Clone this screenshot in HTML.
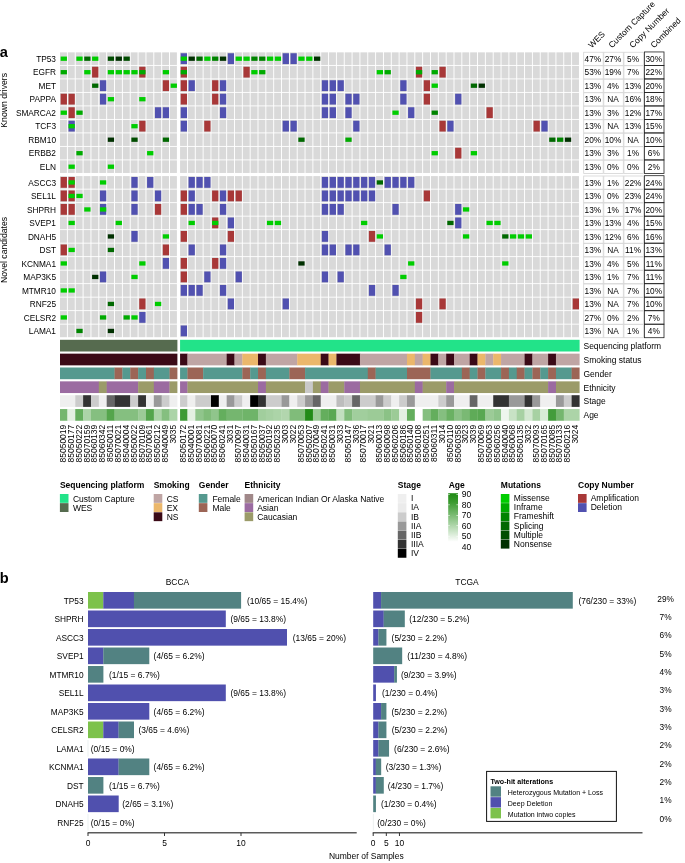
<!DOCTYPE html>
<html lang="en"><head><meta charset="utf-8"><title>Figure</title>
<style>
html,body{margin:0;padding:0;background:#fff;}
body{width:685px;height:863px;overflow:hidden;font-family:"Liberation Sans", sans-serif;}
svg{display:block;}
text{font-family:"Liberation Sans", sans-serif;}
</style></head><body>
<svg width="685" height="863" viewBox="0 0 685 863" font-family='"Liberation Sans", sans-serif'>
<rect x="60.00" y="52.35" width="6.90" height="12.60" fill="#d9d9d9"/>
<rect x="67.86" y="52.35" width="6.90" height="12.60" fill="#d9d9d9"/>
<rect x="75.71" y="52.35" width="6.90" height="12.60" fill="#d9d9d9"/>
<rect x="83.57" y="52.35" width="6.90" height="12.60" fill="#d9d9d9"/>
<rect x="91.43" y="52.35" width="6.90" height="12.60" fill="#d9d9d9"/>
<rect x="99.28" y="52.35" width="6.90" height="12.60" fill="#d9d9d9"/>
<rect x="107.14" y="52.35" width="6.90" height="12.60" fill="#d9d9d9"/>
<rect x="115.00" y="52.35" width="6.90" height="12.60" fill="#d9d9d9"/>
<rect x="122.86" y="52.35" width="6.90" height="12.60" fill="#d9d9d9"/>
<rect x="130.71" y="52.35" width="6.90" height="12.60" fill="#d9d9d9"/>
<rect x="138.57" y="52.35" width="6.90" height="12.60" fill="#d9d9d9"/>
<rect x="146.43" y="52.35" width="6.90" height="12.60" fill="#d9d9d9"/>
<rect x="154.28" y="52.35" width="6.90" height="12.60" fill="#d9d9d9"/>
<rect x="162.14" y="52.35" width="6.90" height="12.60" fill="#d9d9d9"/>
<rect x="170.00" y="52.35" width="6.90" height="12.60" fill="#d9d9d9"/>
<rect x="180.07" y="52.35" width="6.90" height="12.60" fill="#d9d9d9"/>
<rect x="187.91" y="52.35" width="6.90" height="12.60" fill="#d9d9d9"/>
<rect x="195.75" y="52.35" width="6.90" height="12.60" fill="#d9d9d9"/>
<rect x="203.59" y="52.35" width="6.90" height="12.60" fill="#d9d9d9"/>
<rect x="211.43" y="52.35" width="6.90" height="12.60" fill="#d9d9d9"/>
<rect x="219.27" y="52.35" width="6.90" height="12.60" fill="#d9d9d9"/>
<rect x="227.11" y="52.35" width="6.90" height="12.60" fill="#d9d9d9"/>
<rect x="234.95" y="52.35" width="6.90" height="12.60" fill="#d9d9d9"/>
<rect x="242.79" y="52.35" width="6.90" height="12.60" fill="#d9d9d9"/>
<rect x="250.63" y="52.35" width="6.90" height="12.60" fill="#d9d9d9"/>
<rect x="258.47" y="52.35" width="6.90" height="12.60" fill="#d9d9d9"/>
<rect x="266.31" y="52.35" width="6.90" height="12.60" fill="#d9d9d9"/>
<rect x="274.15" y="52.35" width="6.90" height="12.60" fill="#d9d9d9"/>
<rect x="281.99" y="52.35" width="6.90" height="12.60" fill="#d9d9d9"/>
<rect x="289.83" y="52.35" width="6.90" height="12.60" fill="#d9d9d9"/>
<rect x="297.67" y="52.35" width="6.90" height="12.60" fill="#d9d9d9"/>
<rect x="305.51" y="52.35" width="6.90" height="12.60" fill="#d9d9d9"/>
<rect x="313.35" y="52.35" width="6.90" height="12.60" fill="#d9d9d9"/>
<rect x="321.19" y="52.35" width="6.90" height="12.60" fill="#d9d9d9"/>
<rect x="329.03" y="52.35" width="6.90" height="12.60" fill="#d9d9d9"/>
<rect x="336.87" y="52.35" width="6.90" height="12.60" fill="#d9d9d9"/>
<rect x="344.71" y="52.35" width="6.90" height="12.60" fill="#d9d9d9"/>
<rect x="352.55" y="52.35" width="6.90" height="12.60" fill="#d9d9d9"/>
<rect x="360.39" y="52.35" width="6.90" height="12.60" fill="#d9d9d9"/>
<rect x="368.23" y="52.35" width="6.90" height="12.60" fill="#d9d9d9"/>
<rect x="376.07" y="52.35" width="6.90" height="12.60" fill="#d9d9d9"/>
<rect x="383.91" y="52.35" width="6.90" height="12.60" fill="#d9d9d9"/>
<rect x="391.75" y="52.35" width="6.90" height="12.60" fill="#d9d9d9"/>
<rect x="399.59" y="52.35" width="6.90" height="12.60" fill="#d9d9d9"/>
<rect x="407.43" y="52.35" width="6.90" height="12.60" fill="#d9d9d9"/>
<rect x="415.27" y="52.35" width="6.90" height="12.60" fill="#d9d9d9"/>
<rect x="423.11" y="52.35" width="6.90" height="12.60" fill="#d9d9d9"/>
<rect x="430.95" y="52.35" width="6.90" height="12.60" fill="#d9d9d9"/>
<rect x="438.79" y="52.35" width="6.90" height="12.60" fill="#d9d9d9"/>
<rect x="446.63" y="52.35" width="6.90" height="12.60" fill="#d9d9d9"/>
<rect x="454.47" y="52.35" width="6.90" height="12.60" fill="#d9d9d9"/>
<rect x="462.31" y="52.35" width="6.90" height="12.60" fill="#d9d9d9"/>
<rect x="470.15" y="52.35" width="6.90" height="12.60" fill="#d9d9d9"/>
<rect x="477.99" y="52.35" width="6.90" height="12.60" fill="#d9d9d9"/>
<rect x="485.83" y="52.35" width="6.90" height="12.60" fill="#d9d9d9"/>
<rect x="493.67" y="52.35" width="6.90" height="12.60" fill="#d9d9d9"/>
<rect x="501.51" y="52.35" width="6.90" height="12.60" fill="#d9d9d9"/>
<rect x="509.35" y="52.35" width="6.90" height="12.60" fill="#d9d9d9"/>
<rect x="517.19" y="52.35" width="6.90" height="12.60" fill="#d9d9d9"/>
<rect x="525.03" y="52.35" width="6.90" height="12.60" fill="#d9d9d9"/>
<rect x="532.87" y="52.35" width="6.90" height="12.60" fill="#d9d9d9"/>
<rect x="540.71" y="52.35" width="6.90" height="12.60" fill="#d9d9d9"/>
<rect x="548.55" y="52.35" width="6.90" height="12.60" fill="#d9d9d9"/>
<rect x="556.39" y="52.35" width="6.90" height="12.60" fill="#d9d9d9"/>
<rect x="564.23" y="52.35" width="6.90" height="12.60" fill="#d9d9d9"/>
<rect x="572.07" y="52.35" width="6.90" height="12.60" fill="#d9d9d9"/>
<rect x="60.65" y="56.55" width="6.30" height="4.30" fill="#00cd00"/>
<rect x="76.36" y="56.55" width="6.30" height="4.30" fill="#00cd00"/>
<rect x="84.22" y="56.55" width="6.30" height="4.30" fill="#006800"/>
<rect x="92.08" y="56.55" width="6.30" height="4.30" fill="#00cd00"/>
<rect x="107.79" y="56.55" width="6.30" height="4.30" fill="#004d00"/>
<rect x="115.65" y="56.55" width="6.30" height="4.30" fill="#003000"/>
<rect x="123.51" y="56.55" width="6.30" height="4.30" fill="#004d00"/>
<rect x="180.72" y="53.25" width="6.30" height="10.80" fill="#5151b0"/>
<rect x="180.72" y="56.55" width="6.30" height="4.30" fill="#00cd00"/>
<rect x="188.56" y="56.55" width="6.30" height="4.30" fill="#003000"/>
<rect x="196.40" y="56.55" width="6.30" height="4.30" fill="#006800"/>
<rect x="204.24" y="56.55" width="6.30" height="4.30" fill="#00cd00"/>
<rect x="212.08" y="56.55" width="6.30" height="4.30" fill="#008400"/>
<rect x="219.92" y="56.55" width="6.30" height="4.30" fill="#003000"/>
<rect x="227.76" y="53.25" width="6.30" height="10.80" fill="#5151b0"/>
<rect x="235.60" y="56.55" width="6.30" height="4.30" fill="#00cd00"/>
<rect x="243.44" y="56.55" width="6.30" height="4.30" fill="#00cd00"/>
<rect x="251.28" y="56.55" width="6.30" height="4.30" fill="#008400"/>
<rect x="259.12" y="56.55" width="6.30" height="4.30" fill="#008400"/>
<rect x="266.96" y="56.55" width="6.30" height="4.30" fill="#00cd00"/>
<rect x="274.80" y="56.55" width="6.30" height="4.30" fill="#00cd00"/>
<rect x="282.64" y="53.25" width="6.30" height="10.80" fill="#5151b0"/>
<rect x="290.48" y="53.25" width="6.30" height="10.80" fill="#5151b0"/>
<rect x="298.32" y="56.55" width="6.30" height="4.30" fill="#00cd00"/>
<rect x="306.16" y="56.55" width="6.30" height="4.30" fill="#00cd00"/>
<rect x="314.00" y="56.55" width="6.30" height="4.30" fill="#003000"/>
<text x="56.00" y="61.80" font-size="8.30" text-anchor="end" fill="#000">TP53</text>
<rect x="583.70" y="52.25" width="19.50" height="13.20" fill="#fff" stroke="#d4d4d4" stroke-width="0.8"/>
<text x="592.90" y="61.85" font-size="8.30" text-anchor="middle" fill="#000">47%</text>
<rect x="603.80" y="52.25" width="19.50" height="13.20" fill="#fff" stroke="#d4d4d4" stroke-width="0.8"/>
<text x="613.00" y="61.85" font-size="8.30" text-anchor="middle" fill="#000">27%</text>
<rect x="623.90" y="52.25" width="19.50" height="13.20" fill="#fff" stroke="#d4d4d4" stroke-width="0.8"/>
<text x="633.10" y="61.85" font-size="8.30" text-anchor="middle" fill="#000">5%</text>
<text x="653.80" y="61.85" font-size="8.30" text-anchor="middle" fill="#000">30%</text>
<rect x="644.40" y="51.95" width="19.60" height="13.50" fill="none" stroke="#222" stroke-width="0.8"/>
<rect x="60.00" y="65.85" width="6.90" height="12.60" fill="#d9d9d9"/>
<rect x="67.86" y="65.85" width="6.90" height="12.60" fill="#d9d9d9"/>
<rect x="75.71" y="65.85" width="6.90" height="12.60" fill="#d9d9d9"/>
<rect x="83.57" y="65.85" width="6.90" height="12.60" fill="#d9d9d9"/>
<rect x="91.43" y="65.85" width="6.90" height="12.60" fill="#d9d9d9"/>
<rect x="99.28" y="65.85" width="6.90" height="12.60" fill="#d9d9d9"/>
<rect x="107.14" y="65.85" width="6.90" height="12.60" fill="#d9d9d9"/>
<rect x="115.00" y="65.85" width="6.90" height="12.60" fill="#d9d9d9"/>
<rect x="122.86" y="65.85" width="6.90" height="12.60" fill="#d9d9d9"/>
<rect x="130.71" y="65.85" width="6.90" height="12.60" fill="#d9d9d9"/>
<rect x="138.57" y="65.85" width="6.90" height="12.60" fill="#d9d9d9"/>
<rect x="146.43" y="65.85" width="6.90" height="12.60" fill="#d9d9d9"/>
<rect x="154.28" y="65.85" width="6.90" height="12.60" fill="#d9d9d9"/>
<rect x="162.14" y="65.85" width="6.90" height="12.60" fill="#d9d9d9"/>
<rect x="170.00" y="65.85" width="6.90" height="12.60" fill="#d9d9d9"/>
<rect x="180.07" y="65.85" width="6.90" height="12.60" fill="#d9d9d9"/>
<rect x="187.91" y="65.85" width="6.90" height="12.60" fill="#d9d9d9"/>
<rect x="195.75" y="65.85" width="6.90" height="12.60" fill="#d9d9d9"/>
<rect x="203.59" y="65.85" width="6.90" height="12.60" fill="#d9d9d9"/>
<rect x="211.43" y="65.85" width="6.90" height="12.60" fill="#d9d9d9"/>
<rect x="219.27" y="65.85" width="6.90" height="12.60" fill="#d9d9d9"/>
<rect x="227.11" y="65.85" width="6.90" height="12.60" fill="#d9d9d9"/>
<rect x="234.95" y="65.85" width="6.90" height="12.60" fill="#d9d9d9"/>
<rect x="242.79" y="65.85" width="6.90" height="12.60" fill="#d9d9d9"/>
<rect x="250.63" y="65.85" width="6.90" height="12.60" fill="#d9d9d9"/>
<rect x="258.47" y="65.85" width="6.90" height="12.60" fill="#d9d9d9"/>
<rect x="266.31" y="65.85" width="6.90" height="12.60" fill="#d9d9d9"/>
<rect x="274.15" y="65.85" width="6.90" height="12.60" fill="#d9d9d9"/>
<rect x="281.99" y="65.85" width="6.90" height="12.60" fill="#d9d9d9"/>
<rect x="289.83" y="65.85" width="6.90" height="12.60" fill="#d9d9d9"/>
<rect x="297.67" y="65.85" width="6.90" height="12.60" fill="#d9d9d9"/>
<rect x="305.51" y="65.85" width="6.90" height="12.60" fill="#d9d9d9"/>
<rect x="313.35" y="65.85" width="6.90" height="12.60" fill="#d9d9d9"/>
<rect x="321.19" y="65.85" width="6.90" height="12.60" fill="#d9d9d9"/>
<rect x="329.03" y="65.85" width="6.90" height="12.60" fill="#d9d9d9"/>
<rect x="336.87" y="65.85" width="6.90" height="12.60" fill="#d9d9d9"/>
<rect x="344.71" y="65.85" width="6.90" height="12.60" fill="#d9d9d9"/>
<rect x="352.55" y="65.85" width="6.90" height="12.60" fill="#d9d9d9"/>
<rect x="360.39" y="65.85" width="6.90" height="12.60" fill="#d9d9d9"/>
<rect x="368.23" y="65.85" width="6.90" height="12.60" fill="#d9d9d9"/>
<rect x="376.07" y="65.85" width="6.90" height="12.60" fill="#d9d9d9"/>
<rect x="383.91" y="65.85" width="6.90" height="12.60" fill="#d9d9d9"/>
<rect x="391.75" y="65.85" width="6.90" height="12.60" fill="#d9d9d9"/>
<rect x="399.59" y="65.85" width="6.90" height="12.60" fill="#d9d9d9"/>
<rect x="407.43" y="65.85" width="6.90" height="12.60" fill="#d9d9d9"/>
<rect x="415.27" y="65.85" width="6.90" height="12.60" fill="#d9d9d9"/>
<rect x="423.11" y="65.85" width="6.90" height="12.60" fill="#d9d9d9"/>
<rect x="430.95" y="65.85" width="6.90" height="12.60" fill="#d9d9d9"/>
<rect x="438.79" y="65.85" width="6.90" height="12.60" fill="#d9d9d9"/>
<rect x="446.63" y="65.85" width="6.90" height="12.60" fill="#d9d9d9"/>
<rect x="454.47" y="65.85" width="6.90" height="12.60" fill="#d9d9d9"/>
<rect x="462.31" y="65.85" width="6.90" height="12.60" fill="#d9d9d9"/>
<rect x="470.15" y="65.85" width="6.90" height="12.60" fill="#d9d9d9"/>
<rect x="477.99" y="65.85" width="6.90" height="12.60" fill="#d9d9d9"/>
<rect x="485.83" y="65.85" width="6.90" height="12.60" fill="#d9d9d9"/>
<rect x="493.67" y="65.85" width="6.90" height="12.60" fill="#d9d9d9"/>
<rect x="501.51" y="65.85" width="6.90" height="12.60" fill="#d9d9d9"/>
<rect x="509.35" y="65.85" width="6.90" height="12.60" fill="#d9d9d9"/>
<rect x="517.19" y="65.85" width="6.90" height="12.60" fill="#d9d9d9"/>
<rect x="525.03" y="65.85" width="6.90" height="12.60" fill="#d9d9d9"/>
<rect x="532.87" y="65.85" width="6.90" height="12.60" fill="#d9d9d9"/>
<rect x="540.71" y="65.85" width="6.90" height="12.60" fill="#d9d9d9"/>
<rect x="548.55" y="65.85" width="6.90" height="12.60" fill="#d9d9d9"/>
<rect x="556.39" y="65.85" width="6.90" height="12.60" fill="#d9d9d9"/>
<rect x="564.23" y="65.85" width="6.90" height="12.60" fill="#d9d9d9"/>
<rect x="572.07" y="65.85" width="6.90" height="12.60" fill="#d9d9d9"/>
<rect x="60.65" y="70.05" width="6.30" height="4.30" fill="#00aa00"/>
<rect x="84.22" y="70.05" width="6.30" height="4.30" fill="#00cd00"/>
<rect x="92.08" y="66.75" width="6.30" height="10.80" fill="#a83838"/>
<rect x="107.79" y="70.05" width="6.30" height="4.30" fill="#00cd00"/>
<rect x="115.65" y="70.05" width="6.30" height="4.30" fill="#00cd00"/>
<rect x="123.51" y="70.05" width="6.30" height="4.30" fill="#00cd00"/>
<rect x="131.36" y="70.05" width="6.30" height="4.30" fill="#00cd00"/>
<rect x="139.22" y="66.75" width="6.30" height="10.80" fill="#a83838"/>
<rect x="139.22" y="70.05" width="6.30" height="4.30" fill="#00aa00"/>
<rect x="162.79" y="70.05" width="6.30" height="4.30" fill="#00cd00"/>
<rect x="180.72" y="66.75" width="6.30" height="10.80" fill="#a83838"/>
<rect x="180.72" y="70.05" width="6.30" height="4.30" fill="#00aa00"/>
<rect x="243.44" y="66.75" width="6.30" height="10.80" fill="#a83838"/>
<rect x="251.28" y="70.05" width="6.30" height="4.30" fill="#00cd00"/>
<rect x="259.12" y="70.05" width="6.30" height="4.30" fill="#00aa00"/>
<rect x="376.72" y="70.05" width="6.30" height="4.30" fill="#00cd00"/>
<rect x="384.56" y="70.05" width="6.30" height="4.30" fill="#00aa00"/>
<rect x="415.92" y="66.75" width="6.30" height="10.80" fill="#a83838"/>
<rect x="415.92" y="70.05" width="6.30" height="4.30" fill="#00aa00"/>
<rect x="431.60" y="70.05" width="6.30" height="4.30" fill="#00aa00"/>
<rect x="439.44" y="66.75" width="6.30" height="10.80" fill="#a83838"/>
<text x="56.00" y="75.30" font-size="8.30" text-anchor="end" fill="#000">EGFR</text>
<rect x="583.70" y="65.75" width="19.50" height="13.20" fill="#fff" stroke="#d4d4d4" stroke-width="0.8"/>
<text x="592.90" y="75.35" font-size="8.30" text-anchor="middle" fill="#000">53%</text>
<rect x="603.80" y="65.75" width="19.50" height="13.20" fill="#fff" stroke="#d4d4d4" stroke-width="0.8"/>
<text x="613.00" y="75.35" font-size="8.30" text-anchor="middle" fill="#000">19%</text>
<rect x="623.90" y="65.75" width="19.50" height="13.20" fill="#fff" stroke="#d4d4d4" stroke-width="0.8"/>
<text x="633.10" y="75.35" font-size="8.30" text-anchor="middle" fill="#000">7%</text>
<text x="653.80" y="75.35" font-size="8.30" text-anchor="middle" fill="#000">22%</text>
<rect x="644.40" y="65.45" width="19.60" height="13.50" fill="none" stroke="#222" stroke-width="0.8"/>
<rect x="60.00" y="79.35" width="6.90" height="12.60" fill="#d9d9d9"/>
<rect x="67.86" y="79.35" width="6.90" height="12.60" fill="#d9d9d9"/>
<rect x="75.71" y="79.35" width="6.90" height="12.60" fill="#d9d9d9"/>
<rect x="83.57" y="79.35" width="6.90" height="12.60" fill="#d9d9d9"/>
<rect x="91.43" y="79.35" width="6.90" height="12.60" fill="#d9d9d9"/>
<rect x="99.28" y="79.35" width="6.90" height="12.60" fill="#d9d9d9"/>
<rect x="107.14" y="79.35" width="6.90" height="12.60" fill="#d9d9d9"/>
<rect x="115.00" y="79.35" width="6.90" height="12.60" fill="#d9d9d9"/>
<rect x="122.86" y="79.35" width="6.90" height="12.60" fill="#d9d9d9"/>
<rect x="130.71" y="79.35" width="6.90" height="12.60" fill="#d9d9d9"/>
<rect x="138.57" y="79.35" width="6.90" height="12.60" fill="#d9d9d9"/>
<rect x="146.43" y="79.35" width="6.90" height="12.60" fill="#d9d9d9"/>
<rect x="154.28" y="79.35" width="6.90" height="12.60" fill="#d9d9d9"/>
<rect x="162.14" y="79.35" width="6.90" height="12.60" fill="#d9d9d9"/>
<rect x="170.00" y="79.35" width="6.90" height="12.60" fill="#d9d9d9"/>
<rect x="180.07" y="79.35" width="6.90" height="12.60" fill="#d9d9d9"/>
<rect x="187.91" y="79.35" width="6.90" height="12.60" fill="#d9d9d9"/>
<rect x="195.75" y="79.35" width="6.90" height="12.60" fill="#d9d9d9"/>
<rect x="203.59" y="79.35" width="6.90" height="12.60" fill="#d9d9d9"/>
<rect x="211.43" y="79.35" width="6.90" height="12.60" fill="#d9d9d9"/>
<rect x="219.27" y="79.35" width="6.90" height="12.60" fill="#d9d9d9"/>
<rect x="227.11" y="79.35" width="6.90" height="12.60" fill="#d9d9d9"/>
<rect x="234.95" y="79.35" width="6.90" height="12.60" fill="#d9d9d9"/>
<rect x="242.79" y="79.35" width="6.90" height="12.60" fill="#d9d9d9"/>
<rect x="250.63" y="79.35" width="6.90" height="12.60" fill="#d9d9d9"/>
<rect x="258.47" y="79.35" width="6.90" height="12.60" fill="#d9d9d9"/>
<rect x="266.31" y="79.35" width="6.90" height="12.60" fill="#d9d9d9"/>
<rect x="274.15" y="79.35" width="6.90" height="12.60" fill="#d9d9d9"/>
<rect x="281.99" y="79.35" width="6.90" height="12.60" fill="#d9d9d9"/>
<rect x="289.83" y="79.35" width="6.90" height="12.60" fill="#d9d9d9"/>
<rect x="297.67" y="79.35" width="6.90" height="12.60" fill="#d9d9d9"/>
<rect x="305.51" y="79.35" width="6.90" height="12.60" fill="#d9d9d9"/>
<rect x="313.35" y="79.35" width="6.90" height="12.60" fill="#d9d9d9"/>
<rect x="321.19" y="79.35" width="6.90" height="12.60" fill="#d9d9d9"/>
<rect x="329.03" y="79.35" width="6.90" height="12.60" fill="#d9d9d9"/>
<rect x="336.87" y="79.35" width="6.90" height="12.60" fill="#d9d9d9"/>
<rect x="344.71" y="79.35" width="6.90" height="12.60" fill="#d9d9d9"/>
<rect x="352.55" y="79.35" width="6.90" height="12.60" fill="#d9d9d9"/>
<rect x="360.39" y="79.35" width="6.90" height="12.60" fill="#d9d9d9"/>
<rect x="368.23" y="79.35" width="6.90" height="12.60" fill="#d9d9d9"/>
<rect x="376.07" y="79.35" width="6.90" height="12.60" fill="#d9d9d9"/>
<rect x="383.91" y="79.35" width="6.90" height="12.60" fill="#d9d9d9"/>
<rect x="391.75" y="79.35" width="6.90" height="12.60" fill="#d9d9d9"/>
<rect x="399.59" y="79.35" width="6.90" height="12.60" fill="#d9d9d9"/>
<rect x="407.43" y="79.35" width="6.90" height="12.60" fill="#d9d9d9"/>
<rect x="415.27" y="79.35" width="6.90" height="12.60" fill="#d9d9d9"/>
<rect x="423.11" y="79.35" width="6.90" height="12.60" fill="#d9d9d9"/>
<rect x="430.95" y="79.35" width="6.90" height="12.60" fill="#d9d9d9"/>
<rect x="438.79" y="79.35" width="6.90" height="12.60" fill="#d9d9d9"/>
<rect x="446.63" y="79.35" width="6.90" height="12.60" fill="#d9d9d9"/>
<rect x="454.47" y="79.35" width="6.90" height="12.60" fill="#d9d9d9"/>
<rect x="462.31" y="79.35" width="6.90" height="12.60" fill="#d9d9d9"/>
<rect x="470.15" y="79.35" width="6.90" height="12.60" fill="#d9d9d9"/>
<rect x="477.99" y="79.35" width="6.90" height="12.60" fill="#d9d9d9"/>
<rect x="485.83" y="79.35" width="6.90" height="12.60" fill="#d9d9d9"/>
<rect x="493.67" y="79.35" width="6.90" height="12.60" fill="#d9d9d9"/>
<rect x="501.51" y="79.35" width="6.90" height="12.60" fill="#d9d9d9"/>
<rect x="509.35" y="79.35" width="6.90" height="12.60" fill="#d9d9d9"/>
<rect x="517.19" y="79.35" width="6.90" height="12.60" fill="#d9d9d9"/>
<rect x="525.03" y="79.35" width="6.90" height="12.60" fill="#d9d9d9"/>
<rect x="532.87" y="79.35" width="6.90" height="12.60" fill="#d9d9d9"/>
<rect x="540.71" y="79.35" width="6.90" height="12.60" fill="#d9d9d9"/>
<rect x="548.55" y="79.35" width="6.90" height="12.60" fill="#d9d9d9"/>
<rect x="556.39" y="79.35" width="6.90" height="12.60" fill="#d9d9d9"/>
<rect x="564.23" y="79.35" width="6.90" height="12.60" fill="#d9d9d9"/>
<rect x="572.07" y="79.35" width="6.90" height="12.60" fill="#d9d9d9"/>
<rect x="92.08" y="83.55" width="6.30" height="4.30" fill="#006800"/>
<rect x="99.94" y="80.25" width="6.30" height="10.80" fill="#5151b0"/>
<rect x="162.79" y="80.25" width="6.30" height="10.80" fill="#a83838"/>
<rect x="170.65" y="83.55" width="6.30" height="4.30" fill="#00cd00"/>
<rect x="180.72" y="80.25" width="6.30" height="10.80" fill="#a83838"/>
<rect x="188.56" y="80.25" width="6.30" height="10.80" fill="#5151b0"/>
<rect x="212.08" y="80.25" width="6.30" height="10.80" fill="#a83838"/>
<rect x="219.92" y="80.25" width="6.30" height="10.80" fill="#5151b0"/>
<rect x="321.84" y="80.25" width="6.30" height="10.80" fill="#5151b0"/>
<rect x="329.68" y="80.25" width="6.30" height="10.80" fill="#5151b0"/>
<rect x="337.52" y="80.25" width="6.30" height="10.80" fill="#5151b0"/>
<rect x="400.24" y="80.25" width="6.30" height="10.80" fill="#5151b0"/>
<rect x="423.76" y="80.25" width="6.30" height="10.80" fill="#a83838"/>
<rect x="431.60" y="83.55" width="6.30" height="4.30" fill="#00cd00"/>
<rect x="470.80" y="83.55" width="6.30" height="4.30" fill="#006800"/>
<rect x="478.64" y="83.55" width="6.30" height="4.30" fill="#003000"/>
<text x="56.00" y="88.80" font-size="8.30" text-anchor="end" fill="#000">MET</text>
<rect x="583.70" y="79.25" width="19.50" height="13.20" fill="#fff" stroke="#d4d4d4" stroke-width="0.8"/>
<text x="592.90" y="88.85" font-size="8.30" text-anchor="middle" fill="#000">13%</text>
<rect x="603.80" y="79.25" width="19.50" height="13.20" fill="#fff" stroke="#d4d4d4" stroke-width="0.8"/>
<text x="613.00" y="88.85" font-size="8.30" text-anchor="middle" fill="#000">4%</text>
<rect x="623.90" y="79.25" width="19.50" height="13.20" fill="#fff" stroke="#d4d4d4" stroke-width="0.8"/>
<text x="633.10" y="88.85" font-size="8.30" text-anchor="middle" fill="#000">13%</text>
<text x="653.80" y="88.85" font-size="8.30" text-anchor="middle" fill="#000">20%</text>
<rect x="644.40" y="78.95" width="19.60" height="13.50" fill="none" stroke="#222" stroke-width="0.8"/>
<rect x="60.00" y="92.85" width="6.90" height="12.60" fill="#d9d9d9"/>
<rect x="67.86" y="92.85" width="6.90" height="12.60" fill="#d9d9d9"/>
<rect x="75.71" y="92.85" width="6.90" height="12.60" fill="#d9d9d9"/>
<rect x="83.57" y="92.85" width="6.90" height="12.60" fill="#d9d9d9"/>
<rect x="91.43" y="92.85" width="6.90" height="12.60" fill="#d9d9d9"/>
<rect x="99.28" y="92.85" width="6.90" height="12.60" fill="#d9d9d9"/>
<rect x="107.14" y="92.85" width="6.90" height="12.60" fill="#d9d9d9"/>
<rect x="115.00" y="92.85" width="6.90" height="12.60" fill="#d9d9d9"/>
<rect x="122.86" y="92.85" width="6.90" height="12.60" fill="#d9d9d9"/>
<rect x="130.71" y="92.85" width="6.90" height="12.60" fill="#d9d9d9"/>
<rect x="138.57" y="92.85" width="6.90" height="12.60" fill="#d9d9d9"/>
<rect x="146.43" y="92.85" width="6.90" height="12.60" fill="#d9d9d9"/>
<rect x="154.28" y="92.85" width="6.90" height="12.60" fill="#d9d9d9"/>
<rect x="162.14" y="92.85" width="6.90" height="12.60" fill="#d9d9d9"/>
<rect x="170.00" y="92.85" width="6.90" height="12.60" fill="#d9d9d9"/>
<rect x="180.07" y="92.85" width="6.90" height="12.60" fill="#d9d9d9"/>
<rect x="187.91" y="92.85" width="6.90" height="12.60" fill="#d9d9d9"/>
<rect x="195.75" y="92.85" width="6.90" height="12.60" fill="#d9d9d9"/>
<rect x="203.59" y="92.85" width="6.90" height="12.60" fill="#d9d9d9"/>
<rect x="211.43" y="92.85" width="6.90" height="12.60" fill="#d9d9d9"/>
<rect x="219.27" y="92.85" width="6.90" height="12.60" fill="#d9d9d9"/>
<rect x="227.11" y="92.85" width="6.90" height="12.60" fill="#d9d9d9"/>
<rect x="234.95" y="92.85" width="6.90" height="12.60" fill="#d9d9d9"/>
<rect x="242.79" y="92.85" width="6.90" height="12.60" fill="#d9d9d9"/>
<rect x="250.63" y="92.85" width="6.90" height="12.60" fill="#d9d9d9"/>
<rect x="258.47" y="92.85" width="6.90" height="12.60" fill="#d9d9d9"/>
<rect x="266.31" y="92.85" width="6.90" height="12.60" fill="#d9d9d9"/>
<rect x="274.15" y="92.85" width="6.90" height="12.60" fill="#d9d9d9"/>
<rect x="281.99" y="92.85" width="6.90" height="12.60" fill="#d9d9d9"/>
<rect x="289.83" y="92.85" width="6.90" height="12.60" fill="#d9d9d9"/>
<rect x="297.67" y="92.85" width="6.90" height="12.60" fill="#d9d9d9"/>
<rect x="305.51" y="92.85" width="6.90" height="12.60" fill="#d9d9d9"/>
<rect x="313.35" y="92.85" width="6.90" height="12.60" fill="#d9d9d9"/>
<rect x="321.19" y="92.85" width="6.90" height="12.60" fill="#d9d9d9"/>
<rect x="329.03" y="92.85" width="6.90" height="12.60" fill="#d9d9d9"/>
<rect x="336.87" y="92.85" width="6.90" height="12.60" fill="#d9d9d9"/>
<rect x="344.71" y="92.85" width="6.90" height="12.60" fill="#d9d9d9"/>
<rect x="352.55" y="92.85" width="6.90" height="12.60" fill="#d9d9d9"/>
<rect x="360.39" y="92.85" width="6.90" height="12.60" fill="#d9d9d9"/>
<rect x="368.23" y="92.85" width="6.90" height="12.60" fill="#d9d9d9"/>
<rect x="376.07" y="92.85" width="6.90" height="12.60" fill="#d9d9d9"/>
<rect x="383.91" y="92.85" width="6.90" height="12.60" fill="#d9d9d9"/>
<rect x="391.75" y="92.85" width="6.90" height="12.60" fill="#d9d9d9"/>
<rect x="399.59" y="92.85" width="6.90" height="12.60" fill="#d9d9d9"/>
<rect x="407.43" y="92.85" width="6.90" height="12.60" fill="#d9d9d9"/>
<rect x="415.27" y="92.85" width="6.90" height="12.60" fill="#d9d9d9"/>
<rect x="423.11" y="92.85" width="6.90" height="12.60" fill="#d9d9d9"/>
<rect x="430.95" y="92.85" width="6.90" height="12.60" fill="#d9d9d9"/>
<rect x="438.79" y="92.85" width="6.90" height="12.60" fill="#d9d9d9"/>
<rect x="446.63" y="92.85" width="6.90" height="12.60" fill="#d9d9d9"/>
<rect x="454.47" y="92.85" width="6.90" height="12.60" fill="#d9d9d9"/>
<rect x="462.31" y="92.85" width="6.90" height="12.60" fill="#d9d9d9"/>
<rect x="470.15" y="92.85" width="6.90" height="12.60" fill="#d9d9d9"/>
<rect x="477.99" y="92.85" width="6.90" height="12.60" fill="#d9d9d9"/>
<rect x="485.83" y="92.85" width="6.90" height="12.60" fill="#d9d9d9"/>
<rect x="493.67" y="92.85" width="6.90" height="12.60" fill="#d9d9d9"/>
<rect x="501.51" y="92.85" width="6.90" height="12.60" fill="#d9d9d9"/>
<rect x="509.35" y="92.85" width="6.90" height="12.60" fill="#d9d9d9"/>
<rect x="517.19" y="92.85" width="6.90" height="12.60" fill="#d9d9d9"/>
<rect x="525.03" y="92.85" width="6.90" height="12.60" fill="#d9d9d9"/>
<rect x="532.87" y="92.85" width="6.90" height="12.60" fill="#d9d9d9"/>
<rect x="540.71" y="92.85" width="6.90" height="12.60" fill="#d9d9d9"/>
<rect x="548.55" y="92.85" width="6.90" height="12.60" fill="#d9d9d9"/>
<rect x="556.39" y="92.85" width="6.90" height="12.60" fill="#d9d9d9"/>
<rect x="564.23" y="92.85" width="6.90" height="12.60" fill="#d9d9d9"/>
<rect x="572.07" y="92.85" width="6.90" height="12.60" fill="#d9d9d9"/>
<rect x="60.65" y="93.75" width="6.30" height="10.80" fill="#a83838"/>
<rect x="68.51" y="93.75" width="6.30" height="10.80" fill="#a83838"/>
<rect x="99.94" y="93.75" width="6.30" height="10.80" fill="#5151b0"/>
<rect x="107.79" y="97.05" width="6.30" height="4.30" fill="#00cd00"/>
<rect x="139.22" y="97.05" width="6.30" height="4.30" fill="#00cd00"/>
<rect x="180.72" y="93.75" width="6.30" height="10.80" fill="#a83838"/>
<rect x="212.08" y="93.75" width="6.30" height="10.80" fill="#a83838"/>
<rect x="219.92" y="93.75" width="6.30" height="10.80" fill="#5151b0"/>
<rect x="321.84" y="93.75" width="6.30" height="10.80" fill="#5151b0"/>
<rect x="329.68" y="93.75" width="6.30" height="10.80" fill="#5151b0"/>
<rect x="345.36" y="93.75" width="6.30" height="10.80" fill="#5151b0"/>
<rect x="353.20" y="93.75" width="6.30" height="10.80" fill="#5151b0"/>
<rect x="400.24" y="93.75" width="6.30" height="10.80" fill="#5151b0"/>
<rect x="423.76" y="93.75" width="6.30" height="10.80" fill="#a83838"/>
<rect x="455.12" y="93.75" width="6.30" height="10.80" fill="#5151b0"/>
<text x="56.00" y="102.30" font-size="8.30" text-anchor="end" fill="#000">PAPPA</text>
<rect x="583.70" y="92.75" width="19.50" height="13.20" fill="#fff" stroke="#d4d4d4" stroke-width="0.8"/>
<text x="592.90" y="102.35" font-size="8.30" text-anchor="middle" fill="#000">13%</text>
<rect x="603.80" y="92.75" width="19.50" height="13.20" fill="#fff" stroke="#d4d4d4" stroke-width="0.8"/>
<text x="613.00" y="102.35" font-size="8.30" text-anchor="middle" fill="#000">NA</text>
<rect x="623.90" y="92.75" width="19.50" height="13.20" fill="#fff" stroke="#d4d4d4" stroke-width="0.8"/>
<text x="633.10" y="102.35" font-size="8.30" text-anchor="middle" fill="#000">16%</text>
<text x="653.80" y="102.35" font-size="8.30" text-anchor="middle" fill="#000">18%</text>
<rect x="644.40" y="92.45" width="19.60" height="13.50" fill="none" stroke="#222" stroke-width="0.8"/>
<rect x="60.00" y="106.35" width="6.90" height="12.60" fill="#d9d9d9"/>
<rect x="67.86" y="106.35" width="6.90" height="12.60" fill="#d9d9d9"/>
<rect x="75.71" y="106.35" width="6.90" height="12.60" fill="#d9d9d9"/>
<rect x="83.57" y="106.35" width="6.90" height="12.60" fill="#d9d9d9"/>
<rect x="91.43" y="106.35" width="6.90" height="12.60" fill="#d9d9d9"/>
<rect x="99.28" y="106.35" width="6.90" height="12.60" fill="#d9d9d9"/>
<rect x="107.14" y="106.35" width="6.90" height="12.60" fill="#d9d9d9"/>
<rect x="115.00" y="106.35" width="6.90" height="12.60" fill="#d9d9d9"/>
<rect x="122.86" y="106.35" width="6.90" height="12.60" fill="#d9d9d9"/>
<rect x="130.71" y="106.35" width="6.90" height="12.60" fill="#d9d9d9"/>
<rect x="138.57" y="106.35" width="6.90" height="12.60" fill="#d9d9d9"/>
<rect x="146.43" y="106.35" width="6.90" height="12.60" fill="#d9d9d9"/>
<rect x="154.28" y="106.35" width="6.90" height="12.60" fill="#d9d9d9"/>
<rect x="162.14" y="106.35" width="6.90" height="12.60" fill="#d9d9d9"/>
<rect x="170.00" y="106.35" width="6.90" height="12.60" fill="#d9d9d9"/>
<rect x="180.07" y="106.35" width="6.90" height="12.60" fill="#d9d9d9"/>
<rect x="187.91" y="106.35" width="6.90" height="12.60" fill="#d9d9d9"/>
<rect x="195.75" y="106.35" width="6.90" height="12.60" fill="#d9d9d9"/>
<rect x="203.59" y="106.35" width="6.90" height="12.60" fill="#d9d9d9"/>
<rect x="211.43" y="106.35" width="6.90" height="12.60" fill="#d9d9d9"/>
<rect x="219.27" y="106.35" width="6.90" height="12.60" fill="#d9d9d9"/>
<rect x="227.11" y="106.35" width="6.90" height="12.60" fill="#d9d9d9"/>
<rect x="234.95" y="106.35" width="6.90" height="12.60" fill="#d9d9d9"/>
<rect x="242.79" y="106.35" width="6.90" height="12.60" fill="#d9d9d9"/>
<rect x="250.63" y="106.35" width="6.90" height="12.60" fill="#d9d9d9"/>
<rect x="258.47" y="106.35" width="6.90" height="12.60" fill="#d9d9d9"/>
<rect x="266.31" y="106.35" width="6.90" height="12.60" fill="#d9d9d9"/>
<rect x="274.15" y="106.35" width="6.90" height="12.60" fill="#d9d9d9"/>
<rect x="281.99" y="106.35" width="6.90" height="12.60" fill="#d9d9d9"/>
<rect x="289.83" y="106.35" width="6.90" height="12.60" fill="#d9d9d9"/>
<rect x="297.67" y="106.35" width="6.90" height="12.60" fill="#d9d9d9"/>
<rect x="305.51" y="106.35" width="6.90" height="12.60" fill="#d9d9d9"/>
<rect x="313.35" y="106.35" width="6.90" height="12.60" fill="#d9d9d9"/>
<rect x="321.19" y="106.35" width="6.90" height="12.60" fill="#d9d9d9"/>
<rect x="329.03" y="106.35" width="6.90" height="12.60" fill="#d9d9d9"/>
<rect x="336.87" y="106.35" width="6.90" height="12.60" fill="#d9d9d9"/>
<rect x="344.71" y="106.35" width="6.90" height="12.60" fill="#d9d9d9"/>
<rect x="352.55" y="106.35" width="6.90" height="12.60" fill="#d9d9d9"/>
<rect x="360.39" y="106.35" width="6.90" height="12.60" fill="#d9d9d9"/>
<rect x="368.23" y="106.35" width="6.90" height="12.60" fill="#d9d9d9"/>
<rect x="376.07" y="106.35" width="6.90" height="12.60" fill="#d9d9d9"/>
<rect x="383.91" y="106.35" width="6.90" height="12.60" fill="#d9d9d9"/>
<rect x="391.75" y="106.35" width="6.90" height="12.60" fill="#d9d9d9"/>
<rect x="399.59" y="106.35" width="6.90" height="12.60" fill="#d9d9d9"/>
<rect x="407.43" y="106.35" width="6.90" height="12.60" fill="#d9d9d9"/>
<rect x="415.27" y="106.35" width="6.90" height="12.60" fill="#d9d9d9"/>
<rect x="423.11" y="106.35" width="6.90" height="12.60" fill="#d9d9d9"/>
<rect x="430.95" y="106.35" width="6.90" height="12.60" fill="#d9d9d9"/>
<rect x="438.79" y="106.35" width="6.90" height="12.60" fill="#d9d9d9"/>
<rect x="446.63" y="106.35" width="6.90" height="12.60" fill="#d9d9d9"/>
<rect x="454.47" y="106.35" width="6.90" height="12.60" fill="#d9d9d9"/>
<rect x="462.31" y="106.35" width="6.90" height="12.60" fill="#d9d9d9"/>
<rect x="470.15" y="106.35" width="6.90" height="12.60" fill="#d9d9d9"/>
<rect x="477.99" y="106.35" width="6.90" height="12.60" fill="#d9d9d9"/>
<rect x="485.83" y="106.35" width="6.90" height="12.60" fill="#d9d9d9"/>
<rect x="493.67" y="106.35" width="6.90" height="12.60" fill="#d9d9d9"/>
<rect x="501.51" y="106.35" width="6.90" height="12.60" fill="#d9d9d9"/>
<rect x="509.35" y="106.35" width="6.90" height="12.60" fill="#d9d9d9"/>
<rect x="517.19" y="106.35" width="6.90" height="12.60" fill="#d9d9d9"/>
<rect x="525.03" y="106.35" width="6.90" height="12.60" fill="#d9d9d9"/>
<rect x="532.87" y="106.35" width="6.90" height="12.60" fill="#d9d9d9"/>
<rect x="540.71" y="106.35" width="6.90" height="12.60" fill="#d9d9d9"/>
<rect x="548.55" y="106.35" width="6.90" height="12.60" fill="#d9d9d9"/>
<rect x="556.39" y="106.35" width="6.90" height="12.60" fill="#d9d9d9"/>
<rect x="564.23" y="106.35" width="6.90" height="12.60" fill="#d9d9d9"/>
<rect x="572.07" y="106.35" width="6.90" height="12.60" fill="#d9d9d9"/>
<rect x="60.65" y="110.55" width="6.30" height="4.30" fill="#00cd00"/>
<rect x="68.51" y="107.25" width="6.30" height="10.80" fill="#a83838"/>
<rect x="76.36" y="110.55" width="6.30" height="4.30" fill="#00aa00"/>
<rect x="154.93" y="107.25" width="6.30" height="10.80" fill="#5151b0"/>
<rect x="162.79" y="107.25" width="6.30" height="10.80" fill="#5151b0"/>
<rect x="180.72" y="107.25" width="6.30" height="10.80" fill="#5151b0"/>
<rect x="219.92" y="107.25" width="6.30" height="10.80" fill="#5151b0"/>
<rect x="321.84" y="107.25" width="6.30" height="10.80" fill="#5151b0"/>
<rect x="329.68" y="107.25" width="6.30" height="10.80" fill="#5151b0"/>
<rect x="345.36" y="107.25" width="6.30" height="10.80" fill="#5151b0"/>
<rect x="392.40" y="110.55" width="6.30" height="4.30" fill="#00cd00"/>
<rect x="408.08" y="107.25" width="6.30" height="10.80" fill="#5151b0"/>
<rect x="431.60" y="110.55" width="6.30" height="4.30" fill="#008400"/>
<rect x="486.48" y="107.25" width="6.30" height="10.80" fill="#a83838"/>
<text x="56.00" y="115.80" font-size="8.30" text-anchor="end" fill="#000">SMARCA2</text>
<rect x="583.70" y="106.25" width="19.50" height="13.20" fill="#fff" stroke="#d4d4d4" stroke-width="0.8"/>
<text x="592.90" y="115.85" font-size="8.30" text-anchor="middle" fill="#000">13%</text>
<rect x="603.80" y="106.25" width="19.50" height="13.20" fill="#fff" stroke="#d4d4d4" stroke-width="0.8"/>
<text x="613.00" y="115.85" font-size="8.30" text-anchor="middle" fill="#000">3%</text>
<rect x="623.90" y="106.25" width="19.50" height="13.20" fill="#fff" stroke="#d4d4d4" stroke-width="0.8"/>
<text x="633.10" y="115.85" font-size="8.30" text-anchor="middle" fill="#000">12%</text>
<text x="653.80" y="115.85" font-size="8.30" text-anchor="middle" fill="#000">17%</text>
<rect x="644.40" y="105.95" width="19.60" height="13.50" fill="none" stroke="#222" stroke-width="0.8"/>
<rect x="60.00" y="119.85" width="6.90" height="12.60" fill="#d9d9d9"/>
<rect x="67.86" y="119.85" width="6.90" height="12.60" fill="#d9d9d9"/>
<rect x="75.71" y="119.85" width="6.90" height="12.60" fill="#d9d9d9"/>
<rect x="83.57" y="119.85" width="6.90" height="12.60" fill="#d9d9d9"/>
<rect x="91.43" y="119.85" width="6.90" height="12.60" fill="#d9d9d9"/>
<rect x="99.28" y="119.85" width="6.90" height="12.60" fill="#d9d9d9"/>
<rect x="107.14" y="119.85" width="6.90" height="12.60" fill="#d9d9d9"/>
<rect x="115.00" y="119.85" width="6.90" height="12.60" fill="#d9d9d9"/>
<rect x="122.86" y="119.85" width="6.90" height="12.60" fill="#d9d9d9"/>
<rect x="130.71" y="119.85" width="6.90" height="12.60" fill="#d9d9d9"/>
<rect x="138.57" y="119.85" width="6.90" height="12.60" fill="#d9d9d9"/>
<rect x="146.43" y="119.85" width="6.90" height="12.60" fill="#d9d9d9"/>
<rect x="154.28" y="119.85" width="6.90" height="12.60" fill="#d9d9d9"/>
<rect x="162.14" y="119.85" width="6.90" height="12.60" fill="#d9d9d9"/>
<rect x="170.00" y="119.85" width="6.90" height="12.60" fill="#d9d9d9"/>
<rect x="180.07" y="119.85" width="6.90" height="12.60" fill="#d9d9d9"/>
<rect x="187.91" y="119.85" width="6.90" height="12.60" fill="#d9d9d9"/>
<rect x="195.75" y="119.85" width="6.90" height="12.60" fill="#d9d9d9"/>
<rect x="203.59" y="119.85" width="6.90" height="12.60" fill="#d9d9d9"/>
<rect x="211.43" y="119.85" width="6.90" height="12.60" fill="#d9d9d9"/>
<rect x="219.27" y="119.85" width="6.90" height="12.60" fill="#d9d9d9"/>
<rect x="227.11" y="119.85" width="6.90" height="12.60" fill="#d9d9d9"/>
<rect x="234.95" y="119.85" width="6.90" height="12.60" fill="#d9d9d9"/>
<rect x="242.79" y="119.85" width="6.90" height="12.60" fill="#d9d9d9"/>
<rect x="250.63" y="119.85" width="6.90" height="12.60" fill="#d9d9d9"/>
<rect x="258.47" y="119.85" width="6.90" height="12.60" fill="#d9d9d9"/>
<rect x="266.31" y="119.85" width="6.90" height="12.60" fill="#d9d9d9"/>
<rect x="274.15" y="119.85" width="6.90" height="12.60" fill="#d9d9d9"/>
<rect x="281.99" y="119.85" width="6.90" height="12.60" fill="#d9d9d9"/>
<rect x="289.83" y="119.85" width="6.90" height="12.60" fill="#d9d9d9"/>
<rect x="297.67" y="119.85" width="6.90" height="12.60" fill="#d9d9d9"/>
<rect x="305.51" y="119.85" width="6.90" height="12.60" fill="#d9d9d9"/>
<rect x="313.35" y="119.85" width="6.90" height="12.60" fill="#d9d9d9"/>
<rect x="321.19" y="119.85" width="6.90" height="12.60" fill="#d9d9d9"/>
<rect x="329.03" y="119.85" width="6.90" height="12.60" fill="#d9d9d9"/>
<rect x="336.87" y="119.85" width="6.90" height="12.60" fill="#d9d9d9"/>
<rect x="344.71" y="119.85" width="6.90" height="12.60" fill="#d9d9d9"/>
<rect x="352.55" y="119.85" width="6.90" height="12.60" fill="#d9d9d9"/>
<rect x="360.39" y="119.85" width="6.90" height="12.60" fill="#d9d9d9"/>
<rect x="368.23" y="119.85" width="6.90" height="12.60" fill="#d9d9d9"/>
<rect x="376.07" y="119.85" width="6.90" height="12.60" fill="#d9d9d9"/>
<rect x="383.91" y="119.85" width="6.90" height="12.60" fill="#d9d9d9"/>
<rect x="391.75" y="119.85" width="6.90" height="12.60" fill="#d9d9d9"/>
<rect x="399.59" y="119.85" width="6.90" height="12.60" fill="#d9d9d9"/>
<rect x="407.43" y="119.85" width="6.90" height="12.60" fill="#d9d9d9"/>
<rect x="415.27" y="119.85" width="6.90" height="12.60" fill="#d9d9d9"/>
<rect x="423.11" y="119.85" width="6.90" height="12.60" fill="#d9d9d9"/>
<rect x="430.95" y="119.85" width="6.90" height="12.60" fill="#d9d9d9"/>
<rect x="438.79" y="119.85" width="6.90" height="12.60" fill="#d9d9d9"/>
<rect x="446.63" y="119.85" width="6.90" height="12.60" fill="#d9d9d9"/>
<rect x="454.47" y="119.85" width="6.90" height="12.60" fill="#d9d9d9"/>
<rect x="462.31" y="119.85" width="6.90" height="12.60" fill="#d9d9d9"/>
<rect x="470.15" y="119.85" width="6.90" height="12.60" fill="#d9d9d9"/>
<rect x="477.99" y="119.85" width="6.90" height="12.60" fill="#d9d9d9"/>
<rect x="485.83" y="119.85" width="6.90" height="12.60" fill="#d9d9d9"/>
<rect x="493.67" y="119.85" width="6.90" height="12.60" fill="#d9d9d9"/>
<rect x="501.51" y="119.85" width="6.90" height="12.60" fill="#d9d9d9"/>
<rect x="509.35" y="119.85" width="6.90" height="12.60" fill="#d9d9d9"/>
<rect x="517.19" y="119.85" width="6.90" height="12.60" fill="#d9d9d9"/>
<rect x="525.03" y="119.85" width="6.90" height="12.60" fill="#d9d9d9"/>
<rect x="532.87" y="119.85" width="6.90" height="12.60" fill="#d9d9d9"/>
<rect x="540.71" y="119.85" width="6.90" height="12.60" fill="#d9d9d9"/>
<rect x="548.55" y="119.85" width="6.90" height="12.60" fill="#d9d9d9"/>
<rect x="556.39" y="119.85" width="6.90" height="12.60" fill="#d9d9d9"/>
<rect x="564.23" y="119.85" width="6.90" height="12.60" fill="#d9d9d9"/>
<rect x="572.07" y="119.85" width="6.90" height="12.60" fill="#d9d9d9"/>
<rect x="68.51" y="120.75" width="6.30" height="10.80" fill="#5151b0"/>
<rect x="68.51" y="124.05" width="6.30" height="4.30" fill="#00cd00"/>
<rect x="131.36" y="124.05" width="6.30" height="4.30" fill="#00cd00"/>
<rect x="139.22" y="120.75" width="6.30" height="10.80" fill="#a83838"/>
<rect x="180.72" y="120.75" width="6.30" height="10.80" fill="#5151b0"/>
<rect x="204.24" y="120.75" width="6.30" height="10.80" fill="#a83838"/>
<rect x="282.64" y="120.75" width="6.30" height="10.80" fill="#5151b0"/>
<rect x="290.48" y="120.75" width="6.30" height="10.80" fill="#5151b0"/>
<rect x="353.20" y="120.75" width="6.30" height="10.80" fill="#5151b0"/>
<rect x="439.44" y="120.75" width="6.30" height="10.80" fill="#a83838"/>
<rect x="447.28" y="120.75" width="6.30" height="10.80" fill="#5151b0"/>
<rect x="533.52" y="120.75" width="6.30" height="10.80" fill="#a83838"/>
<rect x="541.36" y="120.75" width="6.30" height="10.80" fill="#5151b0"/>
<text x="56.00" y="129.30" font-size="8.30" text-anchor="end" fill="#000">TCF3</text>
<rect x="583.70" y="119.75" width="19.50" height="13.20" fill="#fff" stroke="#d4d4d4" stroke-width="0.8"/>
<text x="592.90" y="129.35" font-size="8.30" text-anchor="middle" fill="#000">13%</text>
<rect x="603.80" y="119.75" width="19.50" height="13.20" fill="#fff" stroke="#d4d4d4" stroke-width="0.8"/>
<text x="613.00" y="129.35" font-size="8.30" text-anchor="middle" fill="#000">NA</text>
<rect x="623.90" y="119.75" width="19.50" height="13.20" fill="#fff" stroke="#d4d4d4" stroke-width="0.8"/>
<text x="633.10" y="129.35" font-size="8.30" text-anchor="middle" fill="#000">13%</text>
<text x="653.80" y="129.35" font-size="8.30" text-anchor="middle" fill="#000">15%</text>
<rect x="644.40" y="119.45" width="19.60" height="13.50" fill="none" stroke="#222" stroke-width="0.8"/>
<rect x="60.00" y="133.35" width="6.90" height="12.60" fill="#d9d9d9"/>
<rect x="67.86" y="133.35" width="6.90" height="12.60" fill="#d9d9d9"/>
<rect x="75.71" y="133.35" width="6.90" height="12.60" fill="#d9d9d9"/>
<rect x="83.57" y="133.35" width="6.90" height="12.60" fill="#d9d9d9"/>
<rect x="91.43" y="133.35" width="6.90" height="12.60" fill="#d9d9d9"/>
<rect x="99.28" y="133.35" width="6.90" height="12.60" fill="#d9d9d9"/>
<rect x="107.14" y="133.35" width="6.90" height="12.60" fill="#d9d9d9"/>
<rect x="115.00" y="133.35" width="6.90" height="12.60" fill="#d9d9d9"/>
<rect x="122.86" y="133.35" width="6.90" height="12.60" fill="#d9d9d9"/>
<rect x="130.71" y="133.35" width="6.90" height="12.60" fill="#d9d9d9"/>
<rect x="138.57" y="133.35" width="6.90" height="12.60" fill="#d9d9d9"/>
<rect x="146.43" y="133.35" width="6.90" height="12.60" fill="#d9d9d9"/>
<rect x="154.28" y="133.35" width="6.90" height="12.60" fill="#d9d9d9"/>
<rect x="162.14" y="133.35" width="6.90" height="12.60" fill="#d9d9d9"/>
<rect x="170.00" y="133.35" width="6.90" height="12.60" fill="#d9d9d9"/>
<rect x="180.07" y="133.35" width="6.90" height="12.60" fill="#d9d9d9"/>
<rect x="187.91" y="133.35" width="6.90" height="12.60" fill="#d9d9d9"/>
<rect x="195.75" y="133.35" width="6.90" height="12.60" fill="#d9d9d9"/>
<rect x="203.59" y="133.35" width="6.90" height="12.60" fill="#d9d9d9"/>
<rect x="211.43" y="133.35" width="6.90" height="12.60" fill="#d9d9d9"/>
<rect x="219.27" y="133.35" width="6.90" height="12.60" fill="#d9d9d9"/>
<rect x="227.11" y="133.35" width="6.90" height="12.60" fill="#d9d9d9"/>
<rect x="234.95" y="133.35" width="6.90" height="12.60" fill="#d9d9d9"/>
<rect x="242.79" y="133.35" width="6.90" height="12.60" fill="#d9d9d9"/>
<rect x="250.63" y="133.35" width="6.90" height="12.60" fill="#d9d9d9"/>
<rect x="258.47" y="133.35" width="6.90" height="12.60" fill="#d9d9d9"/>
<rect x="266.31" y="133.35" width="6.90" height="12.60" fill="#d9d9d9"/>
<rect x="274.15" y="133.35" width="6.90" height="12.60" fill="#d9d9d9"/>
<rect x="281.99" y="133.35" width="6.90" height="12.60" fill="#d9d9d9"/>
<rect x="289.83" y="133.35" width="6.90" height="12.60" fill="#d9d9d9"/>
<rect x="297.67" y="133.35" width="6.90" height="12.60" fill="#d9d9d9"/>
<rect x="305.51" y="133.35" width="6.90" height="12.60" fill="#d9d9d9"/>
<rect x="313.35" y="133.35" width="6.90" height="12.60" fill="#d9d9d9"/>
<rect x="321.19" y="133.35" width="6.90" height="12.60" fill="#d9d9d9"/>
<rect x="329.03" y="133.35" width="6.90" height="12.60" fill="#d9d9d9"/>
<rect x="336.87" y="133.35" width="6.90" height="12.60" fill="#d9d9d9"/>
<rect x="344.71" y="133.35" width="6.90" height="12.60" fill="#d9d9d9"/>
<rect x="352.55" y="133.35" width="6.90" height="12.60" fill="#d9d9d9"/>
<rect x="360.39" y="133.35" width="6.90" height="12.60" fill="#d9d9d9"/>
<rect x="368.23" y="133.35" width="6.90" height="12.60" fill="#d9d9d9"/>
<rect x="376.07" y="133.35" width="6.90" height="12.60" fill="#d9d9d9"/>
<rect x="383.91" y="133.35" width="6.90" height="12.60" fill="#d9d9d9"/>
<rect x="391.75" y="133.35" width="6.90" height="12.60" fill="#d9d9d9"/>
<rect x="399.59" y="133.35" width="6.90" height="12.60" fill="#d9d9d9"/>
<rect x="407.43" y="133.35" width="6.90" height="12.60" fill="#d9d9d9"/>
<rect x="415.27" y="133.35" width="6.90" height="12.60" fill="#d9d9d9"/>
<rect x="423.11" y="133.35" width="6.90" height="12.60" fill="#d9d9d9"/>
<rect x="430.95" y="133.35" width="6.90" height="12.60" fill="#d9d9d9"/>
<rect x="438.79" y="133.35" width="6.90" height="12.60" fill="#d9d9d9"/>
<rect x="446.63" y="133.35" width="6.90" height="12.60" fill="#d9d9d9"/>
<rect x="454.47" y="133.35" width="6.90" height="12.60" fill="#d9d9d9"/>
<rect x="462.31" y="133.35" width="6.90" height="12.60" fill="#d9d9d9"/>
<rect x="470.15" y="133.35" width="6.90" height="12.60" fill="#d9d9d9"/>
<rect x="477.99" y="133.35" width="6.90" height="12.60" fill="#d9d9d9"/>
<rect x="485.83" y="133.35" width="6.90" height="12.60" fill="#d9d9d9"/>
<rect x="493.67" y="133.35" width="6.90" height="12.60" fill="#d9d9d9"/>
<rect x="501.51" y="133.35" width="6.90" height="12.60" fill="#d9d9d9"/>
<rect x="509.35" y="133.35" width="6.90" height="12.60" fill="#d9d9d9"/>
<rect x="517.19" y="133.35" width="6.90" height="12.60" fill="#d9d9d9"/>
<rect x="525.03" y="133.35" width="6.90" height="12.60" fill="#d9d9d9"/>
<rect x="532.87" y="133.35" width="6.90" height="12.60" fill="#d9d9d9"/>
<rect x="540.71" y="133.35" width="6.90" height="12.60" fill="#d9d9d9"/>
<rect x="548.55" y="133.35" width="6.90" height="12.60" fill="#d9d9d9"/>
<rect x="556.39" y="133.35" width="6.90" height="12.60" fill="#d9d9d9"/>
<rect x="564.23" y="133.35" width="6.90" height="12.60" fill="#d9d9d9"/>
<rect x="572.07" y="133.35" width="6.90" height="12.60" fill="#d9d9d9"/>
<rect x="107.79" y="137.55" width="6.30" height="4.30" fill="#003000"/>
<rect x="131.36" y="137.55" width="6.30" height="4.30" fill="#004d00"/>
<rect x="162.79" y="137.55" width="6.30" height="4.30" fill="#006800"/>
<rect x="298.32" y="137.55" width="6.30" height="4.30" fill="#006800"/>
<rect x="345.36" y="137.55" width="6.30" height="4.30" fill="#00aa00"/>
<rect x="549.20" y="137.55" width="6.30" height="4.30" fill="#006800"/>
<rect x="557.04" y="137.55" width="6.30" height="4.30" fill="#008400"/>
<rect x="564.88" y="137.55" width="6.30" height="4.30" fill="#003000"/>
<text x="56.00" y="142.80" font-size="8.30" text-anchor="end" fill="#000">RBM10</text>
<rect x="583.70" y="133.25" width="19.50" height="13.20" fill="#fff" stroke="#d4d4d4" stroke-width="0.8"/>
<text x="592.90" y="142.85" font-size="8.30" text-anchor="middle" fill="#000">20%</text>
<rect x="603.80" y="133.25" width="19.50" height="13.20" fill="#fff" stroke="#d4d4d4" stroke-width="0.8"/>
<text x="613.00" y="142.85" font-size="8.30" text-anchor="middle" fill="#000">10%</text>
<rect x="623.90" y="133.25" width="19.50" height="13.20" fill="#fff" stroke="#d4d4d4" stroke-width="0.8"/>
<text x="633.10" y="142.85" font-size="8.30" text-anchor="middle" fill="#000">NA</text>
<text x="653.80" y="142.85" font-size="8.30" text-anchor="middle" fill="#000">10%</text>
<rect x="644.40" y="132.95" width="19.60" height="13.50" fill="none" stroke="#222" stroke-width="0.8"/>
<rect x="60.00" y="146.85" width="6.90" height="12.60" fill="#d9d9d9"/>
<rect x="67.86" y="146.85" width="6.90" height="12.60" fill="#d9d9d9"/>
<rect x="75.71" y="146.85" width="6.90" height="12.60" fill="#d9d9d9"/>
<rect x="83.57" y="146.85" width="6.90" height="12.60" fill="#d9d9d9"/>
<rect x="91.43" y="146.85" width="6.90" height="12.60" fill="#d9d9d9"/>
<rect x="99.28" y="146.85" width="6.90" height="12.60" fill="#d9d9d9"/>
<rect x="107.14" y="146.85" width="6.90" height="12.60" fill="#d9d9d9"/>
<rect x="115.00" y="146.85" width="6.90" height="12.60" fill="#d9d9d9"/>
<rect x="122.86" y="146.85" width="6.90" height="12.60" fill="#d9d9d9"/>
<rect x="130.71" y="146.85" width="6.90" height="12.60" fill="#d9d9d9"/>
<rect x="138.57" y="146.85" width="6.90" height="12.60" fill="#d9d9d9"/>
<rect x="146.43" y="146.85" width="6.90" height="12.60" fill="#d9d9d9"/>
<rect x="154.28" y="146.85" width="6.90" height="12.60" fill="#d9d9d9"/>
<rect x="162.14" y="146.85" width="6.90" height="12.60" fill="#d9d9d9"/>
<rect x="170.00" y="146.85" width="6.90" height="12.60" fill="#d9d9d9"/>
<rect x="180.07" y="146.85" width="6.90" height="12.60" fill="#d9d9d9"/>
<rect x="187.91" y="146.85" width="6.90" height="12.60" fill="#d9d9d9"/>
<rect x="195.75" y="146.85" width="6.90" height="12.60" fill="#d9d9d9"/>
<rect x="203.59" y="146.85" width="6.90" height="12.60" fill="#d9d9d9"/>
<rect x="211.43" y="146.85" width="6.90" height="12.60" fill="#d9d9d9"/>
<rect x="219.27" y="146.85" width="6.90" height="12.60" fill="#d9d9d9"/>
<rect x="227.11" y="146.85" width="6.90" height="12.60" fill="#d9d9d9"/>
<rect x="234.95" y="146.85" width="6.90" height="12.60" fill="#d9d9d9"/>
<rect x="242.79" y="146.85" width="6.90" height="12.60" fill="#d9d9d9"/>
<rect x="250.63" y="146.85" width="6.90" height="12.60" fill="#d9d9d9"/>
<rect x="258.47" y="146.85" width="6.90" height="12.60" fill="#d9d9d9"/>
<rect x="266.31" y="146.85" width="6.90" height="12.60" fill="#d9d9d9"/>
<rect x="274.15" y="146.85" width="6.90" height="12.60" fill="#d9d9d9"/>
<rect x="281.99" y="146.85" width="6.90" height="12.60" fill="#d9d9d9"/>
<rect x="289.83" y="146.85" width="6.90" height="12.60" fill="#d9d9d9"/>
<rect x="297.67" y="146.85" width="6.90" height="12.60" fill="#d9d9d9"/>
<rect x="305.51" y="146.85" width="6.90" height="12.60" fill="#d9d9d9"/>
<rect x="313.35" y="146.85" width="6.90" height="12.60" fill="#d9d9d9"/>
<rect x="321.19" y="146.85" width="6.90" height="12.60" fill="#d9d9d9"/>
<rect x="329.03" y="146.85" width="6.90" height="12.60" fill="#d9d9d9"/>
<rect x="336.87" y="146.85" width="6.90" height="12.60" fill="#d9d9d9"/>
<rect x="344.71" y="146.85" width="6.90" height="12.60" fill="#d9d9d9"/>
<rect x="352.55" y="146.85" width="6.90" height="12.60" fill="#d9d9d9"/>
<rect x="360.39" y="146.85" width="6.90" height="12.60" fill="#d9d9d9"/>
<rect x="368.23" y="146.85" width="6.90" height="12.60" fill="#d9d9d9"/>
<rect x="376.07" y="146.85" width="6.90" height="12.60" fill="#d9d9d9"/>
<rect x="383.91" y="146.85" width="6.90" height="12.60" fill="#d9d9d9"/>
<rect x="391.75" y="146.85" width="6.90" height="12.60" fill="#d9d9d9"/>
<rect x="399.59" y="146.85" width="6.90" height="12.60" fill="#d9d9d9"/>
<rect x="407.43" y="146.85" width="6.90" height="12.60" fill="#d9d9d9"/>
<rect x="415.27" y="146.85" width="6.90" height="12.60" fill="#d9d9d9"/>
<rect x="423.11" y="146.85" width="6.90" height="12.60" fill="#d9d9d9"/>
<rect x="430.95" y="146.85" width="6.90" height="12.60" fill="#d9d9d9"/>
<rect x="438.79" y="146.85" width="6.90" height="12.60" fill="#d9d9d9"/>
<rect x="446.63" y="146.85" width="6.90" height="12.60" fill="#d9d9d9"/>
<rect x="454.47" y="146.85" width="6.90" height="12.60" fill="#d9d9d9"/>
<rect x="462.31" y="146.85" width="6.90" height="12.60" fill="#d9d9d9"/>
<rect x="470.15" y="146.85" width="6.90" height="12.60" fill="#d9d9d9"/>
<rect x="477.99" y="146.85" width="6.90" height="12.60" fill="#d9d9d9"/>
<rect x="485.83" y="146.85" width="6.90" height="12.60" fill="#d9d9d9"/>
<rect x="493.67" y="146.85" width="6.90" height="12.60" fill="#d9d9d9"/>
<rect x="501.51" y="146.85" width="6.90" height="12.60" fill="#d9d9d9"/>
<rect x="509.35" y="146.85" width="6.90" height="12.60" fill="#d9d9d9"/>
<rect x="517.19" y="146.85" width="6.90" height="12.60" fill="#d9d9d9"/>
<rect x="525.03" y="146.85" width="6.90" height="12.60" fill="#d9d9d9"/>
<rect x="532.87" y="146.85" width="6.90" height="12.60" fill="#d9d9d9"/>
<rect x="540.71" y="146.85" width="6.90" height="12.60" fill="#d9d9d9"/>
<rect x="548.55" y="146.85" width="6.90" height="12.60" fill="#d9d9d9"/>
<rect x="556.39" y="146.85" width="6.90" height="12.60" fill="#d9d9d9"/>
<rect x="564.23" y="146.85" width="6.90" height="12.60" fill="#d9d9d9"/>
<rect x="572.07" y="146.85" width="6.90" height="12.60" fill="#d9d9d9"/>
<rect x="76.36" y="151.05" width="6.30" height="4.30" fill="#00aa00"/>
<rect x="147.08" y="151.05" width="6.30" height="4.30" fill="#00cd00"/>
<rect x="431.60" y="151.05" width="6.30" height="4.30" fill="#00cd00"/>
<rect x="455.12" y="147.75" width="6.30" height="10.80" fill="#a83838"/>
<rect x="470.80" y="151.05" width="6.30" height="4.30" fill="#00cd00"/>
<text x="56.00" y="156.30" font-size="8.30" text-anchor="end" fill="#000">ERBB2</text>
<rect x="583.70" y="146.75" width="19.50" height="13.20" fill="#fff" stroke="#d4d4d4" stroke-width="0.8"/>
<text x="592.90" y="156.35" font-size="8.30" text-anchor="middle" fill="#000">13%</text>
<rect x="603.80" y="146.75" width="19.50" height="13.20" fill="#fff" stroke="#d4d4d4" stroke-width="0.8"/>
<text x="613.00" y="156.35" font-size="8.30" text-anchor="middle" fill="#000">3%</text>
<rect x="623.90" y="146.75" width="19.50" height="13.20" fill="#fff" stroke="#d4d4d4" stroke-width="0.8"/>
<text x="633.10" y="156.35" font-size="8.30" text-anchor="middle" fill="#000">1%</text>
<text x="653.80" y="156.35" font-size="8.30" text-anchor="middle" fill="#000">6%</text>
<rect x="644.40" y="146.45" width="19.60" height="13.50" fill="none" stroke="#222" stroke-width="0.8"/>
<rect x="60.00" y="160.35" width="6.90" height="12.60" fill="#d9d9d9"/>
<rect x="67.86" y="160.35" width="6.90" height="12.60" fill="#d9d9d9"/>
<rect x="75.71" y="160.35" width="6.90" height="12.60" fill="#d9d9d9"/>
<rect x="83.57" y="160.35" width="6.90" height="12.60" fill="#d9d9d9"/>
<rect x="91.43" y="160.35" width="6.90" height="12.60" fill="#d9d9d9"/>
<rect x="99.28" y="160.35" width="6.90" height="12.60" fill="#d9d9d9"/>
<rect x="107.14" y="160.35" width="6.90" height="12.60" fill="#d9d9d9"/>
<rect x="115.00" y="160.35" width="6.90" height="12.60" fill="#d9d9d9"/>
<rect x="122.86" y="160.35" width="6.90" height="12.60" fill="#d9d9d9"/>
<rect x="130.71" y="160.35" width="6.90" height="12.60" fill="#d9d9d9"/>
<rect x="138.57" y="160.35" width="6.90" height="12.60" fill="#d9d9d9"/>
<rect x="146.43" y="160.35" width="6.90" height="12.60" fill="#d9d9d9"/>
<rect x="154.28" y="160.35" width="6.90" height="12.60" fill="#d9d9d9"/>
<rect x="162.14" y="160.35" width="6.90" height="12.60" fill="#d9d9d9"/>
<rect x="170.00" y="160.35" width="6.90" height="12.60" fill="#d9d9d9"/>
<rect x="180.07" y="160.35" width="6.90" height="12.60" fill="#d9d9d9"/>
<rect x="187.91" y="160.35" width="6.90" height="12.60" fill="#d9d9d9"/>
<rect x="195.75" y="160.35" width="6.90" height="12.60" fill="#d9d9d9"/>
<rect x="203.59" y="160.35" width="6.90" height="12.60" fill="#d9d9d9"/>
<rect x="211.43" y="160.35" width="6.90" height="12.60" fill="#d9d9d9"/>
<rect x="219.27" y="160.35" width="6.90" height="12.60" fill="#d9d9d9"/>
<rect x="227.11" y="160.35" width="6.90" height="12.60" fill="#d9d9d9"/>
<rect x="234.95" y="160.35" width="6.90" height="12.60" fill="#d9d9d9"/>
<rect x="242.79" y="160.35" width="6.90" height="12.60" fill="#d9d9d9"/>
<rect x="250.63" y="160.35" width="6.90" height="12.60" fill="#d9d9d9"/>
<rect x="258.47" y="160.35" width="6.90" height="12.60" fill="#d9d9d9"/>
<rect x="266.31" y="160.35" width="6.90" height="12.60" fill="#d9d9d9"/>
<rect x="274.15" y="160.35" width="6.90" height="12.60" fill="#d9d9d9"/>
<rect x="281.99" y="160.35" width="6.90" height="12.60" fill="#d9d9d9"/>
<rect x="289.83" y="160.35" width="6.90" height="12.60" fill="#d9d9d9"/>
<rect x="297.67" y="160.35" width="6.90" height="12.60" fill="#d9d9d9"/>
<rect x="305.51" y="160.35" width="6.90" height="12.60" fill="#d9d9d9"/>
<rect x="313.35" y="160.35" width="6.90" height="12.60" fill="#d9d9d9"/>
<rect x="321.19" y="160.35" width="6.90" height="12.60" fill="#d9d9d9"/>
<rect x="329.03" y="160.35" width="6.90" height="12.60" fill="#d9d9d9"/>
<rect x="336.87" y="160.35" width="6.90" height="12.60" fill="#d9d9d9"/>
<rect x="344.71" y="160.35" width="6.90" height="12.60" fill="#d9d9d9"/>
<rect x="352.55" y="160.35" width="6.90" height="12.60" fill="#d9d9d9"/>
<rect x="360.39" y="160.35" width="6.90" height="12.60" fill="#d9d9d9"/>
<rect x="368.23" y="160.35" width="6.90" height="12.60" fill="#d9d9d9"/>
<rect x="376.07" y="160.35" width="6.90" height="12.60" fill="#d9d9d9"/>
<rect x="383.91" y="160.35" width="6.90" height="12.60" fill="#d9d9d9"/>
<rect x="391.75" y="160.35" width="6.90" height="12.60" fill="#d9d9d9"/>
<rect x="399.59" y="160.35" width="6.90" height="12.60" fill="#d9d9d9"/>
<rect x="407.43" y="160.35" width="6.90" height="12.60" fill="#d9d9d9"/>
<rect x="415.27" y="160.35" width="6.90" height="12.60" fill="#d9d9d9"/>
<rect x="423.11" y="160.35" width="6.90" height="12.60" fill="#d9d9d9"/>
<rect x="430.95" y="160.35" width="6.90" height="12.60" fill="#d9d9d9"/>
<rect x="438.79" y="160.35" width="6.90" height="12.60" fill="#d9d9d9"/>
<rect x="446.63" y="160.35" width="6.90" height="12.60" fill="#d9d9d9"/>
<rect x="454.47" y="160.35" width="6.90" height="12.60" fill="#d9d9d9"/>
<rect x="462.31" y="160.35" width="6.90" height="12.60" fill="#d9d9d9"/>
<rect x="470.15" y="160.35" width="6.90" height="12.60" fill="#d9d9d9"/>
<rect x="477.99" y="160.35" width="6.90" height="12.60" fill="#d9d9d9"/>
<rect x="485.83" y="160.35" width="6.90" height="12.60" fill="#d9d9d9"/>
<rect x="493.67" y="160.35" width="6.90" height="12.60" fill="#d9d9d9"/>
<rect x="501.51" y="160.35" width="6.90" height="12.60" fill="#d9d9d9"/>
<rect x="509.35" y="160.35" width="6.90" height="12.60" fill="#d9d9d9"/>
<rect x="517.19" y="160.35" width="6.90" height="12.60" fill="#d9d9d9"/>
<rect x="525.03" y="160.35" width="6.90" height="12.60" fill="#d9d9d9"/>
<rect x="532.87" y="160.35" width="6.90" height="12.60" fill="#d9d9d9"/>
<rect x="540.71" y="160.35" width="6.90" height="12.60" fill="#d9d9d9"/>
<rect x="548.55" y="160.35" width="6.90" height="12.60" fill="#d9d9d9"/>
<rect x="556.39" y="160.35" width="6.90" height="12.60" fill="#d9d9d9"/>
<rect x="564.23" y="160.35" width="6.90" height="12.60" fill="#d9d9d9"/>
<rect x="572.07" y="160.35" width="6.90" height="12.60" fill="#d9d9d9"/>
<rect x="68.51" y="164.55" width="6.30" height="4.30" fill="#00cd00"/>
<rect x="107.79" y="164.55" width="6.30" height="4.30" fill="#00cd00"/>
<text x="56.00" y="169.80" font-size="8.30" text-anchor="end" fill="#000">ELN</text>
<rect x="583.70" y="160.25" width="19.50" height="13.20" fill="#fff" stroke="#d4d4d4" stroke-width="0.8"/>
<text x="592.90" y="169.85" font-size="8.30" text-anchor="middle" fill="#000">13%</text>
<rect x="603.80" y="160.25" width="19.50" height="13.20" fill="#fff" stroke="#d4d4d4" stroke-width="0.8"/>
<text x="613.00" y="169.85" font-size="8.30" text-anchor="middle" fill="#000">0%</text>
<rect x="623.90" y="160.25" width="19.50" height="13.20" fill="#fff" stroke="#d4d4d4" stroke-width="0.8"/>
<text x="633.10" y="169.85" font-size="8.30" text-anchor="middle" fill="#000">0%</text>
<text x="653.80" y="169.85" font-size="8.30" text-anchor="middle" fill="#000">2%</text>
<rect x="644.40" y="159.95" width="19.60" height="13.50" fill="none" stroke="#222" stroke-width="0.8"/>
<rect x="60.00" y="176.10" width="6.90" height="12.60" fill="#d9d9d9"/>
<rect x="67.86" y="176.10" width="6.90" height="12.60" fill="#d9d9d9"/>
<rect x="75.71" y="176.10" width="6.90" height="12.60" fill="#d9d9d9"/>
<rect x="83.57" y="176.10" width="6.90" height="12.60" fill="#d9d9d9"/>
<rect x="91.43" y="176.10" width="6.90" height="12.60" fill="#d9d9d9"/>
<rect x="99.28" y="176.10" width="6.90" height="12.60" fill="#d9d9d9"/>
<rect x="107.14" y="176.10" width="6.90" height="12.60" fill="#d9d9d9"/>
<rect x="115.00" y="176.10" width="6.90" height="12.60" fill="#d9d9d9"/>
<rect x="122.86" y="176.10" width="6.90" height="12.60" fill="#d9d9d9"/>
<rect x="130.71" y="176.10" width="6.90" height="12.60" fill="#d9d9d9"/>
<rect x="138.57" y="176.10" width="6.90" height="12.60" fill="#d9d9d9"/>
<rect x="146.43" y="176.10" width="6.90" height="12.60" fill="#d9d9d9"/>
<rect x="154.28" y="176.10" width="6.90" height="12.60" fill="#d9d9d9"/>
<rect x="162.14" y="176.10" width="6.90" height="12.60" fill="#d9d9d9"/>
<rect x="170.00" y="176.10" width="6.90" height="12.60" fill="#d9d9d9"/>
<rect x="180.07" y="176.10" width="6.90" height="12.60" fill="#d9d9d9"/>
<rect x="187.91" y="176.10" width="6.90" height="12.60" fill="#d9d9d9"/>
<rect x="195.75" y="176.10" width="6.90" height="12.60" fill="#d9d9d9"/>
<rect x="203.59" y="176.10" width="6.90" height="12.60" fill="#d9d9d9"/>
<rect x="211.43" y="176.10" width="6.90" height="12.60" fill="#d9d9d9"/>
<rect x="219.27" y="176.10" width="6.90" height="12.60" fill="#d9d9d9"/>
<rect x="227.11" y="176.10" width="6.90" height="12.60" fill="#d9d9d9"/>
<rect x="234.95" y="176.10" width="6.90" height="12.60" fill="#d9d9d9"/>
<rect x="242.79" y="176.10" width="6.90" height="12.60" fill="#d9d9d9"/>
<rect x="250.63" y="176.10" width="6.90" height="12.60" fill="#d9d9d9"/>
<rect x="258.47" y="176.10" width="6.90" height="12.60" fill="#d9d9d9"/>
<rect x="266.31" y="176.10" width="6.90" height="12.60" fill="#d9d9d9"/>
<rect x="274.15" y="176.10" width="6.90" height="12.60" fill="#d9d9d9"/>
<rect x="281.99" y="176.10" width="6.90" height="12.60" fill="#d9d9d9"/>
<rect x="289.83" y="176.10" width="6.90" height="12.60" fill="#d9d9d9"/>
<rect x="297.67" y="176.10" width="6.90" height="12.60" fill="#d9d9d9"/>
<rect x="305.51" y="176.10" width="6.90" height="12.60" fill="#d9d9d9"/>
<rect x="313.35" y="176.10" width="6.90" height="12.60" fill="#d9d9d9"/>
<rect x="321.19" y="176.10" width="6.90" height="12.60" fill="#d9d9d9"/>
<rect x="329.03" y="176.10" width="6.90" height="12.60" fill="#d9d9d9"/>
<rect x="336.87" y="176.10" width="6.90" height="12.60" fill="#d9d9d9"/>
<rect x="344.71" y="176.10" width="6.90" height="12.60" fill="#d9d9d9"/>
<rect x="352.55" y="176.10" width="6.90" height="12.60" fill="#d9d9d9"/>
<rect x="360.39" y="176.10" width="6.90" height="12.60" fill="#d9d9d9"/>
<rect x="368.23" y="176.10" width="6.90" height="12.60" fill="#d9d9d9"/>
<rect x="376.07" y="176.10" width="6.90" height="12.60" fill="#d9d9d9"/>
<rect x="383.91" y="176.10" width="6.90" height="12.60" fill="#d9d9d9"/>
<rect x="391.75" y="176.10" width="6.90" height="12.60" fill="#d9d9d9"/>
<rect x="399.59" y="176.10" width="6.90" height="12.60" fill="#d9d9d9"/>
<rect x="407.43" y="176.10" width="6.90" height="12.60" fill="#d9d9d9"/>
<rect x="415.27" y="176.10" width="6.90" height="12.60" fill="#d9d9d9"/>
<rect x="423.11" y="176.10" width="6.90" height="12.60" fill="#d9d9d9"/>
<rect x="430.95" y="176.10" width="6.90" height="12.60" fill="#d9d9d9"/>
<rect x="438.79" y="176.10" width="6.90" height="12.60" fill="#d9d9d9"/>
<rect x="446.63" y="176.10" width="6.90" height="12.60" fill="#d9d9d9"/>
<rect x="454.47" y="176.10" width="6.90" height="12.60" fill="#d9d9d9"/>
<rect x="462.31" y="176.10" width="6.90" height="12.60" fill="#d9d9d9"/>
<rect x="470.15" y="176.10" width="6.90" height="12.60" fill="#d9d9d9"/>
<rect x="477.99" y="176.10" width="6.90" height="12.60" fill="#d9d9d9"/>
<rect x="485.83" y="176.10" width="6.90" height="12.60" fill="#d9d9d9"/>
<rect x="493.67" y="176.10" width="6.90" height="12.60" fill="#d9d9d9"/>
<rect x="501.51" y="176.10" width="6.90" height="12.60" fill="#d9d9d9"/>
<rect x="509.35" y="176.10" width="6.90" height="12.60" fill="#d9d9d9"/>
<rect x="517.19" y="176.10" width="6.90" height="12.60" fill="#d9d9d9"/>
<rect x="525.03" y="176.10" width="6.90" height="12.60" fill="#d9d9d9"/>
<rect x="532.87" y="176.10" width="6.90" height="12.60" fill="#d9d9d9"/>
<rect x="540.71" y="176.10" width="6.90" height="12.60" fill="#d9d9d9"/>
<rect x="548.55" y="176.10" width="6.90" height="12.60" fill="#d9d9d9"/>
<rect x="556.39" y="176.10" width="6.90" height="12.60" fill="#d9d9d9"/>
<rect x="564.23" y="176.10" width="6.90" height="12.60" fill="#d9d9d9"/>
<rect x="572.07" y="176.10" width="6.90" height="12.60" fill="#d9d9d9"/>
<rect x="60.65" y="177.00" width="6.30" height="10.80" fill="#a83838"/>
<rect x="68.51" y="177.00" width="6.30" height="10.80" fill="#a83838"/>
<rect x="68.51" y="180.30" width="6.30" height="4.30" fill="#00cd00"/>
<rect x="99.94" y="180.30" width="6.30" height="4.30" fill="#00cd00"/>
<rect x="131.36" y="177.00" width="6.30" height="10.80" fill="#5151b0"/>
<rect x="147.08" y="177.00" width="6.30" height="10.80" fill="#5151b0"/>
<rect x="188.56" y="177.00" width="6.30" height="10.80" fill="#5151b0"/>
<rect x="196.40" y="177.00" width="6.30" height="10.80" fill="#5151b0"/>
<rect x="204.24" y="177.00" width="6.30" height="10.80" fill="#5151b0"/>
<rect x="321.84" y="177.00" width="6.30" height="10.80" fill="#5151b0"/>
<rect x="329.68" y="177.00" width="6.30" height="10.80" fill="#5151b0"/>
<rect x="337.52" y="177.00" width="6.30" height="10.80" fill="#5151b0"/>
<rect x="345.36" y="177.00" width="6.30" height="10.80" fill="#5151b0"/>
<rect x="353.20" y="177.00" width="6.30" height="10.80" fill="#5151b0"/>
<rect x="361.04" y="177.00" width="6.30" height="10.80" fill="#5151b0"/>
<rect x="368.88" y="177.00" width="6.30" height="10.80" fill="#5151b0"/>
<rect x="376.72" y="180.30" width="6.30" height="4.30" fill="#006800"/>
<rect x="384.56" y="177.00" width="6.30" height="10.80" fill="#5151b0"/>
<rect x="392.40" y="177.00" width="6.30" height="10.80" fill="#5151b0"/>
<rect x="400.24" y="177.00" width="6.30" height="10.80" fill="#5151b0"/>
<rect x="408.08" y="177.00" width="6.30" height="10.80" fill="#5151b0"/>
<text x="56.00" y="185.55" font-size="8.30" text-anchor="end" fill="#000">ASCC3</text>
<rect x="583.70" y="176.00" width="19.50" height="13.20" fill="#fff" stroke="#d4d4d4" stroke-width="0.8"/>
<text x="592.90" y="185.60" font-size="8.30" text-anchor="middle" fill="#000">13%</text>
<rect x="603.80" y="176.00" width="19.50" height="13.20" fill="#fff" stroke="#d4d4d4" stroke-width="0.8"/>
<text x="613.00" y="185.60" font-size="8.30" text-anchor="middle" fill="#000">1%</text>
<rect x="623.90" y="176.00" width="19.50" height="13.20" fill="#fff" stroke="#d4d4d4" stroke-width="0.8"/>
<text x="633.10" y="185.60" font-size="8.30" text-anchor="middle" fill="#000">22%</text>
<text x="653.80" y="185.60" font-size="8.30" text-anchor="middle" fill="#000">24%</text>
<rect x="644.40" y="175.70" width="19.60" height="13.50" fill="none" stroke="#222" stroke-width="0.8"/>
<rect x="60.00" y="189.60" width="6.90" height="12.60" fill="#d9d9d9"/>
<rect x="67.86" y="189.60" width="6.90" height="12.60" fill="#d9d9d9"/>
<rect x="75.71" y="189.60" width="6.90" height="12.60" fill="#d9d9d9"/>
<rect x="83.57" y="189.60" width="6.90" height="12.60" fill="#d9d9d9"/>
<rect x="91.43" y="189.60" width="6.90" height="12.60" fill="#d9d9d9"/>
<rect x="99.28" y="189.60" width="6.90" height="12.60" fill="#d9d9d9"/>
<rect x="107.14" y="189.60" width="6.90" height="12.60" fill="#d9d9d9"/>
<rect x="115.00" y="189.60" width="6.90" height="12.60" fill="#d9d9d9"/>
<rect x="122.86" y="189.60" width="6.90" height="12.60" fill="#d9d9d9"/>
<rect x="130.71" y="189.60" width="6.90" height="12.60" fill="#d9d9d9"/>
<rect x="138.57" y="189.60" width="6.90" height="12.60" fill="#d9d9d9"/>
<rect x="146.43" y="189.60" width="6.90" height="12.60" fill="#d9d9d9"/>
<rect x="154.28" y="189.60" width="6.90" height="12.60" fill="#d9d9d9"/>
<rect x="162.14" y="189.60" width="6.90" height="12.60" fill="#d9d9d9"/>
<rect x="170.00" y="189.60" width="6.90" height="12.60" fill="#d9d9d9"/>
<rect x="180.07" y="189.60" width="6.90" height="12.60" fill="#d9d9d9"/>
<rect x="187.91" y="189.60" width="6.90" height="12.60" fill="#d9d9d9"/>
<rect x="195.75" y="189.60" width="6.90" height="12.60" fill="#d9d9d9"/>
<rect x="203.59" y="189.60" width="6.90" height="12.60" fill="#d9d9d9"/>
<rect x="211.43" y="189.60" width="6.90" height="12.60" fill="#d9d9d9"/>
<rect x="219.27" y="189.60" width="6.90" height="12.60" fill="#d9d9d9"/>
<rect x="227.11" y="189.60" width="6.90" height="12.60" fill="#d9d9d9"/>
<rect x="234.95" y="189.60" width="6.90" height="12.60" fill="#d9d9d9"/>
<rect x="242.79" y="189.60" width="6.90" height="12.60" fill="#d9d9d9"/>
<rect x="250.63" y="189.60" width="6.90" height="12.60" fill="#d9d9d9"/>
<rect x="258.47" y="189.60" width="6.90" height="12.60" fill="#d9d9d9"/>
<rect x="266.31" y="189.60" width="6.90" height="12.60" fill="#d9d9d9"/>
<rect x="274.15" y="189.60" width="6.90" height="12.60" fill="#d9d9d9"/>
<rect x="281.99" y="189.60" width="6.90" height="12.60" fill="#d9d9d9"/>
<rect x="289.83" y="189.60" width="6.90" height="12.60" fill="#d9d9d9"/>
<rect x="297.67" y="189.60" width="6.90" height="12.60" fill="#d9d9d9"/>
<rect x="305.51" y="189.60" width="6.90" height="12.60" fill="#d9d9d9"/>
<rect x="313.35" y="189.60" width="6.90" height="12.60" fill="#d9d9d9"/>
<rect x="321.19" y="189.60" width="6.90" height="12.60" fill="#d9d9d9"/>
<rect x="329.03" y="189.60" width="6.90" height="12.60" fill="#d9d9d9"/>
<rect x="336.87" y="189.60" width="6.90" height="12.60" fill="#d9d9d9"/>
<rect x="344.71" y="189.60" width="6.90" height="12.60" fill="#d9d9d9"/>
<rect x="352.55" y="189.60" width="6.90" height="12.60" fill="#d9d9d9"/>
<rect x="360.39" y="189.60" width="6.90" height="12.60" fill="#d9d9d9"/>
<rect x="368.23" y="189.60" width="6.90" height="12.60" fill="#d9d9d9"/>
<rect x="376.07" y="189.60" width="6.90" height="12.60" fill="#d9d9d9"/>
<rect x="383.91" y="189.60" width="6.90" height="12.60" fill="#d9d9d9"/>
<rect x="391.75" y="189.60" width="6.90" height="12.60" fill="#d9d9d9"/>
<rect x="399.59" y="189.60" width="6.90" height="12.60" fill="#d9d9d9"/>
<rect x="407.43" y="189.60" width="6.90" height="12.60" fill="#d9d9d9"/>
<rect x="415.27" y="189.60" width="6.90" height="12.60" fill="#d9d9d9"/>
<rect x="423.11" y="189.60" width="6.90" height="12.60" fill="#d9d9d9"/>
<rect x="430.95" y="189.60" width="6.90" height="12.60" fill="#d9d9d9"/>
<rect x="438.79" y="189.60" width="6.90" height="12.60" fill="#d9d9d9"/>
<rect x="446.63" y="189.60" width="6.90" height="12.60" fill="#d9d9d9"/>
<rect x="454.47" y="189.60" width="6.90" height="12.60" fill="#d9d9d9"/>
<rect x="462.31" y="189.60" width="6.90" height="12.60" fill="#d9d9d9"/>
<rect x="470.15" y="189.60" width="6.90" height="12.60" fill="#d9d9d9"/>
<rect x="477.99" y="189.60" width="6.90" height="12.60" fill="#d9d9d9"/>
<rect x="485.83" y="189.60" width="6.90" height="12.60" fill="#d9d9d9"/>
<rect x="493.67" y="189.60" width="6.90" height="12.60" fill="#d9d9d9"/>
<rect x="501.51" y="189.60" width="6.90" height="12.60" fill="#d9d9d9"/>
<rect x="509.35" y="189.60" width="6.90" height="12.60" fill="#d9d9d9"/>
<rect x="517.19" y="189.60" width="6.90" height="12.60" fill="#d9d9d9"/>
<rect x="525.03" y="189.60" width="6.90" height="12.60" fill="#d9d9d9"/>
<rect x="532.87" y="189.60" width="6.90" height="12.60" fill="#d9d9d9"/>
<rect x="540.71" y="189.60" width="6.90" height="12.60" fill="#d9d9d9"/>
<rect x="548.55" y="189.60" width="6.90" height="12.60" fill="#d9d9d9"/>
<rect x="556.39" y="189.60" width="6.90" height="12.60" fill="#d9d9d9"/>
<rect x="564.23" y="189.60" width="6.90" height="12.60" fill="#d9d9d9"/>
<rect x="572.07" y="189.60" width="6.90" height="12.60" fill="#d9d9d9"/>
<rect x="60.65" y="190.50" width="6.30" height="10.80" fill="#a83838"/>
<rect x="68.51" y="190.50" width="6.30" height="10.80" fill="#a83838"/>
<rect x="68.51" y="193.80" width="6.30" height="4.30" fill="#00cd00"/>
<rect x="76.36" y="193.80" width="6.30" height="4.30" fill="#00cd00"/>
<rect x="99.94" y="190.50" width="6.30" height="10.80" fill="#5151b0"/>
<rect x="131.36" y="190.50" width="6.30" height="10.80" fill="#5151b0"/>
<rect x="154.93" y="190.50" width="6.30" height="10.80" fill="#5151b0"/>
<rect x="180.72" y="190.50" width="6.30" height="10.80" fill="#a83838"/>
<rect x="188.56" y="190.50" width="6.30" height="10.80" fill="#5151b0"/>
<rect x="212.08" y="190.50" width="6.30" height="10.80" fill="#a83838"/>
<rect x="219.92" y="190.50" width="6.30" height="10.80" fill="#5151b0"/>
<rect x="227.76" y="190.50" width="6.30" height="10.80" fill="#a83838"/>
<rect x="235.60" y="190.50" width="6.30" height="10.80" fill="#a83838"/>
<rect x="321.84" y="190.50" width="6.30" height="10.80" fill="#5151b0"/>
<rect x="329.68" y="190.50" width="6.30" height="10.80" fill="#5151b0"/>
<rect x="337.52" y="190.50" width="6.30" height="10.80" fill="#5151b0"/>
<rect x="345.36" y="190.50" width="6.30" height="10.80" fill="#5151b0"/>
<rect x="353.20" y="190.50" width="6.30" height="10.80" fill="#5151b0"/>
<rect x="361.04" y="190.50" width="6.30" height="10.80" fill="#5151b0"/>
<rect x="368.88" y="190.50" width="6.30" height="10.80" fill="#5151b0"/>
<rect x="423.76" y="190.50" width="6.30" height="10.80" fill="#a83838"/>
<text x="56.00" y="199.05" font-size="8.30" text-anchor="end" fill="#000">SEL1L</text>
<rect x="583.70" y="189.50" width="19.50" height="13.20" fill="#fff" stroke="#d4d4d4" stroke-width="0.8"/>
<text x="592.90" y="199.10" font-size="8.30" text-anchor="middle" fill="#000">13%</text>
<rect x="603.80" y="189.50" width="19.50" height="13.20" fill="#fff" stroke="#d4d4d4" stroke-width="0.8"/>
<text x="613.00" y="199.10" font-size="8.30" text-anchor="middle" fill="#000">0%</text>
<rect x="623.90" y="189.50" width="19.50" height="13.20" fill="#fff" stroke="#d4d4d4" stroke-width="0.8"/>
<text x="633.10" y="199.10" font-size="8.30" text-anchor="middle" fill="#000">23%</text>
<text x="653.80" y="199.10" font-size="8.30" text-anchor="middle" fill="#000">24%</text>
<rect x="644.40" y="189.20" width="19.60" height="13.50" fill="none" stroke="#222" stroke-width="0.8"/>
<rect x="60.00" y="203.10" width="6.90" height="12.60" fill="#d9d9d9"/>
<rect x="67.86" y="203.10" width="6.90" height="12.60" fill="#d9d9d9"/>
<rect x="75.71" y="203.10" width="6.90" height="12.60" fill="#d9d9d9"/>
<rect x="83.57" y="203.10" width="6.90" height="12.60" fill="#d9d9d9"/>
<rect x="91.43" y="203.10" width="6.90" height="12.60" fill="#d9d9d9"/>
<rect x="99.28" y="203.10" width="6.90" height="12.60" fill="#d9d9d9"/>
<rect x="107.14" y="203.10" width="6.90" height="12.60" fill="#d9d9d9"/>
<rect x="115.00" y="203.10" width="6.90" height="12.60" fill="#d9d9d9"/>
<rect x="122.86" y="203.10" width="6.90" height="12.60" fill="#d9d9d9"/>
<rect x="130.71" y="203.10" width="6.90" height="12.60" fill="#d9d9d9"/>
<rect x="138.57" y="203.10" width="6.90" height="12.60" fill="#d9d9d9"/>
<rect x="146.43" y="203.10" width="6.90" height="12.60" fill="#d9d9d9"/>
<rect x="154.28" y="203.10" width="6.90" height="12.60" fill="#d9d9d9"/>
<rect x="162.14" y="203.10" width="6.90" height="12.60" fill="#d9d9d9"/>
<rect x="170.00" y="203.10" width="6.90" height="12.60" fill="#d9d9d9"/>
<rect x="180.07" y="203.10" width="6.90" height="12.60" fill="#d9d9d9"/>
<rect x="187.91" y="203.10" width="6.90" height="12.60" fill="#d9d9d9"/>
<rect x="195.75" y="203.10" width="6.90" height="12.60" fill="#d9d9d9"/>
<rect x="203.59" y="203.10" width="6.90" height="12.60" fill="#d9d9d9"/>
<rect x="211.43" y="203.10" width="6.90" height="12.60" fill="#d9d9d9"/>
<rect x="219.27" y="203.10" width="6.90" height="12.60" fill="#d9d9d9"/>
<rect x="227.11" y="203.10" width="6.90" height="12.60" fill="#d9d9d9"/>
<rect x="234.95" y="203.10" width="6.90" height="12.60" fill="#d9d9d9"/>
<rect x="242.79" y="203.10" width="6.90" height="12.60" fill="#d9d9d9"/>
<rect x="250.63" y="203.10" width="6.90" height="12.60" fill="#d9d9d9"/>
<rect x="258.47" y="203.10" width="6.90" height="12.60" fill="#d9d9d9"/>
<rect x="266.31" y="203.10" width="6.90" height="12.60" fill="#d9d9d9"/>
<rect x="274.15" y="203.10" width="6.90" height="12.60" fill="#d9d9d9"/>
<rect x="281.99" y="203.10" width="6.90" height="12.60" fill="#d9d9d9"/>
<rect x="289.83" y="203.10" width="6.90" height="12.60" fill="#d9d9d9"/>
<rect x="297.67" y="203.10" width="6.90" height="12.60" fill="#d9d9d9"/>
<rect x="305.51" y="203.10" width="6.90" height="12.60" fill="#d9d9d9"/>
<rect x="313.35" y="203.10" width="6.90" height="12.60" fill="#d9d9d9"/>
<rect x="321.19" y="203.10" width="6.90" height="12.60" fill="#d9d9d9"/>
<rect x="329.03" y="203.10" width="6.90" height="12.60" fill="#d9d9d9"/>
<rect x="336.87" y="203.10" width="6.90" height="12.60" fill="#d9d9d9"/>
<rect x="344.71" y="203.10" width="6.90" height="12.60" fill="#d9d9d9"/>
<rect x="352.55" y="203.10" width="6.90" height="12.60" fill="#d9d9d9"/>
<rect x="360.39" y="203.10" width="6.90" height="12.60" fill="#d9d9d9"/>
<rect x="368.23" y="203.10" width="6.90" height="12.60" fill="#d9d9d9"/>
<rect x="376.07" y="203.10" width="6.90" height="12.60" fill="#d9d9d9"/>
<rect x="383.91" y="203.10" width="6.90" height="12.60" fill="#d9d9d9"/>
<rect x="391.75" y="203.10" width="6.90" height="12.60" fill="#d9d9d9"/>
<rect x="399.59" y="203.10" width="6.90" height="12.60" fill="#d9d9d9"/>
<rect x="407.43" y="203.10" width="6.90" height="12.60" fill="#d9d9d9"/>
<rect x="415.27" y="203.10" width="6.90" height="12.60" fill="#d9d9d9"/>
<rect x="423.11" y="203.10" width="6.90" height="12.60" fill="#d9d9d9"/>
<rect x="430.95" y="203.10" width="6.90" height="12.60" fill="#d9d9d9"/>
<rect x="438.79" y="203.10" width="6.90" height="12.60" fill="#d9d9d9"/>
<rect x="446.63" y="203.10" width="6.90" height="12.60" fill="#d9d9d9"/>
<rect x="454.47" y="203.10" width="6.90" height="12.60" fill="#d9d9d9"/>
<rect x="462.31" y="203.10" width="6.90" height="12.60" fill="#d9d9d9"/>
<rect x="470.15" y="203.10" width="6.90" height="12.60" fill="#d9d9d9"/>
<rect x="477.99" y="203.10" width="6.90" height="12.60" fill="#d9d9d9"/>
<rect x="485.83" y="203.10" width="6.90" height="12.60" fill="#d9d9d9"/>
<rect x="493.67" y="203.10" width="6.90" height="12.60" fill="#d9d9d9"/>
<rect x="501.51" y="203.10" width="6.90" height="12.60" fill="#d9d9d9"/>
<rect x="509.35" y="203.10" width="6.90" height="12.60" fill="#d9d9d9"/>
<rect x="517.19" y="203.10" width="6.90" height="12.60" fill="#d9d9d9"/>
<rect x="525.03" y="203.10" width="6.90" height="12.60" fill="#d9d9d9"/>
<rect x="532.87" y="203.10" width="6.90" height="12.60" fill="#d9d9d9"/>
<rect x="540.71" y="203.10" width="6.90" height="12.60" fill="#d9d9d9"/>
<rect x="548.55" y="203.10" width="6.90" height="12.60" fill="#d9d9d9"/>
<rect x="556.39" y="203.10" width="6.90" height="12.60" fill="#d9d9d9"/>
<rect x="564.23" y="203.10" width="6.90" height="12.60" fill="#d9d9d9"/>
<rect x="572.07" y="203.10" width="6.90" height="12.60" fill="#d9d9d9"/>
<rect x="60.65" y="204.00" width="6.30" height="10.80" fill="#a83838"/>
<rect x="68.51" y="204.00" width="6.30" height="10.80" fill="#a83838"/>
<rect x="84.22" y="207.30" width="6.30" height="4.30" fill="#00cd00"/>
<rect x="99.94" y="204.00" width="6.30" height="10.80" fill="#5151b0"/>
<rect x="99.94" y="207.30" width="6.30" height="4.30" fill="#00cd00"/>
<rect x="131.36" y="204.00" width="6.30" height="10.80" fill="#5151b0"/>
<rect x="154.93" y="204.00" width="6.30" height="10.80" fill="#a83838"/>
<rect x="180.72" y="204.00" width="6.30" height="10.80" fill="#a83838"/>
<rect x="188.56" y="204.00" width="6.30" height="10.80" fill="#5151b0"/>
<rect x="196.40" y="204.00" width="6.30" height="10.80" fill="#5151b0"/>
<rect x="219.92" y="204.00" width="6.30" height="10.80" fill="#5151b0"/>
<rect x="321.84" y="204.00" width="6.30" height="10.80" fill="#5151b0"/>
<rect x="329.68" y="204.00" width="6.30" height="10.80" fill="#5151b0"/>
<rect x="337.52" y="204.00" width="6.30" height="10.80" fill="#5151b0"/>
<rect x="392.40" y="204.00" width="6.30" height="10.80" fill="#5151b0"/>
<rect x="455.12" y="204.00" width="6.30" height="10.80" fill="#5151b0"/>
<rect x="462.96" y="207.30" width="6.30" height="4.30" fill="#00cd00"/>
<text x="56.00" y="212.55" font-size="8.30" text-anchor="end" fill="#000">SHPRH</text>
<rect x="583.70" y="203.00" width="19.50" height="13.20" fill="#fff" stroke="#d4d4d4" stroke-width="0.8"/>
<text x="592.90" y="212.60" font-size="8.30" text-anchor="middle" fill="#000">13%</text>
<rect x="603.80" y="203.00" width="19.50" height="13.20" fill="#fff" stroke="#d4d4d4" stroke-width="0.8"/>
<text x="613.00" y="212.60" font-size="8.30" text-anchor="middle" fill="#000">1%</text>
<rect x="623.90" y="203.00" width="19.50" height="13.20" fill="#fff" stroke="#d4d4d4" stroke-width="0.8"/>
<text x="633.10" y="212.60" font-size="8.30" text-anchor="middle" fill="#000">17%</text>
<text x="653.80" y="212.60" font-size="8.30" text-anchor="middle" fill="#000">20%</text>
<rect x="644.40" y="202.70" width="19.60" height="13.50" fill="none" stroke="#222" stroke-width="0.8"/>
<rect x="60.00" y="216.60" width="6.90" height="12.60" fill="#d9d9d9"/>
<rect x="67.86" y="216.60" width="6.90" height="12.60" fill="#d9d9d9"/>
<rect x="75.71" y="216.60" width="6.90" height="12.60" fill="#d9d9d9"/>
<rect x="83.57" y="216.60" width="6.90" height="12.60" fill="#d9d9d9"/>
<rect x="91.43" y="216.60" width="6.90" height="12.60" fill="#d9d9d9"/>
<rect x="99.28" y="216.60" width="6.90" height="12.60" fill="#d9d9d9"/>
<rect x="107.14" y="216.60" width="6.90" height="12.60" fill="#d9d9d9"/>
<rect x="115.00" y="216.60" width="6.90" height="12.60" fill="#d9d9d9"/>
<rect x="122.86" y="216.60" width="6.90" height="12.60" fill="#d9d9d9"/>
<rect x="130.71" y="216.60" width="6.90" height="12.60" fill="#d9d9d9"/>
<rect x="138.57" y="216.60" width="6.90" height="12.60" fill="#d9d9d9"/>
<rect x="146.43" y="216.60" width="6.90" height="12.60" fill="#d9d9d9"/>
<rect x="154.28" y="216.60" width="6.90" height="12.60" fill="#d9d9d9"/>
<rect x="162.14" y="216.60" width="6.90" height="12.60" fill="#d9d9d9"/>
<rect x="170.00" y="216.60" width="6.90" height="12.60" fill="#d9d9d9"/>
<rect x="180.07" y="216.60" width="6.90" height="12.60" fill="#d9d9d9"/>
<rect x="187.91" y="216.60" width="6.90" height="12.60" fill="#d9d9d9"/>
<rect x="195.75" y="216.60" width="6.90" height="12.60" fill="#d9d9d9"/>
<rect x="203.59" y="216.60" width="6.90" height="12.60" fill="#d9d9d9"/>
<rect x="211.43" y="216.60" width="6.90" height="12.60" fill="#d9d9d9"/>
<rect x="219.27" y="216.60" width="6.90" height="12.60" fill="#d9d9d9"/>
<rect x="227.11" y="216.60" width="6.90" height="12.60" fill="#d9d9d9"/>
<rect x="234.95" y="216.60" width="6.90" height="12.60" fill="#d9d9d9"/>
<rect x="242.79" y="216.60" width="6.90" height="12.60" fill="#d9d9d9"/>
<rect x="250.63" y="216.60" width="6.90" height="12.60" fill="#d9d9d9"/>
<rect x="258.47" y="216.60" width="6.90" height="12.60" fill="#d9d9d9"/>
<rect x="266.31" y="216.60" width="6.90" height="12.60" fill="#d9d9d9"/>
<rect x="274.15" y="216.60" width="6.90" height="12.60" fill="#d9d9d9"/>
<rect x="281.99" y="216.60" width="6.90" height="12.60" fill="#d9d9d9"/>
<rect x="289.83" y="216.60" width="6.90" height="12.60" fill="#d9d9d9"/>
<rect x="297.67" y="216.60" width="6.90" height="12.60" fill="#d9d9d9"/>
<rect x="305.51" y="216.60" width="6.90" height="12.60" fill="#d9d9d9"/>
<rect x="313.35" y="216.60" width="6.90" height="12.60" fill="#d9d9d9"/>
<rect x="321.19" y="216.60" width="6.90" height="12.60" fill="#d9d9d9"/>
<rect x="329.03" y="216.60" width="6.90" height="12.60" fill="#d9d9d9"/>
<rect x="336.87" y="216.60" width="6.90" height="12.60" fill="#d9d9d9"/>
<rect x="344.71" y="216.60" width="6.90" height="12.60" fill="#d9d9d9"/>
<rect x="352.55" y="216.60" width="6.90" height="12.60" fill="#d9d9d9"/>
<rect x="360.39" y="216.60" width="6.90" height="12.60" fill="#d9d9d9"/>
<rect x="368.23" y="216.60" width="6.90" height="12.60" fill="#d9d9d9"/>
<rect x="376.07" y="216.60" width="6.90" height="12.60" fill="#d9d9d9"/>
<rect x="383.91" y="216.60" width="6.90" height="12.60" fill="#d9d9d9"/>
<rect x="391.75" y="216.60" width="6.90" height="12.60" fill="#d9d9d9"/>
<rect x="399.59" y="216.60" width="6.90" height="12.60" fill="#d9d9d9"/>
<rect x="407.43" y="216.60" width="6.90" height="12.60" fill="#d9d9d9"/>
<rect x="415.27" y="216.60" width="6.90" height="12.60" fill="#d9d9d9"/>
<rect x="423.11" y="216.60" width="6.90" height="12.60" fill="#d9d9d9"/>
<rect x="430.95" y="216.60" width="6.90" height="12.60" fill="#d9d9d9"/>
<rect x="438.79" y="216.60" width="6.90" height="12.60" fill="#d9d9d9"/>
<rect x="446.63" y="216.60" width="6.90" height="12.60" fill="#d9d9d9"/>
<rect x="454.47" y="216.60" width="6.90" height="12.60" fill="#d9d9d9"/>
<rect x="462.31" y="216.60" width="6.90" height="12.60" fill="#d9d9d9"/>
<rect x="470.15" y="216.60" width="6.90" height="12.60" fill="#d9d9d9"/>
<rect x="477.99" y="216.60" width="6.90" height="12.60" fill="#d9d9d9"/>
<rect x="485.83" y="216.60" width="6.90" height="12.60" fill="#d9d9d9"/>
<rect x="493.67" y="216.60" width="6.90" height="12.60" fill="#d9d9d9"/>
<rect x="501.51" y="216.60" width="6.90" height="12.60" fill="#d9d9d9"/>
<rect x="509.35" y="216.60" width="6.90" height="12.60" fill="#d9d9d9"/>
<rect x="517.19" y="216.60" width="6.90" height="12.60" fill="#d9d9d9"/>
<rect x="525.03" y="216.60" width="6.90" height="12.60" fill="#d9d9d9"/>
<rect x="532.87" y="216.60" width="6.90" height="12.60" fill="#d9d9d9"/>
<rect x="540.71" y="216.60" width="6.90" height="12.60" fill="#d9d9d9"/>
<rect x="548.55" y="216.60" width="6.90" height="12.60" fill="#d9d9d9"/>
<rect x="556.39" y="216.60" width="6.90" height="12.60" fill="#d9d9d9"/>
<rect x="564.23" y="216.60" width="6.90" height="12.60" fill="#d9d9d9"/>
<rect x="572.07" y="216.60" width="6.90" height="12.60" fill="#d9d9d9"/>
<rect x="68.51" y="220.80" width="6.30" height="4.30" fill="#00cd00"/>
<rect x="115.65" y="220.80" width="6.30" height="4.30" fill="#00cd00"/>
<rect x="188.56" y="220.80" width="6.30" height="4.30" fill="#00cd00"/>
<rect x="212.08" y="217.50" width="6.30" height="10.80" fill="#a83838"/>
<rect x="212.08" y="220.80" width="6.30" height="4.30" fill="#00cd00"/>
<rect x="227.76" y="217.50" width="6.30" height="10.80" fill="#5151b0"/>
<rect x="266.96" y="220.80" width="6.30" height="4.30" fill="#00cd00"/>
<rect x="274.80" y="220.80" width="6.30" height="4.30" fill="#00cd00"/>
<rect x="361.04" y="220.80" width="6.30" height="4.30" fill="#00cd00"/>
<rect x="447.28" y="220.80" width="6.30" height="4.30" fill="#006800"/>
<rect x="455.12" y="217.50" width="6.30" height="10.80" fill="#5151b0"/>
<rect x="486.48" y="220.80" width="6.30" height="4.30" fill="#00cd00"/>
<rect x="494.32" y="220.80" width="6.30" height="4.30" fill="#00cd00"/>
<text x="56.00" y="226.05" font-size="8.30" text-anchor="end" fill="#000">SVEP1</text>
<rect x="583.70" y="216.50" width="19.50" height="13.20" fill="#fff" stroke="#d4d4d4" stroke-width="0.8"/>
<text x="592.90" y="226.10" font-size="8.30" text-anchor="middle" fill="#000">13%</text>
<rect x="603.80" y="216.50" width="19.50" height="13.20" fill="#fff" stroke="#d4d4d4" stroke-width="0.8"/>
<text x="613.00" y="226.10" font-size="8.30" text-anchor="middle" fill="#000">13%</text>
<rect x="623.90" y="216.50" width="19.50" height="13.20" fill="#fff" stroke="#d4d4d4" stroke-width="0.8"/>
<text x="633.10" y="226.10" font-size="8.30" text-anchor="middle" fill="#000">4%</text>
<text x="653.80" y="226.10" font-size="8.30" text-anchor="middle" fill="#000">15%</text>
<rect x="644.40" y="216.20" width="19.60" height="13.50" fill="none" stroke="#222" stroke-width="0.8"/>
<rect x="60.00" y="230.10" width="6.90" height="12.60" fill="#d9d9d9"/>
<rect x="67.86" y="230.10" width="6.90" height="12.60" fill="#d9d9d9"/>
<rect x="75.71" y="230.10" width="6.90" height="12.60" fill="#d9d9d9"/>
<rect x="83.57" y="230.10" width="6.90" height="12.60" fill="#d9d9d9"/>
<rect x="91.43" y="230.10" width="6.90" height="12.60" fill="#d9d9d9"/>
<rect x="99.28" y="230.10" width="6.90" height="12.60" fill="#d9d9d9"/>
<rect x="107.14" y="230.10" width="6.90" height="12.60" fill="#d9d9d9"/>
<rect x="115.00" y="230.10" width="6.90" height="12.60" fill="#d9d9d9"/>
<rect x="122.86" y="230.10" width="6.90" height="12.60" fill="#d9d9d9"/>
<rect x="130.71" y="230.10" width="6.90" height="12.60" fill="#d9d9d9"/>
<rect x="138.57" y="230.10" width="6.90" height="12.60" fill="#d9d9d9"/>
<rect x="146.43" y="230.10" width="6.90" height="12.60" fill="#d9d9d9"/>
<rect x="154.28" y="230.10" width="6.90" height="12.60" fill="#d9d9d9"/>
<rect x="162.14" y="230.10" width="6.90" height="12.60" fill="#d9d9d9"/>
<rect x="170.00" y="230.10" width="6.90" height="12.60" fill="#d9d9d9"/>
<rect x="180.07" y="230.10" width="6.90" height="12.60" fill="#d9d9d9"/>
<rect x="187.91" y="230.10" width="6.90" height="12.60" fill="#d9d9d9"/>
<rect x="195.75" y="230.10" width="6.90" height="12.60" fill="#d9d9d9"/>
<rect x="203.59" y="230.10" width="6.90" height="12.60" fill="#d9d9d9"/>
<rect x="211.43" y="230.10" width="6.90" height="12.60" fill="#d9d9d9"/>
<rect x="219.27" y="230.10" width="6.90" height="12.60" fill="#d9d9d9"/>
<rect x="227.11" y="230.10" width="6.90" height="12.60" fill="#d9d9d9"/>
<rect x="234.95" y="230.10" width="6.90" height="12.60" fill="#d9d9d9"/>
<rect x="242.79" y="230.10" width="6.90" height="12.60" fill="#d9d9d9"/>
<rect x="250.63" y="230.10" width="6.90" height="12.60" fill="#d9d9d9"/>
<rect x="258.47" y="230.10" width="6.90" height="12.60" fill="#d9d9d9"/>
<rect x="266.31" y="230.10" width="6.90" height="12.60" fill="#d9d9d9"/>
<rect x="274.15" y="230.10" width="6.90" height="12.60" fill="#d9d9d9"/>
<rect x="281.99" y="230.10" width="6.90" height="12.60" fill="#d9d9d9"/>
<rect x="289.83" y="230.10" width="6.90" height="12.60" fill="#d9d9d9"/>
<rect x="297.67" y="230.10" width="6.90" height="12.60" fill="#d9d9d9"/>
<rect x="305.51" y="230.10" width="6.90" height="12.60" fill="#d9d9d9"/>
<rect x="313.35" y="230.10" width="6.90" height="12.60" fill="#d9d9d9"/>
<rect x="321.19" y="230.10" width="6.90" height="12.60" fill="#d9d9d9"/>
<rect x="329.03" y="230.10" width="6.90" height="12.60" fill="#d9d9d9"/>
<rect x="336.87" y="230.10" width="6.90" height="12.60" fill="#d9d9d9"/>
<rect x="344.71" y="230.10" width="6.90" height="12.60" fill="#d9d9d9"/>
<rect x="352.55" y="230.10" width="6.90" height="12.60" fill="#d9d9d9"/>
<rect x="360.39" y="230.10" width="6.90" height="12.60" fill="#d9d9d9"/>
<rect x="368.23" y="230.10" width="6.90" height="12.60" fill="#d9d9d9"/>
<rect x="376.07" y="230.10" width="6.90" height="12.60" fill="#d9d9d9"/>
<rect x="383.91" y="230.10" width="6.90" height="12.60" fill="#d9d9d9"/>
<rect x="391.75" y="230.10" width="6.90" height="12.60" fill="#d9d9d9"/>
<rect x="399.59" y="230.10" width="6.90" height="12.60" fill="#d9d9d9"/>
<rect x="407.43" y="230.10" width="6.90" height="12.60" fill="#d9d9d9"/>
<rect x="415.27" y="230.10" width="6.90" height="12.60" fill="#d9d9d9"/>
<rect x="423.11" y="230.10" width="6.90" height="12.60" fill="#d9d9d9"/>
<rect x="430.95" y="230.10" width="6.90" height="12.60" fill="#d9d9d9"/>
<rect x="438.79" y="230.10" width="6.90" height="12.60" fill="#d9d9d9"/>
<rect x="446.63" y="230.10" width="6.90" height="12.60" fill="#d9d9d9"/>
<rect x="454.47" y="230.10" width="6.90" height="12.60" fill="#d9d9d9"/>
<rect x="462.31" y="230.10" width="6.90" height="12.60" fill="#d9d9d9"/>
<rect x="470.15" y="230.10" width="6.90" height="12.60" fill="#d9d9d9"/>
<rect x="477.99" y="230.10" width="6.90" height="12.60" fill="#d9d9d9"/>
<rect x="485.83" y="230.10" width="6.90" height="12.60" fill="#d9d9d9"/>
<rect x="493.67" y="230.10" width="6.90" height="12.60" fill="#d9d9d9"/>
<rect x="501.51" y="230.10" width="6.90" height="12.60" fill="#d9d9d9"/>
<rect x="509.35" y="230.10" width="6.90" height="12.60" fill="#d9d9d9"/>
<rect x="517.19" y="230.10" width="6.90" height="12.60" fill="#d9d9d9"/>
<rect x="525.03" y="230.10" width="6.90" height="12.60" fill="#d9d9d9"/>
<rect x="532.87" y="230.10" width="6.90" height="12.60" fill="#d9d9d9"/>
<rect x="540.71" y="230.10" width="6.90" height="12.60" fill="#d9d9d9"/>
<rect x="548.55" y="230.10" width="6.90" height="12.60" fill="#d9d9d9"/>
<rect x="556.39" y="230.10" width="6.90" height="12.60" fill="#d9d9d9"/>
<rect x="564.23" y="230.10" width="6.90" height="12.60" fill="#d9d9d9"/>
<rect x="572.07" y="230.10" width="6.90" height="12.60" fill="#d9d9d9"/>
<rect x="107.79" y="234.30" width="6.30" height="4.30" fill="#003000"/>
<rect x="131.36" y="231.00" width="6.30" height="10.80" fill="#5151b0"/>
<rect x="162.79" y="234.30" width="6.30" height="4.30" fill="#00cd00"/>
<rect x="180.72" y="231.00" width="6.30" height="10.80" fill="#a83838"/>
<rect x="227.76" y="231.00" width="6.30" height="10.80" fill="#a83838"/>
<rect x="321.84" y="231.00" width="6.30" height="10.80" fill="#5151b0"/>
<rect x="368.88" y="231.00" width="6.30" height="10.80" fill="#a83838"/>
<rect x="376.72" y="234.30" width="6.30" height="4.30" fill="#00cd00"/>
<rect x="462.96" y="234.30" width="6.30" height="4.30" fill="#00cd00"/>
<rect x="502.16" y="234.30" width="6.30" height="4.30" fill="#006800"/>
<rect x="510.00" y="234.30" width="6.30" height="4.30" fill="#00cd00"/>
<rect x="517.84" y="234.30" width="6.30" height="4.30" fill="#00cd00"/>
<rect x="525.68" y="234.30" width="6.30" height="4.30" fill="#00cd00"/>
<text x="56.00" y="239.55" font-size="8.30" text-anchor="end" fill="#000">DNAH5</text>
<rect x="583.70" y="230.00" width="19.50" height="13.20" fill="#fff" stroke="#d4d4d4" stroke-width="0.8"/>
<text x="592.90" y="239.60" font-size="8.30" text-anchor="middle" fill="#000">13%</text>
<rect x="603.80" y="230.00" width="19.50" height="13.20" fill="#fff" stroke="#d4d4d4" stroke-width="0.8"/>
<text x="613.00" y="239.60" font-size="8.30" text-anchor="middle" fill="#000">12%</text>
<rect x="623.90" y="230.00" width="19.50" height="13.20" fill="#fff" stroke="#d4d4d4" stroke-width="0.8"/>
<text x="633.10" y="239.60" font-size="8.30" text-anchor="middle" fill="#000">6%</text>
<text x="653.80" y="239.60" font-size="8.30" text-anchor="middle" fill="#000">16%</text>
<rect x="644.40" y="229.70" width="19.60" height="13.50" fill="none" stroke="#222" stroke-width="0.8"/>
<rect x="60.00" y="243.60" width="6.90" height="12.60" fill="#d9d9d9"/>
<rect x="67.86" y="243.60" width="6.90" height="12.60" fill="#d9d9d9"/>
<rect x="75.71" y="243.60" width="6.90" height="12.60" fill="#d9d9d9"/>
<rect x="83.57" y="243.60" width="6.90" height="12.60" fill="#d9d9d9"/>
<rect x="91.43" y="243.60" width="6.90" height="12.60" fill="#d9d9d9"/>
<rect x="99.28" y="243.60" width="6.90" height="12.60" fill="#d9d9d9"/>
<rect x="107.14" y="243.60" width="6.90" height="12.60" fill="#d9d9d9"/>
<rect x="115.00" y="243.60" width="6.90" height="12.60" fill="#d9d9d9"/>
<rect x="122.86" y="243.60" width="6.90" height="12.60" fill="#d9d9d9"/>
<rect x="130.71" y="243.60" width="6.90" height="12.60" fill="#d9d9d9"/>
<rect x="138.57" y="243.60" width="6.90" height="12.60" fill="#d9d9d9"/>
<rect x="146.43" y="243.60" width="6.90" height="12.60" fill="#d9d9d9"/>
<rect x="154.28" y="243.60" width="6.90" height="12.60" fill="#d9d9d9"/>
<rect x="162.14" y="243.60" width="6.90" height="12.60" fill="#d9d9d9"/>
<rect x="170.00" y="243.60" width="6.90" height="12.60" fill="#d9d9d9"/>
<rect x="180.07" y="243.60" width="6.90" height="12.60" fill="#d9d9d9"/>
<rect x="187.91" y="243.60" width="6.90" height="12.60" fill="#d9d9d9"/>
<rect x="195.75" y="243.60" width="6.90" height="12.60" fill="#d9d9d9"/>
<rect x="203.59" y="243.60" width="6.90" height="12.60" fill="#d9d9d9"/>
<rect x="211.43" y="243.60" width="6.90" height="12.60" fill="#d9d9d9"/>
<rect x="219.27" y="243.60" width="6.90" height="12.60" fill="#d9d9d9"/>
<rect x="227.11" y="243.60" width="6.90" height="12.60" fill="#d9d9d9"/>
<rect x="234.95" y="243.60" width="6.90" height="12.60" fill="#d9d9d9"/>
<rect x="242.79" y="243.60" width="6.90" height="12.60" fill="#d9d9d9"/>
<rect x="250.63" y="243.60" width="6.90" height="12.60" fill="#d9d9d9"/>
<rect x="258.47" y="243.60" width="6.90" height="12.60" fill="#d9d9d9"/>
<rect x="266.31" y="243.60" width="6.90" height="12.60" fill="#d9d9d9"/>
<rect x="274.15" y="243.60" width="6.90" height="12.60" fill="#d9d9d9"/>
<rect x="281.99" y="243.60" width="6.90" height="12.60" fill="#d9d9d9"/>
<rect x="289.83" y="243.60" width="6.90" height="12.60" fill="#d9d9d9"/>
<rect x="297.67" y="243.60" width="6.90" height="12.60" fill="#d9d9d9"/>
<rect x="305.51" y="243.60" width="6.90" height="12.60" fill="#d9d9d9"/>
<rect x="313.35" y="243.60" width="6.90" height="12.60" fill="#d9d9d9"/>
<rect x="321.19" y="243.60" width="6.90" height="12.60" fill="#d9d9d9"/>
<rect x="329.03" y="243.60" width="6.90" height="12.60" fill="#d9d9d9"/>
<rect x="336.87" y="243.60" width="6.90" height="12.60" fill="#d9d9d9"/>
<rect x="344.71" y="243.60" width="6.90" height="12.60" fill="#d9d9d9"/>
<rect x="352.55" y="243.60" width="6.90" height="12.60" fill="#d9d9d9"/>
<rect x="360.39" y="243.60" width="6.90" height="12.60" fill="#d9d9d9"/>
<rect x="368.23" y="243.60" width="6.90" height="12.60" fill="#d9d9d9"/>
<rect x="376.07" y="243.60" width="6.90" height="12.60" fill="#d9d9d9"/>
<rect x="383.91" y="243.60" width="6.90" height="12.60" fill="#d9d9d9"/>
<rect x="391.75" y="243.60" width="6.90" height="12.60" fill="#d9d9d9"/>
<rect x="399.59" y="243.60" width="6.90" height="12.60" fill="#d9d9d9"/>
<rect x="407.43" y="243.60" width="6.90" height="12.60" fill="#d9d9d9"/>
<rect x="415.27" y="243.60" width="6.90" height="12.60" fill="#d9d9d9"/>
<rect x="423.11" y="243.60" width="6.90" height="12.60" fill="#d9d9d9"/>
<rect x="430.95" y="243.60" width="6.90" height="12.60" fill="#d9d9d9"/>
<rect x="438.79" y="243.60" width="6.90" height="12.60" fill="#d9d9d9"/>
<rect x="446.63" y="243.60" width="6.90" height="12.60" fill="#d9d9d9"/>
<rect x="454.47" y="243.60" width="6.90" height="12.60" fill="#d9d9d9"/>
<rect x="462.31" y="243.60" width="6.90" height="12.60" fill="#d9d9d9"/>
<rect x="470.15" y="243.60" width="6.90" height="12.60" fill="#d9d9d9"/>
<rect x="477.99" y="243.60" width="6.90" height="12.60" fill="#d9d9d9"/>
<rect x="485.83" y="243.60" width="6.90" height="12.60" fill="#d9d9d9"/>
<rect x="493.67" y="243.60" width="6.90" height="12.60" fill="#d9d9d9"/>
<rect x="501.51" y="243.60" width="6.90" height="12.60" fill="#d9d9d9"/>
<rect x="509.35" y="243.60" width="6.90" height="12.60" fill="#d9d9d9"/>
<rect x="517.19" y="243.60" width="6.90" height="12.60" fill="#d9d9d9"/>
<rect x="525.03" y="243.60" width="6.90" height="12.60" fill="#d9d9d9"/>
<rect x="532.87" y="243.60" width="6.90" height="12.60" fill="#d9d9d9"/>
<rect x="540.71" y="243.60" width="6.90" height="12.60" fill="#d9d9d9"/>
<rect x="548.55" y="243.60" width="6.90" height="12.60" fill="#d9d9d9"/>
<rect x="556.39" y="243.60" width="6.90" height="12.60" fill="#d9d9d9"/>
<rect x="564.23" y="243.60" width="6.90" height="12.60" fill="#d9d9d9"/>
<rect x="572.07" y="243.60" width="6.90" height="12.60" fill="#d9d9d9"/>
<rect x="60.65" y="244.50" width="6.30" height="10.80" fill="#a83838"/>
<rect x="68.51" y="247.80" width="6.30" height="4.30" fill="#00cd00"/>
<rect x="107.79" y="247.80" width="6.30" height="4.30" fill="#006800"/>
<rect x="162.79" y="244.50" width="6.30" height="10.80" fill="#a83838"/>
<rect x="188.56" y="244.50" width="6.30" height="10.80" fill="#5151b0"/>
<rect x="219.92" y="244.50" width="6.30" height="10.80" fill="#5151b0"/>
<rect x="321.84" y="244.50" width="6.30" height="10.80" fill="#5151b0"/>
<rect x="329.68" y="244.50" width="6.30" height="10.80" fill="#5151b0"/>
<rect x="345.36" y="244.50" width="6.30" height="10.80" fill="#5151b0"/>
<rect x="353.20" y="244.50" width="6.30" height="10.80" fill="#5151b0"/>
<rect x="384.56" y="244.50" width="6.30" height="10.80" fill="#5151b0"/>
<text x="56.00" y="253.05" font-size="8.30" text-anchor="end" fill="#000">DST</text>
<rect x="583.70" y="243.50" width="19.50" height="13.20" fill="#fff" stroke="#d4d4d4" stroke-width="0.8"/>
<text x="592.90" y="253.10" font-size="8.30" text-anchor="middle" fill="#000">13%</text>
<rect x="603.80" y="243.50" width="19.50" height="13.20" fill="#fff" stroke="#d4d4d4" stroke-width="0.8"/>
<text x="613.00" y="253.10" font-size="8.30" text-anchor="middle" fill="#000">NA</text>
<rect x="623.90" y="243.50" width="19.50" height="13.20" fill="#fff" stroke="#d4d4d4" stroke-width="0.8"/>
<text x="633.10" y="253.10" font-size="8.30" text-anchor="middle" fill="#000">11%</text>
<text x="653.80" y="253.10" font-size="8.30" text-anchor="middle" fill="#000">13%</text>
<rect x="644.40" y="243.20" width="19.60" height="13.50" fill="none" stroke="#222" stroke-width="0.8"/>
<rect x="60.00" y="257.10" width="6.90" height="12.60" fill="#d9d9d9"/>
<rect x="67.86" y="257.10" width="6.90" height="12.60" fill="#d9d9d9"/>
<rect x="75.71" y="257.10" width="6.90" height="12.60" fill="#d9d9d9"/>
<rect x="83.57" y="257.10" width="6.90" height="12.60" fill="#d9d9d9"/>
<rect x="91.43" y="257.10" width="6.90" height="12.60" fill="#d9d9d9"/>
<rect x="99.28" y="257.10" width="6.90" height="12.60" fill="#d9d9d9"/>
<rect x="107.14" y="257.10" width="6.90" height="12.60" fill="#d9d9d9"/>
<rect x="115.00" y="257.10" width="6.90" height="12.60" fill="#d9d9d9"/>
<rect x="122.86" y="257.10" width="6.90" height="12.60" fill="#d9d9d9"/>
<rect x="130.71" y="257.10" width="6.90" height="12.60" fill="#d9d9d9"/>
<rect x="138.57" y="257.10" width="6.90" height="12.60" fill="#d9d9d9"/>
<rect x="146.43" y="257.10" width="6.90" height="12.60" fill="#d9d9d9"/>
<rect x="154.28" y="257.10" width="6.90" height="12.60" fill="#d9d9d9"/>
<rect x="162.14" y="257.10" width="6.90" height="12.60" fill="#d9d9d9"/>
<rect x="170.00" y="257.10" width="6.90" height="12.60" fill="#d9d9d9"/>
<rect x="180.07" y="257.10" width="6.90" height="12.60" fill="#d9d9d9"/>
<rect x="187.91" y="257.10" width="6.90" height="12.60" fill="#d9d9d9"/>
<rect x="195.75" y="257.10" width="6.90" height="12.60" fill="#d9d9d9"/>
<rect x="203.59" y="257.10" width="6.90" height="12.60" fill="#d9d9d9"/>
<rect x="211.43" y="257.10" width="6.90" height="12.60" fill="#d9d9d9"/>
<rect x="219.27" y="257.10" width="6.90" height="12.60" fill="#d9d9d9"/>
<rect x="227.11" y="257.10" width="6.90" height="12.60" fill="#d9d9d9"/>
<rect x="234.95" y="257.10" width="6.90" height="12.60" fill="#d9d9d9"/>
<rect x="242.79" y="257.10" width="6.90" height="12.60" fill="#d9d9d9"/>
<rect x="250.63" y="257.10" width="6.90" height="12.60" fill="#d9d9d9"/>
<rect x="258.47" y="257.10" width="6.90" height="12.60" fill="#d9d9d9"/>
<rect x="266.31" y="257.10" width="6.90" height="12.60" fill="#d9d9d9"/>
<rect x="274.15" y="257.10" width="6.90" height="12.60" fill="#d9d9d9"/>
<rect x="281.99" y="257.10" width="6.90" height="12.60" fill="#d9d9d9"/>
<rect x="289.83" y="257.10" width="6.90" height="12.60" fill="#d9d9d9"/>
<rect x="297.67" y="257.10" width="6.90" height="12.60" fill="#d9d9d9"/>
<rect x="305.51" y="257.10" width="6.90" height="12.60" fill="#d9d9d9"/>
<rect x="313.35" y="257.10" width="6.90" height="12.60" fill="#d9d9d9"/>
<rect x="321.19" y="257.10" width="6.90" height="12.60" fill="#d9d9d9"/>
<rect x="329.03" y="257.10" width="6.90" height="12.60" fill="#d9d9d9"/>
<rect x="336.87" y="257.10" width="6.90" height="12.60" fill="#d9d9d9"/>
<rect x="344.71" y="257.10" width="6.90" height="12.60" fill="#d9d9d9"/>
<rect x="352.55" y="257.10" width="6.90" height="12.60" fill="#d9d9d9"/>
<rect x="360.39" y="257.10" width="6.90" height="12.60" fill="#d9d9d9"/>
<rect x="368.23" y="257.10" width="6.90" height="12.60" fill="#d9d9d9"/>
<rect x="376.07" y="257.10" width="6.90" height="12.60" fill="#d9d9d9"/>
<rect x="383.91" y="257.10" width="6.90" height="12.60" fill="#d9d9d9"/>
<rect x="391.75" y="257.10" width="6.90" height="12.60" fill="#d9d9d9"/>
<rect x="399.59" y="257.10" width="6.90" height="12.60" fill="#d9d9d9"/>
<rect x="407.43" y="257.10" width="6.90" height="12.60" fill="#d9d9d9"/>
<rect x="415.27" y="257.10" width="6.90" height="12.60" fill="#d9d9d9"/>
<rect x="423.11" y="257.10" width="6.90" height="12.60" fill="#d9d9d9"/>
<rect x="430.95" y="257.10" width="6.90" height="12.60" fill="#d9d9d9"/>
<rect x="438.79" y="257.10" width="6.90" height="12.60" fill="#d9d9d9"/>
<rect x="446.63" y="257.10" width="6.90" height="12.60" fill="#d9d9d9"/>
<rect x="454.47" y="257.10" width="6.90" height="12.60" fill="#d9d9d9"/>
<rect x="462.31" y="257.10" width="6.90" height="12.60" fill="#d9d9d9"/>
<rect x="470.15" y="257.10" width="6.90" height="12.60" fill="#d9d9d9"/>
<rect x="477.99" y="257.10" width="6.90" height="12.60" fill="#d9d9d9"/>
<rect x="485.83" y="257.10" width="6.90" height="12.60" fill="#d9d9d9"/>
<rect x="493.67" y="257.10" width="6.90" height="12.60" fill="#d9d9d9"/>
<rect x="501.51" y="257.10" width="6.90" height="12.60" fill="#d9d9d9"/>
<rect x="509.35" y="257.10" width="6.90" height="12.60" fill="#d9d9d9"/>
<rect x="517.19" y="257.10" width="6.90" height="12.60" fill="#d9d9d9"/>
<rect x="525.03" y="257.10" width="6.90" height="12.60" fill="#d9d9d9"/>
<rect x="532.87" y="257.10" width="6.90" height="12.60" fill="#d9d9d9"/>
<rect x="540.71" y="257.10" width="6.90" height="12.60" fill="#d9d9d9"/>
<rect x="548.55" y="257.10" width="6.90" height="12.60" fill="#d9d9d9"/>
<rect x="556.39" y="257.10" width="6.90" height="12.60" fill="#d9d9d9"/>
<rect x="564.23" y="257.10" width="6.90" height="12.60" fill="#d9d9d9"/>
<rect x="572.07" y="257.10" width="6.90" height="12.60" fill="#d9d9d9"/>
<rect x="60.65" y="261.30" width="6.30" height="4.30" fill="#00cd00"/>
<rect x="139.22" y="261.30" width="6.30" height="4.30" fill="#00cd00"/>
<rect x="162.79" y="258.00" width="6.30" height="10.80" fill="#5151b0"/>
<rect x="180.72" y="258.00" width="6.30" height="10.80" fill="#a83838"/>
<rect x="212.08" y="258.00" width="6.30" height="10.80" fill="#a83838"/>
<rect x="219.92" y="258.00" width="6.30" height="10.80" fill="#5151b0"/>
<rect x="298.32" y="261.30" width="6.30" height="4.30" fill="#003000"/>
<rect x="408.08" y="261.30" width="6.30" height="4.30" fill="#00cd00"/>
<rect x="502.16" y="261.30" width="6.30" height="4.30" fill="#00cd00"/>
<text x="56.00" y="266.55" font-size="8.30" text-anchor="end" fill="#000">KCNMA1</text>
<rect x="583.70" y="257.00" width="19.50" height="13.20" fill="#fff" stroke="#d4d4d4" stroke-width="0.8"/>
<text x="592.90" y="266.60" font-size="8.30" text-anchor="middle" fill="#000">13%</text>
<rect x="603.80" y="257.00" width="19.50" height="13.20" fill="#fff" stroke="#d4d4d4" stroke-width="0.8"/>
<text x="613.00" y="266.60" font-size="8.30" text-anchor="middle" fill="#000">4%</text>
<rect x="623.90" y="257.00" width="19.50" height="13.20" fill="#fff" stroke="#d4d4d4" stroke-width="0.8"/>
<text x="633.10" y="266.60" font-size="8.30" text-anchor="middle" fill="#000">5%</text>
<text x="653.80" y="266.60" font-size="8.30" text-anchor="middle" fill="#000">11%</text>
<rect x="644.40" y="256.70" width="19.60" height="13.50" fill="none" stroke="#222" stroke-width="0.8"/>
<rect x="60.00" y="270.60" width="6.90" height="12.60" fill="#d9d9d9"/>
<rect x="67.86" y="270.60" width="6.90" height="12.60" fill="#d9d9d9"/>
<rect x="75.71" y="270.60" width="6.90" height="12.60" fill="#d9d9d9"/>
<rect x="83.57" y="270.60" width="6.90" height="12.60" fill="#d9d9d9"/>
<rect x="91.43" y="270.60" width="6.90" height="12.60" fill="#d9d9d9"/>
<rect x="99.28" y="270.60" width="6.90" height="12.60" fill="#d9d9d9"/>
<rect x="107.14" y="270.60" width="6.90" height="12.60" fill="#d9d9d9"/>
<rect x="115.00" y="270.60" width="6.90" height="12.60" fill="#d9d9d9"/>
<rect x="122.86" y="270.60" width="6.90" height="12.60" fill="#d9d9d9"/>
<rect x="130.71" y="270.60" width="6.90" height="12.60" fill="#d9d9d9"/>
<rect x="138.57" y="270.60" width="6.90" height="12.60" fill="#d9d9d9"/>
<rect x="146.43" y="270.60" width="6.90" height="12.60" fill="#d9d9d9"/>
<rect x="154.28" y="270.60" width="6.90" height="12.60" fill="#d9d9d9"/>
<rect x="162.14" y="270.60" width="6.90" height="12.60" fill="#d9d9d9"/>
<rect x="170.00" y="270.60" width="6.90" height="12.60" fill="#d9d9d9"/>
<rect x="180.07" y="270.60" width="6.90" height="12.60" fill="#d9d9d9"/>
<rect x="187.91" y="270.60" width="6.90" height="12.60" fill="#d9d9d9"/>
<rect x="195.75" y="270.60" width="6.90" height="12.60" fill="#d9d9d9"/>
<rect x="203.59" y="270.60" width="6.90" height="12.60" fill="#d9d9d9"/>
<rect x="211.43" y="270.60" width="6.90" height="12.60" fill="#d9d9d9"/>
<rect x="219.27" y="270.60" width="6.90" height="12.60" fill="#d9d9d9"/>
<rect x="227.11" y="270.60" width="6.90" height="12.60" fill="#d9d9d9"/>
<rect x="234.95" y="270.60" width="6.90" height="12.60" fill="#d9d9d9"/>
<rect x="242.79" y="270.60" width="6.90" height="12.60" fill="#d9d9d9"/>
<rect x="250.63" y="270.60" width="6.90" height="12.60" fill="#d9d9d9"/>
<rect x="258.47" y="270.60" width="6.90" height="12.60" fill="#d9d9d9"/>
<rect x="266.31" y="270.60" width="6.90" height="12.60" fill="#d9d9d9"/>
<rect x="274.15" y="270.60" width="6.90" height="12.60" fill="#d9d9d9"/>
<rect x="281.99" y="270.60" width="6.90" height="12.60" fill="#d9d9d9"/>
<rect x="289.83" y="270.60" width="6.90" height="12.60" fill="#d9d9d9"/>
<rect x="297.67" y="270.60" width="6.90" height="12.60" fill="#d9d9d9"/>
<rect x="305.51" y="270.60" width="6.90" height="12.60" fill="#d9d9d9"/>
<rect x="313.35" y="270.60" width="6.90" height="12.60" fill="#d9d9d9"/>
<rect x="321.19" y="270.60" width="6.90" height="12.60" fill="#d9d9d9"/>
<rect x="329.03" y="270.60" width="6.90" height="12.60" fill="#d9d9d9"/>
<rect x="336.87" y="270.60" width="6.90" height="12.60" fill="#d9d9d9"/>
<rect x="344.71" y="270.60" width="6.90" height="12.60" fill="#d9d9d9"/>
<rect x="352.55" y="270.60" width="6.90" height="12.60" fill="#d9d9d9"/>
<rect x="360.39" y="270.60" width="6.90" height="12.60" fill="#d9d9d9"/>
<rect x="368.23" y="270.60" width="6.90" height="12.60" fill="#d9d9d9"/>
<rect x="376.07" y="270.60" width="6.90" height="12.60" fill="#d9d9d9"/>
<rect x="383.91" y="270.60" width="6.90" height="12.60" fill="#d9d9d9"/>
<rect x="391.75" y="270.60" width="6.90" height="12.60" fill="#d9d9d9"/>
<rect x="399.59" y="270.60" width="6.90" height="12.60" fill="#d9d9d9"/>
<rect x="407.43" y="270.60" width="6.90" height="12.60" fill="#d9d9d9"/>
<rect x="415.27" y="270.60" width="6.90" height="12.60" fill="#d9d9d9"/>
<rect x="423.11" y="270.60" width="6.90" height="12.60" fill="#d9d9d9"/>
<rect x="430.95" y="270.60" width="6.90" height="12.60" fill="#d9d9d9"/>
<rect x="438.79" y="270.60" width="6.90" height="12.60" fill="#d9d9d9"/>
<rect x="446.63" y="270.60" width="6.90" height="12.60" fill="#d9d9d9"/>
<rect x="454.47" y="270.60" width="6.90" height="12.60" fill="#d9d9d9"/>
<rect x="462.31" y="270.60" width="6.90" height="12.60" fill="#d9d9d9"/>
<rect x="470.15" y="270.60" width="6.90" height="12.60" fill="#d9d9d9"/>
<rect x="477.99" y="270.60" width="6.90" height="12.60" fill="#d9d9d9"/>
<rect x="485.83" y="270.60" width="6.90" height="12.60" fill="#d9d9d9"/>
<rect x="493.67" y="270.60" width="6.90" height="12.60" fill="#d9d9d9"/>
<rect x="501.51" y="270.60" width="6.90" height="12.60" fill="#d9d9d9"/>
<rect x="509.35" y="270.60" width="6.90" height="12.60" fill="#d9d9d9"/>
<rect x="517.19" y="270.60" width="6.90" height="12.60" fill="#d9d9d9"/>
<rect x="525.03" y="270.60" width="6.90" height="12.60" fill="#d9d9d9"/>
<rect x="532.87" y="270.60" width="6.90" height="12.60" fill="#d9d9d9"/>
<rect x="540.71" y="270.60" width="6.90" height="12.60" fill="#d9d9d9"/>
<rect x="548.55" y="270.60" width="6.90" height="12.60" fill="#d9d9d9"/>
<rect x="556.39" y="270.60" width="6.90" height="12.60" fill="#d9d9d9"/>
<rect x="564.23" y="270.60" width="6.90" height="12.60" fill="#d9d9d9"/>
<rect x="572.07" y="270.60" width="6.90" height="12.60" fill="#d9d9d9"/>
<rect x="92.08" y="274.80" width="6.30" height="4.30" fill="#003000"/>
<rect x="99.94" y="271.50" width="6.30" height="10.80" fill="#5151b0"/>
<rect x="131.36" y="274.80" width="6.30" height="4.30" fill="#00cd00"/>
<rect x="180.72" y="271.50" width="6.30" height="10.80" fill="#a83838"/>
<rect x="204.24" y="271.50" width="6.30" height="10.80" fill="#5151b0"/>
<rect x="235.60" y="271.50" width="6.30" height="10.80" fill="#5151b0"/>
<rect x="321.84" y="271.50" width="6.30" height="10.80" fill="#5151b0"/>
<rect x="337.52" y="271.50" width="6.30" height="10.80" fill="#5151b0"/>
<rect x="400.24" y="274.80" width="6.30" height="4.30" fill="#00cd00"/>
<text x="56.00" y="280.05" font-size="8.30" text-anchor="end" fill="#000">MAP3K5</text>
<rect x="583.70" y="270.50" width="19.50" height="13.20" fill="#fff" stroke="#d4d4d4" stroke-width="0.8"/>
<text x="592.90" y="280.10" font-size="8.30" text-anchor="middle" fill="#000">13%</text>
<rect x="603.80" y="270.50" width="19.50" height="13.20" fill="#fff" stroke="#d4d4d4" stroke-width="0.8"/>
<text x="613.00" y="280.10" font-size="8.30" text-anchor="middle" fill="#000">1%</text>
<rect x="623.90" y="270.50" width="19.50" height="13.20" fill="#fff" stroke="#d4d4d4" stroke-width="0.8"/>
<text x="633.10" y="280.10" font-size="8.30" text-anchor="middle" fill="#000">7%</text>
<text x="653.80" y="280.10" font-size="8.30" text-anchor="middle" fill="#000">11%</text>
<rect x="644.40" y="270.20" width="19.60" height="13.50" fill="none" stroke="#222" stroke-width="0.8"/>
<rect x="60.00" y="284.10" width="6.90" height="12.60" fill="#d9d9d9"/>
<rect x="67.86" y="284.10" width="6.90" height="12.60" fill="#d9d9d9"/>
<rect x="75.71" y="284.10" width="6.90" height="12.60" fill="#d9d9d9"/>
<rect x="83.57" y="284.10" width="6.90" height="12.60" fill="#d9d9d9"/>
<rect x="91.43" y="284.10" width="6.90" height="12.60" fill="#d9d9d9"/>
<rect x="99.28" y="284.10" width="6.90" height="12.60" fill="#d9d9d9"/>
<rect x="107.14" y="284.10" width="6.90" height="12.60" fill="#d9d9d9"/>
<rect x="115.00" y="284.10" width="6.90" height="12.60" fill="#d9d9d9"/>
<rect x="122.86" y="284.10" width="6.90" height="12.60" fill="#d9d9d9"/>
<rect x="130.71" y="284.10" width="6.90" height="12.60" fill="#d9d9d9"/>
<rect x="138.57" y="284.10" width="6.90" height="12.60" fill="#d9d9d9"/>
<rect x="146.43" y="284.10" width="6.90" height="12.60" fill="#d9d9d9"/>
<rect x="154.28" y="284.10" width="6.90" height="12.60" fill="#d9d9d9"/>
<rect x="162.14" y="284.10" width="6.90" height="12.60" fill="#d9d9d9"/>
<rect x="170.00" y="284.10" width="6.90" height="12.60" fill="#d9d9d9"/>
<rect x="180.07" y="284.10" width="6.90" height="12.60" fill="#d9d9d9"/>
<rect x="187.91" y="284.10" width="6.90" height="12.60" fill="#d9d9d9"/>
<rect x="195.75" y="284.10" width="6.90" height="12.60" fill="#d9d9d9"/>
<rect x="203.59" y="284.10" width="6.90" height="12.60" fill="#d9d9d9"/>
<rect x="211.43" y="284.10" width="6.90" height="12.60" fill="#d9d9d9"/>
<rect x="219.27" y="284.10" width="6.90" height="12.60" fill="#d9d9d9"/>
<rect x="227.11" y="284.10" width="6.90" height="12.60" fill="#d9d9d9"/>
<rect x="234.95" y="284.10" width="6.90" height="12.60" fill="#d9d9d9"/>
<rect x="242.79" y="284.10" width="6.90" height="12.60" fill="#d9d9d9"/>
<rect x="250.63" y="284.10" width="6.90" height="12.60" fill="#d9d9d9"/>
<rect x="258.47" y="284.10" width="6.90" height="12.60" fill="#d9d9d9"/>
<rect x="266.31" y="284.10" width="6.90" height="12.60" fill="#d9d9d9"/>
<rect x="274.15" y="284.10" width="6.90" height="12.60" fill="#d9d9d9"/>
<rect x="281.99" y="284.10" width="6.90" height="12.60" fill="#d9d9d9"/>
<rect x="289.83" y="284.10" width="6.90" height="12.60" fill="#d9d9d9"/>
<rect x="297.67" y="284.10" width="6.90" height="12.60" fill="#d9d9d9"/>
<rect x="305.51" y="284.10" width="6.90" height="12.60" fill="#d9d9d9"/>
<rect x="313.35" y="284.10" width="6.90" height="12.60" fill="#d9d9d9"/>
<rect x="321.19" y="284.10" width="6.90" height="12.60" fill="#d9d9d9"/>
<rect x="329.03" y="284.10" width="6.90" height="12.60" fill="#d9d9d9"/>
<rect x="336.87" y="284.10" width="6.90" height="12.60" fill="#d9d9d9"/>
<rect x="344.71" y="284.10" width="6.90" height="12.60" fill="#d9d9d9"/>
<rect x="352.55" y="284.10" width="6.90" height="12.60" fill="#d9d9d9"/>
<rect x="360.39" y="284.10" width="6.90" height="12.60" fill="#d9d9d9"/>
<rect x="368.23" y="284.10" width="6.90" height="12.60" fill="#d9d9d9"/>
<rect x="376.07" y="284.10" width="6.90" height="12.60" fill="#d9d9d9"/>
<rect x="383.91" y="284.10" width="6.90" height="12.60" fill="#d9d9d9"/>
<rect x="391.75" y="284.10" width="6.90" height="12.60" fill="#d9d9d9"/>
<rect x="399.59" y="284.10" width="6.90" height="12.60" fill="#d9d9d9"/>
<rect x="407.43" y="284.10" width="6.90" height="12.60" fill="#d9d9d9"/>
<rect x="415.27" y="284.10" width="6.90" height="12.60" fill="#d9d9d9"/>
<rect x="423.11" y="284.10" width="6.90" height="12.60" fill="#d9d9d9"/>
<rect x="430.95" y="284.10" width="6.90" height="12.60" fill="#d9d9d9"/>
<rect x="438.79" y="284.10" width="6.90" height="12.60" fill="#d9d9d9"/>
<rect x="446.63" y="284.10" width="6.90" height="12.60" fill="#d9d9d9"/>
<rect x="454.47" y="284.10" width="6.90" height="12.60" fill="#d9d9d9"/>
<rect x="462.31" y="284.10" width="6.90" height="12.60" fill="#d9d9d9"/>
<rect x="470.15" y="284.10" width="6.90" height="12.60" fill="#d9d9d9"/>
<rect x="477.99" y="284.10" width="6.90" height="12.60" fill="#d9d9d9"/>
<rect x="485.83" y="284.10" width="6.90" height="12.60" fill="#d9d9d9"/>
<rect x="493.67" y="284.10" width="6.90" height="12.60" fill="#d9d9d9"/>
<rect x="501.51" y="284.10" width="6.90" height="12.60" fill="#d9d9d9"/>
<rect x="509.35" y="284.10" width="6.90" height="12.60" fill="#d9d9d9"/>
<rect x="517.19" y="284.10" width="6.90" height="12.60" fill="#d9d9d9"/>
<rect x="525.03" y="284.10" width="6.90" height="12.60" fill="#d9d9d9"/>
<rect x="532.87" y="284.10" width="6.90" height="12.60" fill="#d9d9d9"/>
<rect x="540.71" y="284.10" width="6.90" height="12.60" fill="#d9d9d9"/>
<rect x="548.55" y="284.10" width="6.90" height="12.60" fill="#d9d9d9"/>
<rect x="556.39" y="284.10" width="6.90" height="12.60" fill="#d9d9d9"/>
<rect x="564.23" y="284.10" width="6.90" height="12.60" fill="#d9d9d9"/>
<rect x="572.07" y="284.10" width="6.90" height="12.60" fill="#d9d9d9"/>
<rect x="60.65" y="288.30" width="6.30" height="4.30" fill="#00cd00"/>
<rect x="68.51" y="288.30" width="6.30" height="4.30" fill="#00cd00"/>
<rect x="180.72" y="285.00" width="6.30" height="10.80" fill="#5151b0"/>
<rect x="188.56" y="285.00" width="6.30" height="10.80" fill="#5151b0"/>
<rect x="196.40" y="285.00" width="6.30" height="10.80" fill="#5151b0"/>
<rect x="219.92" y="285.00" width="6.30" height="10.80" fill="#5151b0"/>
<rect x="368.88" y="285.00" width="6.30" height="10.80" fill="#5151b0"/>
<rect x="392.40" y="285.00" width="6.30" height="10.80" fill="#5151b0"/>
<text x="56.00" y="293.55" font-size="8.30" text-anchor="end" fill="#000">MTMR10</text>
<rect x="583.70" y="284.00" width="19.50" height="13.20" fill="#fff" stroke="#d4d4d4" stroke-width="0.8"/>
<text x="592.90" y="293.60" font-size="8.30" text-anchor="middle" fill="#000">13%</text>
<rect x="603.80" y="284.00" width="19.50" height="13.20" fill="#fff" stroke="#d4d4d4" stroke-width="0.8"/>
<text x="613.00" y="293.60" font-size="8.30" text-anchor="middle" fill="#000">NA</text>
<rect x="623.90" y="284.00" width="19.50" height="13.20" fill="#fff" stroke="#d4d4d4" stroke-width="0.8"/>
<text x="633.10" y="293.60" font-size="8.30" text-anchor="middle" fill="#000">7%</text>
<text x="653.80" y="293.60" font-size="8.30" text-anchor="middle" fill="#000">10%</text>
<rect x="644.40" y="283.70" width="19.60" height="13.50" fill="none" stroke="#222" stroke-width="0.8"/>
<rect x="60.00" y="297.60" width="6.90" height="12.60" fill="#d9d9d9"/>
<rect x="67.86" y="297.60" width="6.90" height="12.60" fill="#d9d9d9"/>
<rect x="75.71" y="297.60" width="6.90" height="12.60" fill="#d9d9d9"/>
<rect x="83.57" y="297.60" width="6.90" height="12.60" fill="#d9d9d9"/>
<rect x="91.43" y="297.60" width="6.90" height="12.60" fill="#d9d9d9"/>
<rect x="99.28" y="297.60" width="6.90" height="12.60" fill="#d9d9d9"/>
<rect x="107.14" y="297.60" width="6.90" height="12.60" fill="#d9d9d9"/>
<rect x="115.00" y="297.60" width="6.90" height="12.60" fill="#d9d9d9"/>
<rect x="122.86" y="297.60" width="6.90" height="12.60" fill="#d9d9d9"/>
<rect x="130.71" y="297.60" width="6.90" height="12.60" fill="#d9d9d9"/>
<rect x="138.57" y="297.60" width="6.90" height="12.60" fill="#d9d9d9"/>
<rect x="146.43" y="297.60" width="6.90" height="12.60" fill="#d9d9d9"/>
<rect x="154.28" y="297.60" width="6.90" height="12.60" fill="#d9d9d9"/>
<rect x="162.14" y="297.60" width="6.90" height="12.60" fill="#d9d9d9"/>
<rect x="170.00" y="297.60" width="6.90" height="12.60" fill="#d9d9d9"/>
<rect x="180.07" y="297.60" width="6.90" height="12.60" fill="#d9d9d9"/>
<rect x="187.91" y="297.60" width="6.90" height="12.60" fill="#d9d9d9"/>
<rect x="195.75" y="297.60" width="6.90" height="12.60" fill="#d9d9d9"/>
<rect x="203.59" y="297.60" width="6.90" height="12.60" fill="#d9d9d9"/>
<rect x="211.43" y="297.60" width="6.90" height="12.60" fill="#d9d9d9"/>
<rect x="219.27" y="297.60" width="6.90" height="12.60" fill="#d9d9d9"/>
<rect x="227.11" y="297.60" width="6.90" height="12.60" fill="#d9d9d9"/>
<rect x="234.95" y="297.60" width="6.90" height="12.60" fill="#d9d9d9"/>
<rect x="242.79" y="297.60" width="6.90" height="12.60" fill="#d9d9d9"/>
<rect x="250.63" y="297.60" width="6.90" height="12.60" fill="#d9d9d9"/>
<rect x="258.47" y="297.60" width="6.90" height="12.60" fill="#d9d9d9"/>
<rect x="266.31" y="297.60" width="6.90" height="12.60" fill="#d9d9d9"/>
<rect x="274.15" y="297.60" width="6.90" height="12.60" fill="#d9d9d9"/>
<rect x="281.99" y="297.60" width="6.90" height="12.60" fill="#d9d9d9"/>
<rect x="289.83" y="297.60" width="6.90" height="12.60" fill="#d9d9d9"/>
<rect x="297.67" y="297.60" width="6.90" height="12.60" fill="#d9d9d9"/>
<rect x="305.51" y="297.60" width="6.90" height="12.60" fill="#d9d9d9"/>
<rect x="313.35" y="297.60" width="6.90" height="12.60" fill="#d9d9d9"/>
<rect x="321.19" y="297.60" width="6.90" height="12.60" fill="#d9d9d9"/>
<rect x="329.03" y="297.60" width="6.90" height="12.60" fill="#d9d9d9"/>
<rect x="336.87" y="297.60" width="6.90" height="12.60" fill="#d9d9d9"/>
<rect x="344.71" y="297.60" width="6.90" height="12.60" fill="#d9d9d9"/>
<rect x="352.55" y="297.60" width="6.90" height="12.60" fill="#d9d9d9"/>
<rect x="360.39" y="297.60" width="6.90" height="12.60" fill="#d9d9d9"/>
<rect x="368.23" y="297.60" width="6.90" height="12.60" fill="#d9d9d9"/>
<rect x="376.07" y="297.60" width="6.90" height="12.60" fill="#d9d9d9"/>
<rect x="383.91" y="297.60" width="6.90" height="12.60" fill="#d9d9d9"/>
<rect x="391.75" y="297.60" width="6.90" height="12.60" fill="#d9d9d9"/>
<rect x="399.59" y="297.60" width="6.90" height="12.60" fill="#d9d9d9"/>
<rect x="407.43" y="297.60" width="6.90" height="12.60" fill="#d9d9d9"/>
<rect x="415.27" y="297.60" width="6.90" height="12.60" fill="#d9d9d9"/>
<rect x="423.11" y="297.60" width="6.90" height="12.60" fill="#d9d9d9"/>
<rect x="430.95" y="297.60" width="6.90" height="12.60" fill="#d9d9d9"/>
<rect x="438.79" y="297.60" width="6.90" height="12.60" fill="#d9d9d9"/>
<rect x="446.63" y="297.60" width="6.90" height="12.60" fill="#d9d9d9"/>
<rect x="454.47" y="297.60" width="6.90" height="12.60" fill="#d9d9d9"/>
<rect x="462.31" y="297.60" width="6.90" height="12.60" fill="#d9d9d9"/>
<rect x="470.15" y="297.60" width="6.90" height="12.60" fill="#d9d9d9"/>
<rect x="477.99" y="297.60" width="6.90" height="12.60" fill="#d9d9d9"/>
<rect x="485.83" y="297.60" width="6.90" height="12.60" fill="#d9d9d9"/>
<rect x="493.67" y="297.60" width="6.90" height="12.60" fill="#d9d9d9"/>
<rect x="501.51" y="297.60" width="6.90" height="12.60" fill="#d9d9d9"/>
<rect x="509.35" y="297.60" width="6.90" height="12.60" fill="#d9d9d9"/>
<rect x="517.19" y="297.60" width="6.90" height="12.60" fill="#d9d9d9"/>
<rect x="525.03" y="297.60" width="6.90" height="12.60" fill="#d9d9d9"/>
<rect x="532.87" y="297.60" width="6.90" height="12.60" fill="#d9d9d9"/>
<rect x="540.71" y="297.60" width="6.90" height="12.60" fill="#d9d9d9"/>
<rect x="548.55" y="297.60" width="6.90" height="12.60" fill="#d9d9d9"/>
<rect x="556.39" y="297.60" width="6.90" height="12.60" fill="#d9d9d9"/>
<rect x="564.23" y="297.60" width="6.90" height="12.60" fill="#d9d9d9"/>
<rect x="572.07" y="297.60" width="6.90" height="12.60" fill="#d9d9d9"/>
<rect x="107.79" y="301.80" width="6.30" height="4.30" fill="#006800"/>
<rect x="139.22" y="298.50" width="6.30" height="10.80" fill="#a83838"/>
<rect x="154.93" y="301.80" width="6.30" height="4.30" fill="#00cd00"/>
<rect x="227.76" y="298.50" width="6.30" height="10.80" fill="#5151b0"/>
<rect x="282.64" y="298.50" width="6.30" height="10.80" fill="#5151b0"/>
<rect x="415.92" y="298.50" width="6.30" height="10.80" fill="#a83838"/>
<rect x="439.44" y="298.50" width="6.30" height="10.80" fill="#a83838"/>
<rect x="572.72" y="298.50" width="6.30" height="10.80" fill="#a83838"/>
<text x="56.00" y="307.05" font-size="8.30" text-anchor="end" fill="#000">RNF25</text>
<rect x="583.70" y="297.50" width="19.50" height="13.20" fill="#fff" stroke="#d4d4d4" stroke-width="0.8"/>
<text x="592.90" y="307.10" font-size="8.30" text-anchor="middle" fill="#000">13%</text>
<rect x="603.80" y="297.50" width="19.50" height="13.20" fill="#fff" stroke="#d4d4d4" stroke-width="0.8"/>
<text x="613.00" y="307.10" font-size="8.30" text-anchor="middle" fill="#000">NA</text>
<rect x="623.90" y="297.50" width="19.50" height="13.20" fill="#fff" stroke="#d4d4d4" stroke-width="0.8"/>
<text x="633.10" y="307.10" font-size="8.30" text-anchor="middle" fill="#000">7%</text>
<text x="653.80" y="307.10" font-size="8.30" text-anchor="middle" fill="#000">10%</text>
<rect x="644.40" y="297.20" width="19.60" height="13.50" fill="none" stroke="#222" stroke-width="0.8"/>
<rect x="60.00" y="311.10" width="6.90" height="12.60" fill="#d9d9d9"/>
<rect x="67.86" y="311.10" width="6.90" height="12.60" fill="#d9d9d9"/>
<rect x="75.71" y="311.10" width="6.90" height="12.60" fill="#d9d9d9"/>
<rect x="83.57" y="311.10" width="6.90" height="12.60" fill="#d9d9d9"/>
<rect x="91.43" y="311.10" width="6.90" height="12.60" fill="#d9d9d9"/>
<rect x="99.28" y="311.10" width="6.90" height="12.60" fill="#d9d9d9"/>
<rect x="107.14" y="311.10" width="6.90" height="12.60" fill="#d9d9d9"/>
<rect x="115.00" y="311.10" width="6.90" height="12.60" fill="#d9d9d9"/>
<rect x="122.86" y="311.10" width="6.90" height="12.60" fill="#d9d9d9"/>
<rect x="130.71" y="311.10" width="6.90" height="12.60" fill="#d9d9d9"/>
<rect x="138.57" y="311.10" width="6.90" height="12.60" fill="#d9d9d9"/>
<rect x="146.43" y="311.10" width="6.90" height="12.60" fill="#d9d9d9"/>
<rect x="154.28" y="311.10" width="6.90" height="12.60" fill="#d9d9d9"/>
<rect x="162.14" y="311.10" width="6.90" height="12.60" fill="#d9d9d9"/>
<rect x="170.00" y="311.10" width="6.90" height="12.60" fill="#d9d9d9"/>
<rect x="180.07" y="311.10" width="6.90" height="12.60" fill="#d9d9d9"/>
<rect x="187.91" y="311.10" width="6.90" height="12.60" fill="#d9d9d9"/>
<rect x="195.75" y="311.10" width="6.90" height="12.60" fill="#d9d9d9"/>
<rect x="203.59" y="311.10" width="6.90" height="12.60" fill="#d9d9d9"/>
<rect x="211.43" y="311.10" width="6.90" height="12.60" fill="#d9d9d9"/>
<rect x="219.27" y="311.10" width="6.90" height="12.60" fill="#d9d9d9"/>
<rect x="227.11" y="311.10" width="6.90" height="12.60" fill="#d9d9d9"/>
<rect x="234.95" y="311.10" width="6.90" height="12.60" fill="#d9d9d9"/>
<rect x="242.79" y="311.10" width="6.90" height="12.60" fill="#d9d9d9"/>
<rect x="250.63" y="311.10" width="6.90" height="12.60" fill="#d9d9d9"/>
<rect x="258.47" y="311.10" width="6.90" height="12.60" fill="#d9d9d9"/>
<rect x="266.31" y="311.10" width="6.90" height="12.60" fill="#d9d9d9"/>
<rect x="274.15" y="311.10" width="6.90" height="12.60" fill="#d9d9d9"/>
<rect x="281.99" y="311.10" width="6.90" height="12.60" fill="#d9d9d9"/>
<rect x="289.83" y="311.10" width="6.90" height="12.60" fill="#d9d9d9"/>
<rect x="297.67" y="311.10" width="6.90" height="12.60" fill="#d9d9d9"/>
<rect x="305.51" y="311.10" width="6.90" height="12.60" fill="#d9d9d9"/>
<rect x="313.35" y="311.10" width="6.90" height="12.60" fill="#d9d9d9"/>
<rect x="321.19" y="311.10" width="6.90" height="12.60" fill="#d9d9d9"/>
<rect x="329.03" y="311.10" width="6.90" height="12.60" fill="#d9d9d9"/>
<rect x="336.87" y="311.10" width="6.90" height="12.60" fill="#d9d9d9"/>
<rect x="344.71" y="311.10" width="6.90" height="12.60" fill="#d9d9d9"/>
<rect x="352.55" y="311.10" width="6.90" height="12.60" fill="#d9d9d9"/>
<rect x="360.39" y="311.10" width="6.90" height="12.60" fill="#d9d9d9"/>
<rect x="368.23" y="311.10" width="6.90" height="12.60" fill="#d9d9d9"/>
<rect x="376.07" y="311.10" width="6.90" height="12.60" fill="#d9d9d9"/>
<rect x="383.91" y="311.10" width="6.90" height="12.60" fill="#d9d9d9"/>
<rect x="391.75" y="311.10" width="6.90" height="12.60" fill="#d9d9d9"/>
<rect x="399.59" y="311.10" width="6.90" height="12.60" fill="#d9d9d9"/>
<rect x="407.43" y="311.10" width="6.90" height="12.60" fill="#d9d9d9"/>
<rect x="415.27" y="311.10" width="6.90" height="12.60" fill="#d9d9d9"/>
<rect x="423.11" y="311.10" width="6.90" height="12.60" fill="#d9d9d9"/>
<rect x="430.95" y="311.10" width="6.90" height="12.60" fill="#d9d9d9"/>
<rect x="438.79" y="311.10" width="6.90" height="12.60" fill="#d9d9d9"/>
<rect x="446.63" y="311.10" width="6.90" height="12.60" fill="#d9d9d9"/>
<rect x="454.47" y="311.10" width="6.90" height="12.60" fill="#d9d9d9"/>
<rect x="462.31" y="311.10" width="6.90" height="12.60" fill="#d9d9d9"/>
<rect x="470.15" y="311.10" width="6.90" height="12.60" fill="#d9d9d9"/>
<rect x="477.99" y="311.10" width="6.90" height="12.60" fill="#d9d9d9"/>
<rect x="485.83" y="311.10" width="6.90" height="12.60" fill="#d9d9d9"/>
<rect x="493.67" y="311.10" width="6.90" height="12.60" fill="#d9d9d9"/>
<rect x="501.51" y="311.10" width="6.90" height="12.60" fill="#d9d9d9"/>
<rect x="509.35" y="311.10" width="6.90" height="12.60" fill="#d9d9d9"/>
<rect x="517.19" y="311.10" width="6.90" height="12.60" fill="#d9d9d9"/>
<rect x="525.03" y="311.10" width="6.90" height="12.60" fill="#d9d9d9"/>
<rect x="532.87" y="311.10" width="6.90" height="12.60" fill="#d9d9d9"/>
<rect x="540.71" y="311.10" width="6.90" height="12.60" fill="#d9d9d9"/>
<rect x="548.55" y="311.10" width="6.90" height="12.60" fill="#d9d9d9"/>
<rect x="556.39" y="311.10" width="6.90" height="12.60" fill="#d9d9d9"/>
<rect x="564.23" y="311.10" width="6.90" height="12.60" fill="#d9d9d9"/>
<rect x="572.07" y="311.10" width="6.90" height="12.60" fill="#d9d9d9"/>
<rect x="60.65" y="315.30" width="6.30" height="4.30" fill="#00cd00"/>
<rect x="99.94" y="315.30" width="6.30" height="4.30" fill="#00aa00"/>
<rect x="123.51" y="315.30" width="6.30" height="4.30" fill="#00aa00"/>
<rect x="131.36" y="315.30" width="6.30" height="4.30" fill="#00cd00"/>
<rect x="139.22" y="312.00" width="6.30" height="10.80" fill="#5151b0"/>
<rect x="415.92" y="312.00" width="6.30" height="10.80" fill="#a83838"/>
<text x="56.00" y="320.55" font-size="8.30" text-anchor="end" fill="#000">CELSR2</text>
<rect x="583.70" y="311.00" width="19.50" height="13.20" fill="#fff" stroke="#d4d4d4" stroke-width="0.8"/>
<text x="592.90" y="320.60" font-size="8.30" text-anchor="middle" fill="#000">27%</text>
<rect x="603.80" y="311.00" width="19.50" height="13.20" fill="#fff" stroke="#d4d4d4" stroke-width="0.8"/>
<text x="613.00" y="320.60" font-size="8.30" text-anchor="middle" fill="#000">0%</text>
<rect x="623.90" y="311.00" width="19.50" height="13.20" fill="#fff" stroke="#d4d4d4" stroke-width="0.8"/>
<text x="633.10" y="320.60" font-size="8.30" text-anchor="middle" fill="#000">2%</text>
<text x="653.80" y="320.60" font-size="8.30" text-anchor="middle" fill="#000">7%</text>
<rect x="644.40" y="310.70" width="19.60" height="13.50" fill="none" stroke="#222" stroke-width="0.8"/>
<rect x="60.00" y="324.60" width="6.90" height="12.60" fill="#d9d9d9"/>
<rect x="67.86" y="324.60" width="6.90" height="12.60" fill="#d9d9d9"/>
<rect x="75.71" y="324.60" width="6.90" height="12.60" fill="#d9d9d9"/>
<rect x="83.57" y="324.60" width="6.90" height="12.60" fill="#d9d9d9"/>
<rect x="91.43" y="324.60" width="6.90" height="12.60" fill="#d9d9d9"/>
<rect x="99.28" y="324.60" width="6.90" height="12.60" fill="#d9d9d9"/>
<rect x="107.14" y="324.60" width="6.90" height="12.60" fill="#d9d9d9"/>
<rect x="115.00" y="324.60" width="6.90" height="12.60" fill="#d9d9d9"/>
<rect x="122.86" y="324.60" width="6.90" height="12.60" fill="#d9d9d9"/>
<rect x="130.71" y="324.60" width="6.90" height="12.60" fill="#d9d9d9"/>
<rect x="138.57" y="324.60" width="6.90" height="12.60" fill="#d9d9d9"/>
<rect x="146.43" y="324.60" width="6.90" height="12.60" fill="#d9d9d9"/>
<rect x="154.28" y="324.60" width="6.90" height="12.60" fill="#d9d9d9"/>
<rect x="162.14" y="324.60" width="6.90" height="12.60" fill="#d9d9d9"/>
<rect x="170.00" y="324.60" width="6.90" height="12.60" fill="#d9d9d9"/>
<rect x="180.07" y="324.60" width="6.90" height="12.60" fill="#d9d9d9"/>
<rect x="187.91" y="324.60" width="6.90" height="12.60" fill="#d9d9d9"/>
<rect x="195.75" y="324.60" width="6.90" height="12.60" fill="#d9d9d9"/>
<rect x="203.59" y="324.60" width="6.90" height="12.60" fill="#d9d9d9"/>
<rect x="211.43" y="324.60" width="6.90" height="12.60" fill="#d9d9d9"/>
<rect x="219.27" y="324.60" width="6.90" height="12.60" fill="#d9d9d9"/>
<rect x="227.11" y="324.60" width="6.90" height="12.60" fill="#d9d9d9"/>
<rect x="234.95" y="324.60" width="6.90" height="12.60" fill="#d9d9d9"/>
<rect x="242.79" y="324.60" width="6.90" height="12.60" fill="#d9d9d9"/>
<rect x="250.63" y="324.60" width="6.90" height="12.60" fill="#d9d9d9"/>
<rect x="258.47" y="324.60" width="6.90" height="12.60" fill="#d9d9d9"/>
<rect x="266.31" y="324.60" width="6.90" height="12.60" fill="#d9d9d9"/>
<rect x="274.15" y="324.60" width="6.90" height="12.60" fill="#d9d9d9"/>
<rect x="281.99" y="324.60" width="6.90" height="12.60" fill="#d9d9d9"/>
<rect x="289.83" y="324.60" width="6.90" height="12.60" fill="#d9d9d9"/>
<rect x="297.67" y="324.60" width="6.90" height="12.60" fill="#d9d9d9"/>
<rect x="305.51" y="324.60" width="6.90" height="12.60" fill="#d9d9d9"/>
<rect x="313.35" y="324.60" width="6.90" height="12.60" fill="#d9d9d9"/>
<rect x="321.19" y="324.60" width="6.90" height="12.60" fill="#d9d9d9"/>
<rect x="329.03" y="324.60" width="6.90" height="12.60" fill="#d9d9d9"/>
<rect x="336.87" y="324.60" width="6.90" height="12.60" fill="#d9d9d9"/>
<rect x="344.71" y="324.60" width="6.90" height="12.60" fill="#d9d9d9"/>
<rect x="352.55" y="324.60" width="6.90" height="12.60" fill="#d9d9d9"/>
<rect x="360.39" y="324.60" width="6.90" height="12.60" fill="#d9d9d9"/>
<rect x="368.23" y="324.60" width="6.90" height="12.60" fill="#d9d9d9"/>
<rect x="376.07" y="324.60" width="6.90" height="12.60" fill="#d9d9d9"/>
<rect x="383.91" y="324.60" width="6.90" height="12.60" fill="#d9d9d9"/>
<rect x="391.75" y="324.60" width="6.90" height="12.60" fill="#d9d9d9"/>
<rect x="399.59" y="324.60" width="6.90" height="12.60" fill="#d9d9d9"/>
<rect x="407.43" y="324.60" width="6.90" height="12.60" fill="#d9d9d9"/>
<rect x="415.27" y="324.60" width="6.90" height="12.60" fill="#d9d9d9"/>
<rect x="423.11" y="324.60" width="6.90" height="12.60" fill="#d9d9d9"/>
<rect x="430.95" y="324.60" width="6.90" height="12.60" fill="#d9d9d9"/>
<rect x="438.79" y="324.60" width="6.90" height="12.60" fill="#d9d9d9"/>
<rect x="446.63" y="324.60" width="6.90" height="12.60" fill="#d9d9d9"/>
<rect x="454.47" y="324.60" width="6.90" height="12.60" fill="#d9d9d9"/>
<rect x="462.31" y="324.60" width="6.90" height="12.60" fill="#d9d9d9"/>
<rect x="470.15" y="324.60" width="6.90" height="12.60" fill="#d9d9d9"/>
<rect x="477.99" y="324.60" width="6.90" height="12.60" fill="#d9d9d9"/>
<rect x="485.83" y="324.60" width="6.90" height="12.60" fill="#d9d9d9"/>
<rect x="493.67" y="324.60" width="6.90" height="12.60" fill="#d9d9d9"/>
<rect x="501.51" y="324.60" width="6.90" height="12.60" fill="#d9d9d9"/>
<rect x="509.35" y="324.60" width="6.90" height="12.60" fill="#d9d9d9"/>
<rect x="517.19" y="324.60" width="6.90" height="12.60" fill="#d9d9d9"/>
<rect x="525.03" y="324.60" width="6.90" height="12.60" fill="#d9d9d9"/>
<rect x="532.87" y="324.60" width="6.90" height="12.60" fill="#d9d9d9"/>
<rect x="540.71" y="324.60" width="6.90" height="12.60" fill="#d9d9d9"/>
<rect x="548.55" y="324.60" width="6.90" height="12.60" fill="#d9d9d9"/>
<rect x="556.39" y="324.60" width="6.90" height="12.60" fill="#d9d9d9"/>
<rect x="564.23" y="324.60" width="6.90" height="12.60" fill="#d9d9d9"/>
<rect x="572.07" y="324.60" width="6.90" height="12.60" fill="#d9d9d9"/>
<rect x="76.36" y="328.80" width="6.30" height="4.30" fill="#008400"/>
<rect x="107.79" y="328.80" width="6.30" height="4.30" fill="#003000"/>
<rect x="180.72" y="325.50" width="6.30" height="10.80" fill="#5151b0"/>
<text x="56.00" y="334.05" font-size="8.30" text-anchor="end" fill="#000">LAMA1</text>
<rect x="583.70" y="324.50" width="19.50" height="13.20" fill="#fff" stroke="#d4d4d4" stroke-width="0.8"/>
<text x="592.90" y="334.10" font-size="8.30" text-anchor="middle" fill="#000">13%</text>
<rect x="603.80" y="324.50" width="19.50" height="13.20" fill="#fff" stroke="#d4d4d4" stroke-width="0.8"/>
<text x="613.00" y="334.10" font-size="8.30" text-anchor="middle" fill="#000">NA</text>
<rect x="623.90" y="324.50" width="19.50" height="13.20" fill="#fff" stroke="#d4d4d4" stroke-width="0.8"/>
<text x="633.10" y="334.10" font-size="8.30" text-anchor="middle" fill="#000">1%</text>
<text x="653.80" y="334.10" font-size="8.30" text-anchor="middle" fill="#000">4%</text>
<rect x="644.40" y="324.20" width="19.60" height="13.50" fill="none" stroke="#222" stroke-width="0.8"/>
<text transform="translate(591.80,48.50) rotate(-45)" font-size="8.5" fill="#000">WES</text>
<text transform="translate(611.90,48.50) rotate(-45)" font-size="8.5" fill="#000">Custom Capture</text>
<text transform="translate(632.80,48.50) rotate(-45)" font-size="8.5" fill="#000">Copy Number</text>
<text transform="translate(654.00,48.50) rotate(-45)" font-size="8.5" fill="#000">Combined</text>
<text x="-0.2" y="57.1" font-size="14.6" font-weight="bold" fill="#000">a</text>
<text transform="translate(7.0,100.3) rotate(-90)" font-size="8.65" text-anchor="middle" fill="#000">Known drivers</text>
<text transform="translate(7.0,250) rotate(-90)" font-size="8.65" text-anchor="middle" fill="#000">Novel candidates</text>
<rect x="60.00" y="339.80" width="117.40" height="11.70" fill="#566b4f"/>
<rect x="180.07" y="339.80" width="399.53" height="11.70" fill="#22e389"/>
<rect x="60.00" y="353.65" width="117.40" height="11.70" fill="#3b0a17"/>
<rect x="180.07" y="353.65" width="7.64" height="11.70" fill="#3b0a17"/>
<rect x="187.46" y="353.65" width="39.45" height="11.70" fill="#bfa5a4"/>
<rect x="226.66" y="353.65" width="8.09" height="11.70" fill="#3b0a17"/>
<rect x="234.50" y="353.65" width="8.09" height="11.70" fill="#bfa5a4"/>
<rect x="242.34" y="353.65" width="15.93" height="11.70" fill="#ebb76b"/>
<rect x="258.02" y="353.65" width="8.09" height="11.70" fill="#3b0a17"/>
<rect x="265.86" y="353.65" width="31.61" height="11.70" fill="#bfa5a4"/>
<rect x="297.22" y="353.65" width="23.77" height="11.70" fill="#ebb76b"/>
<rect x="320.74" y="353.65" width="8.09" height="11.70" fill="#3b0a17"/>
<rect x="328.58" y="353.65" width="8.09" height="11.70" fill="#ebb76b"/>
<rect x="336.42" y="353.65" width="23.77" height="11.70" fill="#3b0a17"/>
<rect x="359.94" y="353.65" width="47.29" height="11.70" fill="#bfa5a4"/>
<rect x="406.98" y="353.65" width="8.09" height="11.70" fill="#ebb76b"/>
<rect x="414.82" y="353.65" width="8.09" height="11.70" fill="#bfa5a4"/>
<rect x="422.66" y="353.65" width="8.09" height="11.70" fill="#ebb76b"/>
<rect x="430.50" y="353.65" width="8.09" height="11.70" fill="#3b0a17"/>
<rect x="438.34" y="353.65" width="8.09" height="11.70" fill="#bfa5a4"/>
<rect x="446.18" y="353.65" width="8.09" height="11.70" fill="#3b0a17"/>
<rect x="454.02" y="353.65" width="15.93" height="11.70" fill="#bfa5a4"/>
<rect x="469.70" y="353.65" width="8.09" height="11.70" fill="#3b0a17"/>
<rect x="477.54" y="353.65" width="8.09" height="11.70" fill="#ebb76b"/>
<rect x="485.38" y="353.65" width="8.09" height="11.70" fill="#bfa5a4"/>
<rect x="493.22" y="353.65" width="8.09" height="11.70" fill="#ebb76b"/>
<rect x="501.06" y="353.65" width="23.77" height="11.70" fill="#bfa5a4"/>
<rect x="524.58" y="353.65" width="8.09" height="11.70" fill="#3b0a17"/>
<rect x="532.42" y="353.65" width="15.93" height="11.70" fill="#bfa5a4"/>
<rect x="548.10" y="353.65" width="8.09" height="11.70" fill="#3b0a17"/>
<rect x="555.94" y="353.65" width="23.66" height="11.70" fill="#bfa5a4"/>
<rect x="60.00" y="367.50" width="54.80" height="11.70" fill="#55998f"/>
<rect x="114.55" y="367.50" width="8.11" height="11.70" fill="#9c6556"/>
<rect x="122.41" y="367.50" width="8.11" height="11.70" fill="#55998f"/>
<rect x="130.26" y="367.50" width="8.11" height="11.70" fill="#9c6556"/>
<rect x="138.12" y="367.50" width="8.11" height="11.70" fill="#55998f"/>
<rect x="145.98" y="367.50" width="8.11" height="11.70" fill="#9c6556"/>
<rect x="153.83" y="367.50" width="15.96" height="11.70" fill="#55998f"/>
<rect x="169.55" y="367.50" width="7.85" height="11.70" fill="#9c6556"/>
<rect x="180.07" y="367.50" width="7.64" height="11.70" fill="#55998f"/>
<rect x="187.46" y="367.50" width="15.93" height="11.70" fill="#9c6556"/>
<rect x="203.14" y="367.50" width="39.45" height="11.70" fill="#55998f"/>
<rect x="242.34" y="367.50" width="8.09" height="11.70" fill="#9c6556"/>
<rect x="250.18" y="367.50" width="8.09" height="11.70" fill="#55998f"/>
<rect x="258.02" y="367.50" width="8.09" height="11.70" fill="#9c6556"/>
<rect x="265.86" y="367.50" width="23.77" height="11.70" fill="#55998f"/>
<rect x="289.38" y="367.50" width="15.93" height="11.70" fill="#9c6556"/>
<rect x="305.06" y="367.50" width="62.97" height="11.70" fill="#55998f"/>
<rect x="367.78" y="367.50" width="8.09" height="11.70" fill="#9c6556"/>
<rect x="375.62" y="367.50" width="31.61" height="11.70" fill="#55998f"/>
<rect x="406.98" y="367.50" width="23.77" height="11.70" fill="#9c6556"/>
<rect x="430.50" y="367.50" width="31.61" height="11.70" fill="#55998f"/>
<rect x="461.86" y="367.50" width="8.09" height="11.70" fill="#9c6556"/>
<rect x="469.70" y="367.50" width="8.09" height="11.70" fill="#55998f"/>
<rect x="477.54" y="367.50" width="8.09" height="11.70" fill="#9c6556"/>
<rect x="485.38" y="367.50" width="15.93" height="11.70" fill="#55998f"/>
<rect x="501.06" y="367.50" width="8.09" height="11.70" fill="#9c6556"/>
<rect x="508.90" y="367.50" width="8.09" height="11.70" fill="#55998f"/>
<rect x="516.74" y="367.50" width="8.09" height="11.70" fill="#9c6556"/>
<rect x="524.58" y="367.50" width="8.09" height="11.70" fill="#55998f"/>
<rect x="532.42" y="367.50" width="8.09" height="11.70" fill="#9c6556"/>
<rect x="540.26" y="367.50" width="8.09" height="11.70" fill="#55998f"/>
<rect x="548.10" y="367.50" width="8.09" height="11.70" fill="#9c6556"/>
<rect x="555.94" y="367.50" width="15.93" height="11.70" fill="#55998f"/>
<rect x="571.62" y="367.50" width="7.98" height="11.70" fill="#9c6556"/>
<rect x="60.00" y="381.35" width="39.08" height="11.70" fill="#9b6ba1"/>
<rect x="98.83" y="381.35" width="8.11" height="11.70" fill="#9b9b69"/>
<rect x="106.69" y="381.35" width="31.68" height="11.70" fill="#9b6ba1"/>
<rect x="138.12" y="381.35" width="15.96" height="11.70" fill="#9b9b69"/>
<rect x="153.83" y="381.35" width="15.96" height="11.70" fill="#9b6ba1"/>
<rect x="169.55" y="381.35" width="7.85" height="11.70" fill="#9b9b69"/>
<rect x="180.07" y="381.35" width="7.64" height="11.70" fill="#9b6ba1"/>
<rect x="187.46" y="381.35" width="70.81" height="11.70" fill="#9b9b69"/>
<rect x="258.02" y="381.35" width="8.09" height="11.70" fill="#9b6ba1"/>
<rect x="265.86" y="381.35" width="39.45" height="11.70" fill="#9b9b69"/>
<rect x="305.06" y="381.35" width="8.09" height="11.70" fill="#c9c9c9"/>
<rect x="312.90" y="381.35" width="8.09" height="11.70" fill="#9b9b69"/>
<rect x="320.74" y="381.35" width="8.09" height="11.70" fill="#9b6ba1"/>
<rect x="328.58" y="381.35" width="15.93" height="11.70" fill="#9b9b69"/>
<rect x="344.26" y="381.35" width="15.93" height="11.70" fill="#9b6ba1"/>
<rect x="359.94" y="381.35" width="55.13" height="11.70" fill="#9b9b69"/>
<rect x="414.82" y="381.35" width="8.09" height="11.70" fill="#9b6ba1"/>
<rect x="422.66" y="381.35" width="23.77" height="11.70" fill="#9b9b69"/>
<rect x="446.18" y="381.35" width="8.09" height="11.70" fill="#9b6ba1"/>
<rect x="454.02" y="381.35" width="94.33" height="11.70" fill="#9b9b69"/>
<rect x="548.10" y="381.35" width="8.09" height="11.70" fill="#9b6ba1"/>
<rect x="555.94" y="381.35" width="23.66" height="11.70" fill="#9b9b69"/>
<rect x="60.00" y="395.20" width="15.51" height="11.70" fill="#efefef"/>
<rect x="75.26" y="395.20" width="8.11" height="11.70" fill="#cccccc"/>
<rect x="83.12" y="395.20" width="8.11" height="11.70" fill="#333333"/>
<rect x="90.98" y="395.20" width="8.11" height="11.70" fill="#cccccc"/>
<rect x="98.83" y="395.20" width="8.11" height="11.70" fill="#efefef"/>
<rect x="106.69" y="395.20" width="8.11" height="11.70" fill="#666666"/>
<rect x="114.55" y="395.20" width="15.96" height="11.70" fill="#333333"/>
<rect x="130.26" y="395.20" width="8.11" height="11.70" fill="#cccccc"/>
<rect x="138.12" y="395.20" width="8.11" height="11.70" fill="#333333"/>
<rect x="145.98" y="395.20" width="8.11" height="11.70" fill="#efefef"/>
<rect x="153.83" y="395.20" width="8.11" height="11.70" fill="#999999"/>
<rect x="161.69" y="395.20" width="8.11" height="11.70" fill="#cccccc"/>
<rect x="169.55" y="395.20" width="7.85" height="11.70" fill="#efefef"/>
<rect x="180.07" y="395.20" width="7.64" height="11.70" fill="#cccccc"/>
<rect x="187.46" y="395.20" width="8.09" height="11.70" fill="#efefef"/>
<rect x="195.30" y="395.20" width="15.93" height="11.70" fill="#cccccc"/>
<rect x="210.98" y="395.20" width="8.09" height="11.70" fill="#000000"/>
<rect x="218.82" y="395.20" width="8.09" height="11.70" fill="#efefef"/>
<rect x="226.66" y="395.20" width="8.09" height="11.70" fill="#999999"/>
<rect x="234.50" y="395.20" width="8.09" height="11.70" fill="#cccccc"/>
<rect x="242.34" y="395.20" width="8.09" height="11.70" fill="#efefef"/>
<rect x="250.18" y="395.20" width="8.09" height="11.70" fill="#000000"/>
<rect x="258.02" y="395.20" width="8.09" height="11.70" fill="#333333"/>
<rect x="265.86" y="395.20" width="15.93" height="11.70" fill="#cccccc"/>
<rect x="281.54" y="395.20" width="8.09" height="11.70" fill="#999999"/>
<rect x="289.38" y="395.20" width="8.09" height="11.70" fill="#efefef"/>
<rect x="297.22" y="395.20" width="8.09" height="11.70" fill="#cccccc"/>
<rect x="305.06" y="395.20" width="8.09" height="11.70" fill="#999999"/>
<rect x="312.90" y="395.20" width="8.09" height="11.70" fill="#666666"/>
<rect x="320.74" y="395.20" width="15.93" height="11.70" fill="#efefef"/>
<rect x="336.42" y="395.20" width="8.09" height="11.70" fill="#bdbdbd"/>
<rect x="344.26" y="395.20" width="8.09" height="11.70" fill="#cccccc"/>
<rect x="352.10" y="395.20" width="8.09" height="11.70" fill="#666666"/>
<rect x="359.94" y="395.20" width="15.93" height="11.70" fill="#cccccc"/>
<rect x="375.62" y="395.20" width="8.09" height="11.70" fill="#999999"/>
<rect x="383.46" y="395.20" width="8.09" height="11.70" fill="#cccccc"/>
<rect x="391.30" y="395.20" width="8.09" height="11.70" fill="#efefef"/>
<rect x="399.14" y="395.20" width="8.09" height="11.70" fill="#cccccc"/>
<rect x="406.98" y="395.20" width="8.09" height="11.70" fill="#999999"/>
<rect x="414.82" y="395.20" width="23.77" height="11.70" fill="#efefef"/>
<rect x="438.34" y="395.20" width="8.09" height="11.70" fill="#cccccc"/>
<rect x="446.18" y="395.20" width="8.09" height="11.70" fill="#999999"/>
<rect x="454.02" y="395.20" width="15.93" height="11.70" fill="#efefef"/>
<rect x="469.70" y="395.20" width="8.09" height="11.70" fill="#666666"/>
<rect x="477.54" y="395.20" width="15.93" height="11.70" fill="#efefef"/>
<rect x="493.22" y="395.20" width="15.93" height="11.70" fill="#333333"/>
<rect x="508.90" y="395.20" width="15.93" height="11.70" fill="#999999"/>
<rect x="524.58" y="395.20" width="8.09" height="11.70" fill="#333333"/>
<rect x="532.42" y="395.20" width="8.09" height="11.70" fill="#999999"/>
<rect x="540.26" y="395.20" width="15.93" height="11.70" fill="#efefef"/>
<rect x="555.94" y="395.20" width="8.09" height="11.70" fill="#999999"/>
<rect x="563.78" y="395.20" width="8.09" height="11.70" fill="#cccccc"/>
<rect x="571.62" y="395.20" width="7.98" height="11.70" fill="#333333"/>
<rect x="60.00" y="409.05" width="7.66" height="11.70" fill="#75b66f"/>
<rect x="67.41" y="409.05" width="8.11" height="11.70" fill="#e3f0e2"/>
<rect x="75.26" y="409.05" width="8.11" height="11.70" fill="#64ae5d"/>
<rect x="83.12" y="409.05" width="8.11" height="11.70" fill="#acd4a8"/>
<rect x="90.98" y="409.05" width="15.96" height="11.70" fill="#85bf80"/>
<rect x="106.69" y="409.05" width="8.11" height="11.70" fill="#54a54c"/>
<rect x="114.55" y="409.05" width="23.82" height="11.70" fill="#85bf80"/>
<rect x="138.12" y="409.05" width="8.11" height="11.70" fill="#9ccb97"/>
<rect x="145.98" y="409.05" width="8.11" height="11.70" fill="#54a54c"/>
<rect x="153.83" y="409.05" width="8.11" height="11.70" fill="#acd4a8"/>
<rect x="161.69" y="409.05" width="8.11" height="11.70" fill="#85bf80"/>
<rect x="169.55" y="409.05" width="7.85" height="11.70" fill="#acd4a8"/>
<rect x="180.07" y="409.05" width="7.64" height="11.70" fill="#3e9a35"/>
<rect x="187.46" y="409.05" width="8.09" height="11.70" fill="#e3f0e2"/>
<rect x="195.30" y="409.05" width="8.09" height="11.70" fill="#90c58c"/>
<rect x="203.14" y="409.05" width="8.09" height="11.70" fill="#80bc7a"/>
<rect x="210.98" y="409.05" width="8.09" height="11.70" fill="#90c58c"/>
<rect x="218.82" y="409.05" width="8.09" height="11.70" fill="#64ae5d"/>
<rect x="226.66" y="409.05" width="15.93" height="11.70" fill="#75b66f"/>
<rect x="242.34" y="409.05" width="15.93" height="11.70" fill="#6fb469"/>
<rect x="258.02" y="409.05" width="8.09" height="11.70" fill="#a1ce9d"/>
<rect x="265.86" y="409.05" width="8.09" height="11.70" fill="#a7d1a3"/>
<rect x="273.70" y="409.05" width="8.09" height="11.70" fill="#acd4a8"/>
<rect x="281.54" y="409.05" width="8.09" height="11.70" fill="#b2d6ae"/>
<rect x="289.38" y="409.05" width="15.93" height="11.70" fill="#80bc7a"/>
<rect x="305.06" y="409.05" width="8.09" height="11.70" fill="#228b18"/>
<rect x="312.90" y="409.05" width="8.09" height="11.70" fill="#9ccb97"/>
<rect x="320.74" y="409.05" width="8.09" height="11.70" fill="#64ae5d"/>
<rect x="328.58" y="409.05" width="8.09" height="11.70" fill="#59a852"/>
<rect x="336.42" y="409.05" width="8.09" height="11.70" fill="#c2dfbf"/>
<rect x="344.26" y="409.05" width="8.09" height="11.70" fill="#80bc7a"/>
<rect x="352.10" y="409.05" width="15.93" height="11.70" fill="#a1ce9d"/>
<rect x="367.78" y="409.05" width="15.93" height="11.70" fill="#9ccb97"/>
<rect x="383.46" y="409.05" width="8.09" height="11.70" fill="#8bc286"/>
<rect x="391.30" y="409.05" width="8.09" height="11.70" fill="#9ccb97"/>
<rect x="399.14" y="409.05" width="8.09" height="11.70" fill="#e3f0e2"/>
<rect x="406.98" y="409.05" width="8.09" height="11.70" fill="#64ae5d"/>
<rect x="414.82" y="409.05" width="8.09" height="11.70" fill="#ffffff"/>
<rect x="422.66" y="409.05" width="8.09" height="11.70" fill="#85bf80"/>
<rect x="430.50" y="409.05" width="8.09" height="11.70" fill="#64ae5d"/>
<rect x="438.34" y="409.05" width="8.09" height="11.70" fill="#85bf80"/>
<rect x="446.18" y="409.05" width="8.09" height="11.70" fill="#6ab163"/>
<rect x="454.02" y="409.05" width="8.09" height="11.70" fill="#8bc286"/>
<rect x="461.86" y="409.05" width="8.09" height="11.70" fill="#7ab974"/>
<rect x="469.70" y="409.05" width="8.09" height="11.70" fill="#5fab58"/>
<rect x="477.54" y="409.05" width="8.09" height="11.70" fill="#59a852"/>
<rect x="485.38" y="409.05" width="8.09" height="11.70" fill="#9ccb97"/>
<rect x="493.22" y="409.05" width="8.09" height="11.70" fill="#90c58c"/>
<rect x="501.06" y="409.05" width="8.09" height="11.70" fill="#eef6ee"/>
<rect x="508.90" y="409.05" width="8.09" height="11.70" fill="#c8e2c5"/>
<rect x="516.74" y="409.05" width="8.09" height="11.70" fill="#a7d1a3"/>
<rect x="524.58" y="409.05" width="8.09" height="11.70" fill="#d3e8d1"/>
<rect x="532.42" y="409.05" width="8.09" height="11.70" fill="#a7d1a3"/>
<rect x="540.26" y="409.05" width="8.09" height="11.70" fill="#d8ebd7"/>
<rect x="548.10" y="409.05" width="8.09" height="11.70" fill="#439c3b"/>
<rect x="555.94" y="409.05" width="8.09" height="11.70" fill="#75b66f"/>
<rect x="563.78" y="409.05" width="15.82" height="11.70" fill="#acd4a8"/>
<text transform="translate(66.05,424.70) rotate(-90)" font-size="8.5" text-anchor="end" fill="#000">85050019</text>
<text transform="translate(73.91,424.70) rotate(-90)" font-size="8.5" text-anchor="end" fill="#000">85050177</text>
<text transform="translate(81.76,424.70) rotate(-90)" font-size="8.5" text-anchor="end" fill="#000">85050222</text>
<text transform="translate(89.62,424.70) rotate(-90)" font-size="8.5" text-anchor="end" fill="#000">85070159</text>
<text transform="translate(97.48,424.70) rotate(-90)" font-size="8.5" text-anchor="end" fill="#000">85060139</text>
<text transform="translate(105.33,424.70) rotate(-90)" font-size="8.5" text-anchor="end" fill="#000">85060342</text>
<text transform="translate(113.19,424.70) rotate(-90)" font-size="8.5" text-anchor="end" fill="#000">85050011</text>
<text transform="translate(121.05,424.70) rotate(-90)" font-size="8.5" text-anchor="end" fill="#000">85070021</text>
<text transform="translate(128.91,424.70) rotate(-90)" font-size="8.5" text-anchor="end" fill="#000">85040004</text>
<text transform="translate(136.76,424.70) rotate(-90)" font-size="8.5" text-anchor="end" fill="#000">85050022</text>
<text transform="translate(144.62,424.70) rotate(-90)" font-size="8.5" text-anchor="end" fill="#000">85070109</text>
<text transform="translate(152.48,424.70) rotate(-90)" font-size="8.5" text-anchor="end" fill="#000">85070061</text>
<text transform="translate(160.33,424.70) rotate(-90)" font-size="8.5" text-anchor="end" fill="#000">85050212</text>
<text transform="translate(168.19,424.70) rotate(-90)" font-size="8.5" text-anchor="end" fill="#000">85040049</text>
<text transform="translate(176.05,424.70) rotate(-90)" font-size="8.5" text-anchor="end" fill="#000">3035</text>
<text transform="translate(186.12,424.70) rotate(-90)" font-size="8.5" text-anchor="end" fill="#000">85050172</text>
<text transform="translate(193.96,424.70) rotate(-90)" font-size="8.5" text-anchor="end" fill="#000">85040001</text>
<text transform="translate(201.80,424.70) rotate(-90)" font-size="8.5" text-anchor="end" fill="#000">85070081</text>
<text transform="translate(209.64,424.70) rotate(-90)" font-size="8.5" text-anchor="end" fill="#000">85060221</text>
<text transform="translate(217.48,424.70) rotate(-90)" font-size="8.5" text-anchor="end" fill="#000">85050070</text>
<text transform="translate(225.32,424.70) rotate(-90)" font-size="8.5" text-anchor="end" fill="#000">85060241</text>
<text transform="translate(233.16,424.70) rotate(-90)" font-size="8.5" text-anchor="end" fill="#000">3031</text>
<text transform="translate(241.00,424.70) rotate(-90)" font-size="8.5" text-anchor="end" fill="#000">85070097</text>
<text transform="translate(248.84,424.70) rotate(-90)" font-size="8.5" text-anchor="end" fill="#000">85040031</text>
<text transform="translate(256.68,424.70) rotate(-90)" font-size="8.5" text-anchor="end" fill="#000">85050167</text>
<text transform="translate(264.52,424.70) rotate(-90)" font-size="8.5" text-anchor="end" fill="#000">85050037</text>
<text transform="translate(272.36,424.70) rotate(-90)" font-size="8.5" text-anchor="end" fill="#000">85050192</text>
<text transform="translate(280.20,424.70) rotate(-90)" font-size="8.5" text-anchor="end" fill="#000">85050235</text>
<text transform="translate(288.04,424.70) rotate(-90)" font-size="8.5" text-anchor="end" fill="#000">3003</text>
<text transform="translate(295.88,424.70) rotate(-90)" font-size="8.5" text-anchor="end" fill="#000">3022</text>
<text transform="translate(303.72,424.70) rotate(-90)" font-size="8.5" text-anchor="end" fill="#000">85070053</text>
<text transform="translate(311.56,424.70) rotate(-90)" font-size="8.5" text-anchor="end" fill="#000">85050207</text>
<text transform="translate(319.40,424.70) rotate(-90)" font-size="8.5" text-anchor="end" fill="#000">85070049</text>
<text transform="translate(327.24,424.70) rotate(-90)" font-size="8.5" text-anchor="end" fill="#000">85050241</text>
<text transform="translate(335.08,424.70) rotate(-90)" font-size="8.5" text-anchor="end" fill="#000">85050031</text>
<text transform="translate(342.92,424.70) rotate(-90)" font-size="8.5" text-anchor="end" fill="#000">3033</text>
<text transform="translate(350.76,424.70) rotate(-90)" font-size="8.5" text-anchor="end" fill="#000">85050147</text>
<text transform="translate(358.60,424.70) rotate(-90)" font-size="8.5" text-anchor="end" fill="#000">3036</text>
<text transform="translate(366.44,424.70) rotate(-90)" font-size="8.5" text-anchor="end" fill="#000">85070017</text>
<text transform="translate(374.28,424.70) rotate(-90)" font-size="8.5" text-anchor="end" fill="#000">3021</text>
<text transform="translate(382.12,424.70) rotate(-90)" font-size="8.5" text-anchor="end" fill="#000">85060013</text>
<text transform="translate(389.96,424.70) rotate(-90)" font-size="8.5" text-anchor="end" fill="#000">85060098</text>
<text transform="translate(397.80,424.70) rotate(-90)" font-size="8.5" text-anchor="end" fill="#000">85060206</text>
<text transform="translate(405.64,424.70) rotate(-90)" font-size="8.5" text-anchor="end" fill="#000">85060186</text>
<text transform="translate(413.48,424.70) rotate(-90)" font-size="8.5" text-anchor="end" fill="#000">85050140</text>
<text transform="translate(421.32,424.70) rotate(-90)" font-size="8.5" text-anchor="end" fill="#000">85060108</text>
<text transform="translate(429.16,424.70) rotate(-90)" font-size="8.5" text-anchor="end" fill="#000">85060251</text>
<text transform="translate(437.00,424.70) rotate(-90)" font-size="8.5" text-anchor="end" fill="#000">85060311</text>
<text transform="translate(444.84,424.70) rotate(-90)" font-size="8.5" text-anchor="end" fill="#000">3014</text>
<text transform="translate(452.68,424.70) rotate(-90)" font-size="8.5" text-anchor="end" fill="#000">85050110</text>
<text transform="translate(460.52,424.70) rotate(-90)" font-size="8.5" text-anchor="end" fill="#000">85060358</text>
<text transform="translate(468.36,424.70) rotate(-90)" font-size="8.5" text-anchor="end" fill="#000">3023</text>
<text transform="translate(476.20,424.70) rotate(-90)" font-size="8.5" text-anchor="end" fill="#000">3039</text>
<text transform="translate(484.04,424.70) rotate(-90)" font-size="8.5" text-anchor="end" fill="#000">85070069</text>
<text transform="translate(491.88,424.70) rotate(-90)" font-size="8.5" text-anchor="end" fill="#000">85060053</text>
<text transform="translate(499.72,424.70) rotate(-90)" font-size="8.5" text-anchor="end" fill="#000">85060256</text>
<text transform="translate(507.56,424.70) rotate(-90)" font-size="8.5" text-anchor="end" fill="#000">85040040</text>
<text transform="translate(515.40,424.70) rotate(-90)" font-size="8.5" text-anchor="end" fill="#000">85060068</text>
<text transform="translate(523.24,424.70) rotate(-90)" font-size="8.5" text-anchor="end" fill="#000">85050135</text>
<text transform="translate(531.08,424.70) rotate(-90)" font-size="8.5" text-anchor="end" fill="#000">3032</text>
<text transform="translate(538.92,424.70) rotate(-90)" font-size="8.5" text-anchor="end" fill="#000">85070093</text>
<text transform="translate(546.76,424.70) rotate(-90)" font-size="8.5" text-anchor="end" fill="#000">85070165</text>
<text transform="translate(554.60,424.70) rotate(-90)" font-size="8.5" text-anchor="end" fill="#000">85070085</text>
<text transform="translate(562.44,424.70) rotate(-90)" font-size="8.5" text-anchor="end" fill="#000">85070133</text>
<text transform="translate(570.28,424.70) rotate(-90)" font-size="8.5" text-anchor="end" fill="#000">85060216</text>
<text transform="translate(578.12,424.70) rotate(-90)" font-size="8.5" text-anchor="end" fill="#000">3024</text>
<text x="583.50" y="349.05" font-size="8.47" text-anchor="start" fill="#000">Sequencing platform</text>
<text x="583.50" y="362.90" font-size="8.47" text-anchor="start" fill="#000">Smoking status</text>
<text x="583.50" y="376.75" font-size="8.47" text-anchor="start" fill="#000">Gender</text>
<text x="583.50" y="390.60" font-size="8.47" text-anchor="start" fill="#000">Ethnicity</text>
<text x="583.50" y="404.45" font-size="8.47" text-anchor="start" fill="#000">Stage</text>
<text x="583.50" y="418.30" font-size="8.47" text-anchor="start" fill="#000">Age</text>
<text x="59.90" y="487.50" font-size="8.50" text-anchor="start" font-weight="bold" fill="#000">Sequencing platform</text>
<rect x="59.90" y="494.00" width="8.60" height="8.85" fill="#22e389"/>
<text x="72.90" y="501.68" font-size="8.50" text-anchor="start" fill="#000">Custom Capture</text>
<rect x="59.90" y="503.15" width="8.60" height="8.85" fill="#566b4f"/>
<text x="72.90" y="510.82" font-size="8.50" text-anchor="start" fill="#000">WES</text>
<text x="153.70" y="487.50" font-size="8.50" text-anchor="start" font-weight="bold" fill="#000">Smoking</text>
<rect x="153.70" y="494.00" width="8.60" height="8.85" fill="#bfa5a4"/>
<text x="166.70" y="501.68" font-size="8.50" text-anchor="start" fill="#000">CS</text>
<rect x="153.70" y="503.15" width="8.60" height="8.85" fill="#ebb76b"/>
<text x="166.70" y="510.82" font-size="8.50" text-anchor="start" fill="#000">EX</text>
<rect x="153.70" y="512.30" width="8.60" height="8.85" fill="#3b0a17"/>
<text x="166.70" y="519.98" font-size="8.50" text-anchor="start" fill="#000">NS</text>
<text x="198.80" y="487.50" font-size="8.50" text-anchor="start" font-weight="bold" fill="#000">Gender</text>
<rect x="198.80" y="494.00" width="8.60" height="8.85" fill="#55998f"/>
<text x="212.40" y="501.68" font-size="8.50" text-anchor="start" fill="#000">Female</text>
<rect x="198.80" y="503.15" width="8.60" height="8.85" fill="#9c6556"/>
<text x="212.40" y="510.82" font-size="8.50" text-anchor="start" fill="#000">Male</text>
<text x="244.60" y="487.50" font-size="8.50" text-anchor="start" font-weight="bold" fill="#000">Ethnicity</text>
<rect x="244.60" y="494.00" width="8.60" height="8.85" fill="#a08889"/>
<text x="257.20" y="501.68" font-size="8.50" text-anchor="start" fill="#000">American Indian Or Alaska Native</text>
<rect x="244.60" y="503.15" width="8.60" height="8.85" fill="#9b6ba1"/>
<text x="257.20" y="510.82" font-size="8.50" text-anchor="start" fill="#000">Asian</text>
<rect x="244.60" y="512.30" width="8.60" height="8.85" fill="#9b9b69"/>
<text x="257.20" y="519.98" font-size="8.50" text-anchor="start" fill="#000">Caucasian</text>
<text x="397.80" y="487.50" font-size="8.50" text-anchor="start" font-weight="bold" fill="#000">Stage</text>
<rect x="397.80" y="494.00" width="8.60" height="8.85" fill="#efefef"/>
<text x="411.00" y="501.27" font-size="8.50" text-anchor="start" fill="#000">I</text>
<rect x="397.80" y="503.15" width="8.60" height="8.85" fill="#ebebeb"/>
<text x="411.00" y="510.42" font-size="8.50" text-anchor="start" fill="#000">IA</text>
<rect x="397.80" y="512.30" width="8.60" height="8.85" fill="#cccccc"/>
<text x="411.00" y="519.58" font-size="8.50" text-anchor="start" fill="#000">IB</text>
<rect x="397.80" y="521.45" width="8.60" height="8.85" fill="#999999"/>
<text x="411.00" y="528.73" font-size="8.50" text-anchor="start" fill="#000">IIA</text>
<rect x="397.80" y="530.60" width="8.60" height="8.85" fill="#666666"/>
<text x="411.00" y="537.88" font-size="8.50" text-anchor="start" fill="#000">IIB</text>
<rect x="397.80" y="539.75" width="8.60" height="8.85" fill="#333333"/>
<text x="411.00" y="547.03" font-size="8.50" text-anchor="start" fill="#000">IIIA</text>
<rect x="397.80" y="548.90" width="8.60" height="8.85" fill="#000000"/>
<text x="411.00" y="556.18" font-size="8.50" text-anchor="start" fill="#000">IV</text>
<text x="500.80" y="487.50" font-size="8.50" text-anchor="start" font-weight="bold" fill="#000">Mutations</text>
<rect x="500.80" y="494.00" width="8.60" height="8.85" fill="#00cd00"/>
<text x="513.80" y="501.18" font-size="8.50" text-anchor="start" fill="#000">Missense</text>
<rect x="500.80" y="503.15" width="8.60" height="8.85" fill="#00aa00"/>
<text x="513.80" y="510.32" font-size="8.50" text-anchor="start" fill="#000">Inframe</text>
<rect x="500.80" y="512.30" width="8.60" height="8.85" fill="#008400"/>
<text x="513.80" y="519.48" font-size="8.50" text-anchor="start" fill="#000">Frameshift</text>
<rect x="500.80" y="521.45" width="8.60" height="8.85" fill="#006800"/>
<text x="513.80" y="528.63" font-size="8.50" text-anchor="start" fill="#000">Splicing</text>
<rect x="500.80" y="530.60" width="8.60" height="8.85" fill="#004d00"/>
<text x="513.80" y="537.78" font-size="8.50" text-anchor="start" fill="#000">Multiple</text>
<rect x="500.80" y="539.75" width="8.60" height="8.85" fill="#003000"/>
<text x="513.80" y="546.93" font-size="8.50" text-anchor="start" fill="#000">Nonsense</text>
<text x="578.00" y="487.50" font-size="8.50" text-anchor="start" font-weight="bold" fill="#000">Copy Number</text>
<rect x="578.00" y="494.00" width="8.60" height="8.85" fill="#a83838"/>
<text x="590.70" y="501.18" font-size="8.50" text-anchor="start" fill="#000">Amplification</text>
<rect x="578.00" y="503.15" width="8.60" height="8.85" fill="#5151b0"/>
<text x="590.70" y="510.32" font-size="8.50" text-anchor="start" fill="#000">Deletion</text>
<text x="448.70" y="487.50" font-size="8.50" text-anchor="start" font-weight="bold" fill="#000">Age</text>
<defs><linearGradient id="ag" x1="0" y1="0" x2="0" y2="1"><stop offset="0" stop-color="#1f8a14"/><stop offset="0.18" stop-color="#3a9a2f"/><stop offset="1" stop-color="#ffffff"/></linearGradient></defs>
<rect x="448.20" y="493.20" width="9.80" height="48.60" fill="url(#ag)"/>
<text x="461.80" y="497.40" font-size="8.50" text-anchor="start" fill="#000">90</text>
<rect x="448.20" y="494.10" width="1.60" height="0.60" fill="#fff"/>
<rect x="456.40" y="494.10" width="1.60" height="0.60" fill="#fff"/>
<text x="461.80" y="507.85" font-size="8.50" text-anchor="start" fill="#000">80</text>
<rect x="448.20" y="504.55" width="1.60" height="0.60" fill="#fff"/>
<rect x="456.40" y="504.55" width="1.60" height="0.60" fill="#fff"/>
<text x="461.80" y="518.30" font-size="8.50" text-anchor="start" fill="#000">70</text>
<rect x="448.20" y="515.00" width="1.60" height="0.60" fill="#fff"/>
<rect x="456.40" y="515.00" width="1.60" height="0.60" fill="#fff"/>
<text x="461.80" y="528.75" font-size="8.50" text-anchor="start" fill="#000">60</text>
<rect x="448.20" y="525.45" width="1.60" height="0.60" fill="#fff"/>
<rect x="456.40" y="525.45" width="1.60" height="0.60" fill="#fff"/>
<text x="461.80" y="539.20" font-size="8.50" text-anchor="start" fill="#000">50</text>
<rect x="448.20" y="535.90" width="1.60" height="0.60" fill="#fff"/>
<rect x="456.40" y="535.90" width="1.60" height="0.60" fill="#fff"/>
<text x="461.80" y="549.65" font-size="8.50" text-anchor="start" fill="#000">40</text>
<text x="-0.2" y="582.7" font-size="14.6" font-weight="bold" fill="#000">b</text>
<text x="177.40" y="584.90" font-size="8.45" text-anchor="middle" fill="#000">BCCA</text>
<text x="467.00" y="584.90" font-size="8.45" text-anchor="middle" fill="#000">TCGA</text>
<text x="83.60" y="603.73" font-size="8.30" text-anchor="end" fill="#000">TP53</text>
<rect x="88.00" y="592.00" width="15.40" height="16.65" fill="#7dc24b"/>
<rect x="103.30" y="592.00" width="30.70" height="16.65" fill="#5050ae"/>
<rect x="133.90" y="592.00" width="107.20" height="16.65" fill="#528282"/>
<text x="247.00" y="603.73" font-size="8.45" text-anchor="start" fill="#000">(10/65 = 15.4%)</text>
<rect x="373.20" y="592.00" width="7.97" height="16.65" fill="#5050ae"/>
<rect x="381.07" y="592.00" width="191.72" height="16.65" fill="#528282"/>
<text x="578.40" y="603.73" font-size="8.45" text-anchor="start" fill="#000">(76/230 = 33%)</text>
<text x="665.60" y="601.80" font-size="8.30" text-anchor="middle" fill="#000">29%</text>
<text x="83.60" y="622.23" font-size="8.30" text-anchor="end" fill="#000">SHPRH</text>
<rect x="88.00" y="610.50" width="137.80" height="16.65" fill="#5050ae"/>
<text x="230.40" y="622.23" font-size="8.45" text-anchor="start" fill="#000">(9/65 = 13.8%)</text>
<rect x="373.20" y="610.50" width="10.60" height="16.65" fill="#5050ae"/>
<rect x="383.70" y="610.50" width="21.10" height="16.65" fill="#528282"/>
<text x="409.30" y="622.23" font-size="8.45" text-anchor="start" fill="#000">(12/230 = 5.2%)</text>
<text x="665.60" y="620.12" font-size="8.30" text-anchor="middle" fill="#000">7%</text>
<text x="83.60" y="640.73" font-size="8.30" text-anchor="end" fill="#000">ASCC3</text>
<rect x="88.00" y="629.00" width="199.00" height="16.65" fill="#5050ae"/>
<text x="292.80" y="640.73" font-size="8.45" text-anchor="start" fill="#000">(13/65 = 20%)</text>
<rect x="373.20" y="629.00" width="5.35" height="16.65" fill="#5050ae"/>
<rect x="378.45" y="629.00" width="7.97" height="16.65" fill="#528282"/>
<text x="391.60" y="640.73" font-size="8.45" text-anchor="start" fill="#000">(5/230 = 2.2%)</text>
<text x="665.60" y="638.44" font-size="8.30" text-anchor="middle" fill="#000">6%</text>
<text x="83.60" y="659.23" font-size="8.30" text-anchor="end" fill="#000">SVEP1</text>
<rect x="88.00" y="647.50" width="15.40" height="16.65" fill="#5050ae"/>
<rect x="103.30" y="647.50" width="46.00" height="16.65" fill="#528282"/>
<text x="153.60" y="659.23" font-size="8.45" text-anchor="start" fill="#000">(4/65 = 6.2%)</text>
<rect x="373.20" y="647.50" width="28.98" height="16.65" fill="#528282"/>
<text x="407.30" y="659.23" font-size="8.45" text-anchor="start" fill="#000">(11/230 = 4.8%)</text>
<text x="665.60" y="656.76" font-size="8.30" text-anchor="middle" fill="#000">5%</text>
<text x="83.60" y="677.73" font-size="8.30" text-anchor="end" fill="#000">MTMR10</text>
<rect x="88.00" y="666.00" width="15.40" height="16.65" fill="#528282"/>
<text x="109.00" y="677.73" font-size="8.45" text-anchor="start" fill="#000">(1/15 = 6.7%)</text>
<rect x="373.20" y="666.00" width="21.10" height="16.65" fill="#5050ae"/>
<rect x="394.20" y="666.00" width="2.73" height="16.65" fill="#528282"/>
<text x="400.90" y="677.73" font-size="8.45" text-anchor="start" fill="#000">(9/230 = 3.9%)</text>
<text x="665.60" y="675.08" font-size="8.30" text-anchor="middle" fill="#000">4%</text>
<text x="83.60" y="696.23" font-size="8.30" text-anchor="end" fill="#000">SEL1L</text>
<rect x="88.00" y="684.50" width="137.80" height="16.65" fill="#5050ae"/>
<text x="230.40" y="696.23" font-size="8.45" text-anchor="start" fill="#000">(9/65 = 13.8%)</text>
<rect x="373.20" y="684.50" width="2.73" height="16.65" fill="#5050ae"/>
<text x="381.90" y="696.23" font-size="8.45" text-anchor="start" fill="#000">(1/230 = 0.4%)</text>
<text x="665.60" y="693.40" font-size="8.30" text-anchor="middle" fill="#000">3%</text>
<text x="83.60" y="714.73" font-size="8.30" text-anchor="end" fill="#000">MAP3K5</text>
<rect x="88.00" y="703.00" width="61.30" height="16.65" fill="#5050ae"/>
<text x="153.60" y="714.73" font-size="8.45" text-anchor="start" fill="#000">(4/65 = 6.2%)</text>
<rect x="373.20" y="703.00" width="7.97" height="16.65" fill="#5050ae"/>
<rect x="381.07" y="703.00" width="5.35" height="16.65" fill="#528282"/>
<text x="391.40" y="714.73" font-size="8.45" text-anchor="start" fill="#000">(5/230 = 2.2%)</text>
<text x="665.60" y="711.72" font-size="8.30" text-anchor="middle" fill="#000">3%</text>
<text x="83.60" y="733.23" font-size="8.30" text-anchor="end" fill="#000">CELSR2</text>
<rect x="88.00" y="721.50" width="15.40" height="16.65" fill="#7dc24b"/>
<rect x="103.30" y="721.50" width="15.40" height="16.65" fill="#5050ae"/>
<rect x="118.60" y="721.50" width="15.40" height="16.65" fill="#528282"/>
<text x="138.40" y="733.23" font-size="8.45" text-anchor="start" fill="#000">(3/65 = 4.6%)</text>
<rect x="373.20" y="721.50" width="5.35" height="16.65" fill="#5050ae"/>
<rect x="378.45" y="721.50" width="7.97" height="16.65" fill="#528282"/>
<text x="391.80" y="733.23" font-size="8.45" text-anchor="start" fill="#000">(5/230 = 2.2%)</text>
<text x="665.60" y="730.04" font-size="8.30" text-anchor="middle" fill="#000">3%</text>
<text x="83.60" y="751.73" font-size="8.30" text-anchor="end" fill="#000">LAMA1</text>
<text x="90.80" y="751.73" font-size="8.45" text-anchor="start" fill="#000">(0/15 = 0%)</text>
<rect x="87.70" y="740.00" width="0.60" height="16.65" fill="#dfe6e6"/>
<rect x="373.20" y="740.00" width="5.35" height="16.65" fill="#5050ae"/>
<rect x="378.45" y="740.00" width="10.60" height="16.65" fill="#528282"/>
<text x="394.10" y="751.73" font-size="8.45" text-anchor="start" fill="#000">(6/230 = 2.6%)</text>
<text x="665.60" y="748.36" font-size="8.30" text-anchor="middle" fill="#000">2%</text>
<text x="83.60" y="770.23" font-size="8.30" text-anchor="end" fill="#000">KCNMA1</text>
<rect x="88.00" y="758.50" width="30.70" height="16.65" fill="#5050ae"/>
<rect x="118.60" y="758.50" width="30.70" height="16.65" fill="#528282"/>
<text x="153.60" y="770.23" font-size="8.45" text-anchor="start" fill="#000">(4/65 = 6.2%)</text>
<rect x="373.20" y="758.50" width="2.73" height="16.65" fill="#5050ae"/>
<rect x="375.82" y="758.50" width="5.35" height="16.65" fill="#528282"/>
<text x="385.80" y="770.23" font-size="8.45" text-anchor="start" fill="#000">(3/230 = 1.3%)</text>
<text x="665.60" y="766.68" font-size="8.30" text-anchor="middle" fill="#000">2%</text>
<text x="83.60" y="788.73" font-size="8.30" text-anchor="end" fill="#000">DST</text>
<rect x="88.00" y="777.00" width="15.40" height="16.65" fill="#528282"/>
<text x="109.00" y="788.73" font-size="8.45" text-anchor="start" fill="#000">(1/15 = 6.7%)</text>
<rect x="373.20" y="777.00" width="2.73" height="16.65" fill="#5050ae"/>
<rect x="375.82" y="777.00" width="7.97" height="16.65" fill="#528282"/>
<text x="387.70" y="788.73" font-size="8.45" text-anchor="start" fill="#000">(4/230 = 1.7%)</text>
<text x="665.60" y="785.00" font-size="8.30" text-anchor="middle" fill="#000">2%</text>
<text x="83.60" y="807.23" font-size="8.30" text-anchor="end" fill="#000">DNAH5</text>
<rect x="88.00" y="795.50" width="30.70" height="16.65" fill="#5050ae"/>
<text x="122.30" y="807.23" font-size="8.45" text-anchor="start" fill="#000">(2/65 = 3.1%)</text>
<rect x="373.20" y="795.50" width="2.73" height="16.65" fill="#528282"/>
<text x="381.00" y="807.23" font-size="8.45" text-anchor="start" fill="#000">(1/230 = 0.4%)</text>
<text x="665.60" y="803.32" font-size="8.30" text-anchor="middle" fill="#000">1%</text>
<text x="83.60" y="825.73" font-size="8.30" text-anchor="end" fill="#000">RNF25</text>
<text x="90.80" y="825.73" font-size="8.45" text-anchor="start" fill="#000">(0/15 = 0%)</text>
<rect x="87.70" y="814.00" width="0.60" height="16.65" fill="#dfe6e6"/>
<rect x="372.90" y="814.00" width="0.60" height="16.65" fill="#dfe6e6"/>
<text x="377.30" y="825.73" font-size="8.45" text-anchor="start" fill="#000">(0/230 = 0%)</text>
<text x="665.60" y="821.64" font-size="8.30" text-anchor="middle" fill="#000">0%</text>
<rect x="87.60" y="832.20" width="269.10" height="1.20" fill="#333"/>
<rect x="87.50" y="832.80" width="1.00" height="3.20" fill="#333"/>
<text x="88.00" y="846.20" font-size="8.45" text-anchor="middle" fill="#000">0</text>
<rect x="164.00" y="832.80" width="1.00" height="3.20" fill="#333"/>
<text x="164.50" y="846.20" font-size="8.45" text-anchor="middle" fill="#000">5</text>
<rect x="240.50" y="832.80" width="1.00" height="3.20" fill="#333"/>
<text x="241.00" y="846.20" font-size="8.45" text-anchor="middle" fill="#000">10</text>
<rect x="372.70" y="832.20" width="269.80" height="1.20" fill="#333"/>
<rect x="372.70" y="832.80" width="1.00" height="3.20" fill="#333"/>
<text x="373.20" y="846.20" font-size="8.45" text-anchor="middle" fill="#000">0</text>
<rect x="385.82" y="832.80" width="1.00" height="3.20" fill="#333"/>
<text x="386.32" y="846.20" font-size="8.45" text-anchor="middle" fill="#000">5</text>
<rect x="398.95" y="832.80" width="1.00" height="3.20" fill="#333"/>
<text x="399.45" y="846.20" font-size="8.45" text-anchor="middle" fill="#000">10</text>
<text x="366.30" y="859.30" font-size="8.46" text-anchor="middle" fill="#000">Number of Samples</text>
<rect x="486.6" y="771.4" width="129.8" height="50" fill="#fff" stroke="#111" stroke-width="1"/>
<text x="490.50" y="784.00" font-size="7.12" text-anchor="start" font-weight="bold" fill="#000">Two-hit alterations</text>
<rect x="490.50" y="786.30" width="10.50" height="10.40" fill="#528282"/>
<text x="507.80" y="795.00" font-size="7.04" text-anchor="start" fill="#000">Heterozygous Mutation + Loss</text>
<rect x="490.50" y="797.15" width="10.50" height="10.40" fill="#5050ae"/>
<text x="507.80" y="805.85" font-size="7.04" text-anchor="start" fill="#000">Deep Deletion</text>
<rect x="490.50" y="808.00" width="10.50" height="10.40" fill="#7dc24b"/>
<text x="507.80" y="816.70" font-size="7.04" text-anchor="start" fill="#000">Mutation intwo copies</text>
</svg>
</body></html>
